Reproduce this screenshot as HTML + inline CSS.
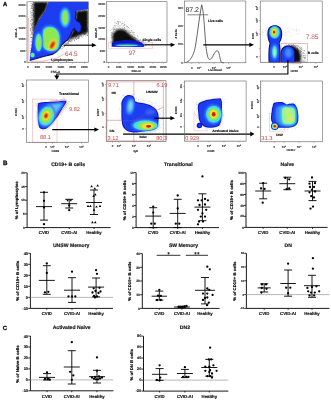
<!DOCTYPE html>
<html><head><meta charset="utf-8"><style>
html,body{margin:0;padding:0;background:#fff;width:331px;height:400px;overflow:hidden}
svg{display:block;position:absolute;left:0;top:0;opacity:0.999}
text{font-family:"Liberation Sans",sans-serif;text-rendering:geometricPrecision}
</style></head><body>
<svg width="331" height="400" viewBox="0 0 331 400" font-family="Liberation Sans, sans-serif">
<defs>
<filter id="b05" x="-20%" y="-20%" width="140%" height="140%"><feGaussianBlur stdDeviation="0.45"/></filter>
<filter id="b1" x="-20%" y="-20%" width="140%" height="140%"><feGaussianBlur stdDeviation="0.8"/></filter>
<filter id="b2" x="-30%" y="-30%" width="160%" height="160%"><feGaussianBlur stdDeviation="1.5"/></filter>
<filter id="b3" x="-30%" y="-30%" width="160%" height="160%"><feGaussianBlur stdDeviation="2.5"/></filter>
<filter id="dots" x="-5%" y="-5%" width="110%" height="110%" color-interpolation-filters="sRGB">
 <feTurbulence type="fractalNoise" baseFrequency="0.9" numOctaves="2" seed="3" result="n"/>
 <feColorMatrix in="n" type="matrix" values="0 0 0 0 0  0 0 0 0 0  0 0 0 0 0  0 0 0 3 -0.9" result="m"/>
 <feComposite in="SourceGraphic" in2="m" operator="in"/>
</filter>
</defs>
<rect width="331" height="400" fill="#fff"/>

<text x="2.9" y="6.2" font-size="5.8" text-anchor="start" fill="#111" font-weight="bold" stroke="#111" stroke-width="0.3" >A</text>
<text x="3.0" y="164.6" font-size="6.2" text-anchor="start" fill="#111" font-weight="bold" stroke="#111" stroke-width="0.3" >B</text>
<text x="2.8" y="330.1" font-size="6.0" text-anchor="start" fill="#111" font-weight="bold" stroke="#111" stroke-width="0.3" >C</text>
<g>
<clipPath id="c1"><rect x="27" y="1.8" width="61.5" height="60.5"/></clipPath>
<g clip-path="url(#c1)">
<path d="M33.7 30.6h0.5v0.5h-0.5zM31.9 18.9h0.5v0.5h-0.5zM31.8 47.3h0.5v0.5h-0.5zM43.9 4.2h0.5v0.5h-0.5zM33.1 2.6h0.5v0.5h-0.5zM40.6 5.1h0.5v0.5h-0.5zM33.8 15.4h0.5v0.5h-0.5zM30.6 27.9h0.5v0.5h-0.5zM39.1 17.4h0.5v0.5h-0.5zM36.3 14.7h0.5v0.5h-0.5zM35.8 5.7h0.5v0.5h-0.5zM31.5 37.2h0.5v0.5h-0.5zM31.7 20.5h0.5v0.5h-0.5zM32.4 15.6h0.5v0.5h-0.5zM32.0 5.2h0.5v0.5h-0.5zM45.9 11.8h0.5v0.5h-0.5zM32.6 38.0h0.5v0.5h-0.5zM32.3 25.4h0.5v0.5h-0.5zM34.3 17.0h0.5v0.5h-0.5zM34.2 24.0h0.5v0.5h-0.5zM32.0 57.4h0.5v0.5h-0.5zM34.3 16.3h0.5v0.5h-0.5zM35.9 5.9h0.5v0.5h-0.5zM31.8 34.5h0.5v0.5h-0.5zM34.9 35.6h0.5v0.5h-0.5zM37.4 27.3h0.5v0.5h-0.5zM33.7 10.5h0.5v0.5h-0.5zM35.0 12.5h0.5v0.5h-0.5zM38.4 7.6h0.5v0.5h-0.5zM30.8 55.9h0.5v0.5h-0.5zM41.9 18.3h0.5v0.5h-0.5zM33.5 42.3h0.5v0.5h-0.5zM31.4 14.6h0.5v0.5h-0.5zM42.3 17.5h0.5v0.5h-0.5zM30.3 16.9h0.5v0.5h-0.5zM38.9 5.2h0.5v0.5h-0.5zM33.5 22.5h0.5v0.5h-0.5zM41.4 9.2h0.5v0.5h-0.5zM32.8 3.8h0.5v0.5h-0.5zM30.4 53.0h0.5v0.5h-0.5zM30.4 37.6h0.5v0.5h-0.5zM31.5 32.5h0.5v0.5h-0.5zM31.6 37.7h0.5v0.5h-0.5zM31.7 44.0h0.5v0.5h-0.5zM30.6 35.6h0.5v0.5h-0.5zM39.6 14.7h0.5v0.5h-0.5zM35.1 2.4h0.5v0.5h-0.5zM34.1 11.3h0.5v0.5h-0.5zM34.0 26.0h0.5v0.5h-0.5zM32.7 29.7h0.5v0.5h-0.5zM35.5 11.3h0.5v0.5h-0.5zM39.0 17.3h0.5v0.5h-0.5zM34.3 25.1h0.5v0.5h-0.5zM31.5 3.6h0.5v0.5h-0.5zM47.5 4.1h0.5v0.5h-0.5zM39.1 3.2h0.5v0.5h-0.5zM32.8 4.4h0.5v0.5h-0.5zM43.7 13.0h0.5v0.5h-0.5zM39.5 11.8h0.5v0.5h-0.5zM30.2 28.3h0.5v0.5h-0.5zM44.3 11.9h0.5v0.5h-0.5zM35.4 21.2h0.5v0.5h-0.5zM48.1 6.7h0.5v0.5h-0.5zM32.6 27.3h0.5v0.5h-0.5zM43.0 13.3h0.5v0.5h-0.5zM31.7 26.6h0.5v0.5h-0.5zM39.7 3.4h0.5v0.5h-0.5zM46.2 5.4h0.5v0.5h-0.5zM46.0 11.5h0.5v0.5h-0.5zM32.8 10.2h0.5v0.5h-0.5zM34.4 31.4h0.5v0.5h-0.5zM36.2 23.2h0.5v0.5h-0.5zM41.5 13.1h0.5v0.5h-0.5zM42.1 3.4h0.5v0.5h-0.5zM43.8 5.5h0.5v0.5h-0.5zM35.4 28.4h0.5v0.5h-0.5zM32.5 26.2h0.5v0.5h-0.5zM39.5 19.6h0.5v0.5h-0.5zM33.8 36.5h0.5v0.5h-0.5zM45.6 3.1h0.5v0.5h-0.5zM33.9 14.6h0.5v0.5h-0.5zM32.1 42.9h0.5v0.5h-0.5zM32.5 30.5h0.5v0.5h-0.5zM35.0 12.9h0.5v0.5h-0.5zM37.5 25.0h0.5v0.5h-0.5zM40.6 10.8h0.5v0.5h-0.5zM34.1 37.3h0.5v0.5h-0.5zM47.8 9.3h0.5v0.5h-0.5zM35.2 7.3h0.5v0.5h-0.5zM45.8 8.9h0.5v0.5h-0.5zM30.4 13.1h0.5v0.5h-0.5zM33.8 5.8h0.5v0.5h-0.5zM32.1 3.9h0.5v0.5h-0.5zM41.4 10.0h0.5v0.5h-0.5zM33.7 13.3h0.5v0.5h-0.5zM31.2 55.3h0.5v0.5h-0.5zM36.5 28.0h0.5v0.5h-0.5zM42.0 2.5h0.5v0.5h-0.5zM33.6 27.3h0.5v0.5h-0.5zM33.9 11.1h0.5v0.5h-0.5zM40.3 2.7h0.5v0.5h-0.5zM44.5 5.8h0.5v0.5h-0.5zM36.8 28.1h0.5v0.5h-0.5zM49.6 3.1h0.5v0.5h-0.5zM35.1 24.4h0.5v0.5h-0.5zM31.0 12.8h0.5v0.5h-0.5zM37.5 7.3h0.5v0.5h-0.5zM46.2 6.1h0.5v0.5h-0.5zM30.9 54.1h0.5v0.5h-0.5zM33.2 28.3h0.5v0.5h-0.5zM33.4 29.6h0.5v0.5h-0.5zM42.2 5.1h0.5v0.5h-0.5zM37.3 17.9h0.5v0.5h-0.5zM35.9 2.6h0.5v0.5h-0.5zM34.9 4.2h0.5v0.5h-0.5zM33.1 44.2h0.5v0.5h-0.5zM45.0 4.6h0.5v0.5h-0.5zM31.5 52.7h0.5v0.5h-0.5zM42.1 8.3h0.5v0.5h-0.5zM34.1 4.7h0.5v0.5h-0.5zM40.6 8.8h0.5v0.5h-0.5zM39.1 16.5h0.5v0.5h-0.5zM32.3 52.0h0.5v0.5h-0.5zM37.2 17.1h0.5v0.5h-0.5zM45.1 12.5h0.5v0.5h-0.5zM30.8 5.2h0.5v0.5h-0.5zM35.4 25.7h0.5v0.5h-0.5zM42.5 7.6h0.5v0.5h-0.5zM40.8 5.9h0.5v0.5h-0.5zM31.7 39.8h0.5v0.5h-0.5zM34.2 21.1h0.5v0.5h-0.5zM31.5 8.5h0.5v0.5h-0.5zM45.4 13.8h0.5v0.5h-0.5zM38.5 16.3h0.5v0.5h-0.5zM38.6 22.6h0.5v0.5h-0.5zM31.9 51.0h0.5v0.5h-0.5zM31.6 6.5h0.5v0.5h-0.5zM45.5 6.1h0.5v0.5h-0.5zM34.3 39.0h0.5v0.5h-0.5zM31.6 18.9h0.5v0.5h-0.5zM35.7 9.8h0.5v0.5h-0.5zM37.3 8.4h0.5v0.5h-0.5zM36.4 24.3h0.5v0.5h-0.5zM35.0 22.1h0.5v0.5h-0.5zM37.3 22.2h0.5v0.5h-0.5zM37.9 23.6h0.5v0.5h-0.5zM33.9 33.5h0.5v0.5h-0.5zM33.5 44.5h0.5v0.5h-0.5zM30.4 30.8h0.5v0.5h-0.5zM46.1 5.4h0.5v0.5h-0.5zM31.7 6.4h0.5v0.5h-0.5zM31.7 37.4h0.5v0.5h-0.5zM32.9 43.7h0.5v0.5h-0.5zM43.0 15.6h0.5v0.5h-0.5zM37.9 20.8h0.5v0.5h-0.5zM38.4 10.0h0.5v0.5h-0.5zM37.5 11.2h0.5v0.5h-0.5zM34.1 25.7h0.5v0.5h-0.5zM31.2 19.1h0.5v0.5h-0.5zM32.3 38.2h0.5v0.5h-0.5zM45.5 11.9h0.5v0.5h-0.5zM31.2 27.6h0.5v0.5h-0.5zM30.7 7.9h0.5v0.5h-0.5zM33.7 14.0h0.5v0.5h-0.5zM41.9 14.4h0.5v0.5h-0.5zM33.7 17.6h0.5v0.5h-0.5zM33.5 44.4h0.5v0.5h-0.5zM39.7 14.2h0.5v0.5h-0.5zM31.0 55.1h0.5v0.5h-0.5zM43.2 15.2h0.5v0.5h-0.5zM30.2 28.4h0.5v0.5h-0.5zM33.1 10.6h0.5v0.5h-0.5zM36.4 16.4h0.5v0.5h-0.5zM35.3 31.8h0.5v0.5h-0.5zM33.0 45.1h0.5v0.5h-0.5zM30.0 48.0h0.5v0.5h-0.5zM31.6 17.0h0.5v0.5h-0.5zM44.3 7.3h0.5v0.5h-0.5zM48.3 6.9h0.5v0.5h-0.5zM33.2 48.6h0.5v0.5h-0.5zM36.2 19.3h0.5v0.5h-0.5zM31.5 19.0h0.5v0.5h-0.5zM32.1 24.0h0.5v0.5h-0.5zM30.2 23.0h0.5v0.5h-0.5zM44.2 15.1h0.5v0.5h-0.5zM30.2 57.5h0.5v0.5h-0.5zM36.0 20.8h0.5v0.5h-0.5zM35.1 13.0h0.5v0.5h-0.5zM46.5 7.0h0.5v0.5h-0.5zM32.8 7.1h0.5v0.5h-0.5zM33.6 24.4h0.5v0.5h-0.5zM31.8 14.5h0.5v0.5h-0.5zM33.1 8.8h0.5v0.5h-0.5zM38.1 5.9h0.5v0.5h-0.5zM37.7 20.4h0.5v0.5h-0.5zM38.2 2.7h0.5v0.5h-0.5zM30.4 20.4h0.5v0.5h-0.5zM32.1 23.0h0.5v0.5h-0.5zM33.2 44.9h0.5v0.5h-0.5zM32.8 41.9h0.5v0.5h-0.5zM42.5 12.9h0.5v0.5h-0.5zM31.7 15.5h0.5v0.5h-0.5zM37.2 27.8h0.5v0.5h-0.5zM41.2 16.7h0.5v0.5h-0.5zM32.5 48.1h0.5v0.5h-0.5zM34.8 34.0h0.5v0.5h-0.5zM46.6 12.2h0.5v0.5h-0.5zM41.0 6.1h0.5v0.5h-0.5zM30.6 11.9h0.5v0.5h-0.5zM46.1 2.7h0.5v0.5h-0.5zM34.0 28.1h0.5v0.5h-0.5zM32.9 23.5h0.5v0.5h-0.5zM41.4 11.6h0.5v0.5h-0.5zM40.4 16.6h0.5v0.5h-0.5zM42.8 3.9h0.5v0.5h-0.5zM43.4 9.9h0.5v0.5h-0.5zM36.4 4.9h0.5v0.5h-0.5zM41.9 5.7h0.5v0.5h-0.5zM32.5 26.9h0.5v0.5h-0.5zM31.0 40.9h0.5v0.5h-0.5zM40.5 15.2h0.5v0.5h-0.5zM36.1 24.0h0.5v0.5h-0.5zM34.7 5.6h0.5v0.5h-0.5zM32.0 46.3h0.5v0.5h-0.5zM32.5 32.0h0.5v0.5h-0.5zM49.0 1.8h0.5v0.5h-0.5zM34.9 18.6h0.5v0.5h-0.5zM36.5 5.3h0.5v0.5h-0.5zM37.9 21.8h0.5v0.5h-0.5zM41.7 4.4h0.5v0.5h-0.5zM30.6 52.3h0.5v0.5h-0.5zM36.2 29.8h0.5v0.5h-0.5zM39.5 13.4h0.5v0.5h-0.5zM39.4 11.5h0.5v0.5h-0.5zM34.0 37.3h0.5v0.5h-0.5zM31.0 7.8h0.5v0.5h-0.5zM44.3 9.4h0.5v0.5h-0.5zM38.9 6.2h0.5v0.5h-0.5zM34.5 19.1h0.5v0.5h-0.5zM44.2 12.8h0.5v0.5h-0.5zM33.6 15.0h0.5v0.5h-0.5zM34.6 18.7h0.5v0.5h-0.5zM31.8 57.0h0.5v0.5h-0.5zM40.6 4.3h0.5v0.5h-0.5zM42.0 17.8h0.5v0.5h-0.5zM31.7 17.8h0.5v0.5h-0.5zM35.6 32.6h0.5v0.5h-0.5zM40.0 11.9h0.5v0.5h-0.5zM45.6 11.1h0.5v0.5h-0.5zM42.2 15.0h0.5v0.5h-0.5zM34.7 29.3h0.5v0.5h-0.5zM34.4 34.4h0.5v0.5h-0.5zM40.0 3.8h0.5v0.5h-0.5zM33.6 10.3h0.5v0.5h-0.5zM30.4 29.7h0.5v0.5h-0.5zM31.5 52.8h0.5v0.5h-0.5zM32.9 19.3h0.5v0.5h-0.5zM30.8 19.5h0.5v0.5h-0.5zM31.8 47.9h0.5v0.5h-0.5zM33.4 16.1h0.5v0.5h-0.5zM33.2 40.6h0.5v0.5h-0.5zM31.2 24.9h0.5v0.5h-0.5zM37.3 14.0h0.5v0.5h-0.5zM30.8 15.3h0.5v0.5h-0.5zM37.9 18.6h0.5v0.5h-0.5zM38.5 6.1h0.5v0.5h-0.5zM30.7 57.8h0.5v0.5h-0.5zM34.6 16.0h0.5v0.5h-0.5zM41.0 15.4h0.5v0.5h-0.5zM37.3 20.7h0.5v0.5h-0.5zM30.8 24.5h0.5v0.5h-0.5zM43.0 5.1h0.5v0.5h-0.5zM34.3 21.3h0.5v0.5h-0.5zM33.7 32.7h0.5v0.5h-0.5zM33.3 13.2h0.5v0.5h-0.5zM34.3 28.1h0.5v0.5h-0.5zM36.2 26.9h0.5v0.5h-0.5zM37.7 5.9h0.5v0.5h-0.5zM35.5 2.8h0.5v0.5h-0.5zM33.6 16.5h0.5v0.5h-0.5zM37.2 10.4h0.5v0.5h-0.5zM48.1 2.9h0.5v0.5h-0.5zM36.4 23.4h0.5v0.5h-0.5zM31.7 51.4h0.5v0.5h-0.5zM40.4 4.9h0.5v0.5h-0.5zM37.9 15.2h0.5v0.5h-0.5zM30.8 10.3h0.5v0.5h-0.5zM41.9 3.6h0.5v0.5h-0.5zM36.2 25.6h0.5v0.5h-0.5zM40.9 9.4h0.5v0.5h-0.5zM32.9 13.3h0.5v0.5h-0.5zM38.1 23.5h0.5v0.5h-0.5zM35.8 21.2h0.5v0.5h-0.5zM34.3 4.1h0.5v0.5h-0.5zM30.5 37.2h0.5v0.5h-0.5zM42.7 6.9h0.5v0.5h-0.5zM38.6 23.9h0.5v0.5h-0.5zM31.2 23.3h0.5v0.5h-0.5zM35.6 10.7h0.5v0.5h-0.5zM33.3 39.2h0.5v0.5h-0.5zM34.8 7.0h0.5v0.5h-0.5zM36.8 25.5h0.5v0.5h-0.5zM33.0 34.5h0.5v0.5h-0.5zM44.0 3.1h0.5v0.5h-0.5zM37.8 22.3h0.5v0.5h-0.5zM31.3 24.5h0.5v0.5h-0.5zM31.1 29.7h0.5v0.5h-0.5zM36.5 16.0h0.5v0.5h-0.5zM30.5 21.3h0.5v0.5h-0.5zM33.7 28.2h0.5v0.5h-0.5zM38.2 25.2h0.5v0.5h-0.5zM48.2 3.9h0.5v0.5h-0.5zM32.7 30.3h0.5v0.5h-0.5zM36.2 22.1h0.5v0.5h-0.5zM33.8 14.6h0.5v0.5h-0.5zM43.6 15.0h0.5v0.5h-0.5zM37.9 15.3h0.5v0.5h-0.5zM33.2 36.7h0.5v0.5h-0.5zM37.4 17.9h0.5v0.5h-0.5zM34.7 15.8h0.5v0.5h-0.5zM36.5 11.8h0.5v0.5h-0.5zM40.3 8.9h0.5v0.5h-0.5zM31.3 5.7h0.5v0.5h-0.5zM32.0 41.4h0.5v0.5h-0.5zM32.3 27.2h0.5v0.5h-0.5zM47.4 4.8h0.5v0.5h-0.5zM35.1 30.3h0.5v0.5h-0.5zM32.5 23.0h0.5v0.5h-0.5zM43.4 14.8h0.5v0.5h-0.5zM33.7 2.6h0.5v0.5h-0.5zM31.0 41.9h0.5v0.5h-0.5zM32.4 4.2h0.5v0.5h-0.5zM36.6 3.3h0.5v0.5h-0.5zM37.5 19.2h0.5v0.5h-0.5zM35.7 23.8h0.5v0.5h-0.5zM46.0 10.1h0.5v0.5h-0.5zM33.5 7.8h0.5v0.5h-0.5zM39.8 8.6h0.5v0.5h-0.5zM36.5 2.9h0.5v0.5h-0.5zM41.3 9.9h0.5v0.5h-0.5zM42.5 17.2h0.5v0.5h-0.5zM34.6 28.9h0.5v0.5h-0.5zM37.3 16.4h0.5v0.5h-0.5zM31.0 5.4h0.5v0.5h-0.5zM31.6 12.1h0.5v0.5h-0.5zM31.2 32.7h0.5v0.5h-0.5zM44.5 11.7h0.5v0.5h-0.5zM30.5 11.3h0.5v0.5h-0.5zM32.4 6.0h0.5v0.5h-0.5zM49.2 2.4h0.5v0.5h-0.5zM48.2 3.1h0.5v0.5h-0.5zM41.5 14.6h0.5v0.5h-0.5zM37.8 22.6h0.5v0.5h-0.5zM37.1 17.5h0.5v0.5h-0.5zM31.9 20.6h0.5v0.5h-0.5zM44.8 13.7h0.5v0.5h-0.5zM43.6 11.8h0.5v0.5h-0.5zM32.1 9.8h0.5v0.5h-0.5zM37.0 26.0h0.5v0.5h-0.5zM30.2 30.0h0.5v0.5h-0.5zM38.1 19.9h0.5v0.5h-0.5zM34.4 24.7h0.5v0.5h-0.5zM44.1 11.8h0.5v0.5h-0.5zM33.7 21.9h0.5v0.5h-0.5zM42.9 13.7h0.5v0.5h-0.5zM32.3 48.9h0.5v0.5h-0.5zM37.7 14.7h0.5v0.5h-0.5zM40.3 3.6h0.5v0.5h-0.5zM39.8 15.0h0.5v0.5h-0.5zM31.5 33.0h0.5v0.5h-0.5zM45.9 10.3h0.5v0.5h-0.5zM37.3 7.4h0.5v0.5h-0.5zM30.7 21.2h0.5v0.5h-0.5zM32.3 12.0h0.5v0.5h-0.5zM31.4 57.3h0.5v0.5h-0.5zM34.1 37.2h0.5v0.5h-0.5zM33.9 39.4h0.5v0.5h-0.5zM38.6 2.7h0.5v0.5h-0.5zM36.8 19.5h0.5v0.5h-0.5zM42.6 17.5h0.5v0.5h-0.5zM33.6 9.0h0.5v0.5h-0.5zM32.6 8.3h0.5v0.5h-0.5zM37.2 12.8h0.5v0.5h-0.5zM36.2 24.7h0.5v0.5h-0.5zM32.9 37.3h0.5v0.5h-0.5zM34.7 34.4h0.5v0.5h-0.5zM39.0 5.4h0.5v0.5h-0.5zM38.4 17.6h0.5v0.5h-0.5zM43.4 15.6h0.5v0.5h-0.5zM38.2 9.2h0.5v0.5h-0.5zM38.4 21.0h0.5v0.5h-0.5zM32.0 52.2h0.5v0.5h-0.5zM31.8 22.2h0.5v0.5h-0.5zM30.5 37.4h0.5v0.5h-0.5zM39.4 22.1h0.5v0.5h-0.5zM39.3 19.6h0.5v0.5h-0.5zM31.3 27.8h0.5v0.5h-0.5zM34.2 22.6h0.5v0.5h-0.5zM32.9 24.0h0.5v0.5h-0.5zM44.8 6.5h0.5v0.5h-0.5zM33.3 38.3h0.5v0.5h-0.5zM32.4 28.1h0.5v0.5h-0.5zM30.3 50.1h0.5v0.5h-0.5zM30.5 21.5h0.5v0.5h-0.5zM32.2 46.2h0.5v0.5h-0.5zM36.0 30.3h0.5v0.5h-0.5zM32.5 33.7h0.5v0.5h-0.5zM32.6 6.8h0.5v0.5h-0.5zM40.2 18.3h0.5v0.5h-0.5zM38.3 4.9h0.5v0.5h-0.5zM34.4 27.2h0.5v0.5h-0.5zM47.0 7.7h0.5v0.5h-0.5zM47.0 10.5h0.5v0.5h-0.5zM38.3 2.4h0.5v0.5h-0.5zM33.1 47.8h0.5v0.5h-0.5zM33.1 31.6h0.5v0.5h-0.5zM30.6 8.0h0.5v0.5h-0.5zM30.9 25.2h0.5v0.5h-0.5zM31.6 16.5h0.5v0.5h-0.5zM32.2 53.4h0.5v0.5h-0.5zM36.6 29.3h0.5v0.5h-0.5zM37.9 18.6h0.5v0.5h-0.5zM37.4 25.9h0.5v0.5h-0.5zM39.5 21.9h0.5v0.5h-0.5zM31.0 48.8h0.5v0.5h-0.5zM31.2 31.5h0.5v0.5h-0.5zM34.5 7.4h0.5v0.5h-0.5zM37.4 19.5h0.5v0.5h-0.5zM39.7 14.7h0.5v0.5h-0.5zM49.3 2.2h0.5v0.5h-0.5zM37.4 18.7h0.5v0.5h-0.5zM36.3 29.8h0.5v0.5h-0.5zM31.1 7.0h0.5v0.5h-0.5zM35.0 17.0h0.5v0.5h-0.5zM31.7 57.1h0.5v0.5h-0.5zM31.1 44.7h0.5v0.5h-0.5zM31.0 36.9h0.5v0.5h-0.5zM42.8 3.1h0.5v0.5h-0.5zM41.6 2.1h0.5v0.5h-0.5zM48.3 6.0h0.5v0.5h-0.5zM32.4 19.8h0.5v0.5h-0.5zM44.7 5.8h0.5v0.5h-0.5zM32.3 48.7h0.5v0.5h-0.5zM32.3 8.5h0.5v0.5h-0.5zM34.2 25.1h0.5v0.5h-0.5zM32.5 50.9h0.5v0.5h-0.5zM39.4 3.6h0.5v0.5h-0.5zM38.6 23.0h0.5v0.5h-0.5zM32.1 43.5h0.5v0.5h-0.5zM33.3 34.7h0.5v0.5h-0.5zM34.0 21.3h0.5v0.5h-0.5zM33.3 21.5h0.5v0.5h-0.5zM43.9 14.9h0.5v0.5h-0.5zM41.5 16.2h0.5v0.5h-0.5zM31.3 48.2h0.5v0.5h-0.5zM39.7 14.8h0.5v0.5h-0.5zM45.1 7.5h0.5v0.5h-0.5zM30.7 41.1h0.5v0.5h-0.5zM36.7 10.3h0.5v0.5h-0.5zM46.1 7.3h0.5v0.5h-0.5zM34.0 31.9h0.5v0.5h-0.5zM42.2 8.6h0.5v0.5h-0.5zM35.0 2.9h0.5v0.5h-0.5zM40.7 16.1h0.5v0.5h-0.5zM35.9 16.0h0.5v0.5h-0.5zM32.6 29.0h0.5v0.5h-0.5zM35.5 17.8h0.5v0.5h-0.5zM35.6 30.4h0.5v0.5h-0.5zM31.1 54.4h0.5v0.5h-0.5zM34.7 27.2h0.5v0.5h-0.5zM32.2 54.7h0.5v0.5h-0.5zM43.1 5.8h0.5v0.5h-0.5zM48.0 7.5h0.5v0.5h-0.5zM41.3 8.5h0.5v0.5h-0.5zM47.4 5.3h0.5v0.5h-0.5zM43.3 5.6h0.5v0.5h-0.5zM30.6 33.9h0.5v0.5h-0.5zM40.4 6.1h0.5v0.5h-0.5zM40.5 12.2h0.5v0.5h-0.5zM40.0 12.9h0.5v0.5h-0.5zM39.7 6.2h0.5v0.5h-0.5zM32.7 18.7h0.5v0.5h-0.5zM30.4 29.3h0.5v0.5h-0.5zM30.6 8.1h0.5v0.5h-0.5zM30.5 3.6h0.5v0.5h-0.5zM36.7 21.3h0.5v0.5h-0.5zM30.3 45.1h0.5v0.5h-0.5zM35.2 34.7h0.5v0.5h-0.5zM33.5 10.2h0.5v0.5h-0.5zM35.1 28.7h0.5v0.5h-0.5zM35.2 31.2h0.5v0.5h-0.5zM33.7 14.9h0.5v0.5h-0.5zM36.0 20.3h0.5v0.5h-0.5zM31.6 44.7h0.5v0.5h-0.5zM34.9 14.0h0.5v0.5h-0.5zM37.4 21.8h0.5v0.5h-0.5zM37.7 9.4h0.5v0.5h-0.5zM37.6 17.9h0.5v0.5h-0.5zM30.3 29.8h0.5v0.5h-0.5zM37.6 5.5h0.5v0.5h-0.5z" fill="#111" opacity="0.8"/>
<path d="M72.5 36.4h0.5v0.5h-0.5zM78.3 14.6h0.5v0.5h-0.5zM66.4 42.9h0.5v0.5h-0.5zM79.1 34.1h0.5v0.5h-0.5zM75.0 36.6h0.5v0.5h-0.5zM62.9 47.0h0.5v0.5h-0.5zM83.7 9.3h0.5v0.5h-0.5zM77.0 15.4h0.5v0.5h-0.5zM79.3 10.7h0.5v0.5h-0.5zM63.2 43.2h0.5v0.5h-0.5zM76.2 28.8h0.5v0.5h-0.5zM79.0 37.1h0.5v0.5h-0.5zM82.7 29.8h0.5v0.5h-0.5zM69.8 41.3h0.5v0.5h-0.5zM81.5 23.0h0.5v0.5h-0.5zM67.8 42.0h0.5v0.5h-0.5zM83.4 35.7h0.5v0.5h-0.5zM72.6 35.1h0.5v0.5h-0.5zM85.3 15.4h0.5v0.5h-0.5zM73.7 38.1h0.5v0.5h-0.5zM79.5 17.6h0.5v0.5h-0.5zM78.8 38.0h0.5v0.5h-0.5zM62.0 46.2h0.5v0.5h-0.5zM75.1 35.1h0.5v0.5h-0.5zM81.2 26.3h0.5v0.5h-0.5zM82.1 33.2h0.5v0.5h-0.5zM80.4 32.4h0.5v0.5h-0.5zM74.5 34.9h0.5v0.5h-0.5zM79.4 25.3h0.5v0.5h-0.5zM67.9 37.6h0.5v0.5h-0.5zM67.5 38.1h0.5v0.5h-0.5zM81.2 36.5h0.5v0.5h-0.5zM86.5 24.0h0.5v0.5h-0.5zM78.4 23.0h0.5v0.5h-0.5zM86.8 8.8h0.5v0.5h-0.5zM73.3 38.2h0.5v0.5h-0.5zM81.2 25.3h0.5v0.5h-0.5zM78.5 36.7h0.5v0.5h-0.5zM87.7 32.0h0.5v0.5h-0.5zM78.8 23.4h0.5v0.5h-0.5zM80.3 22.2h0.5v0.5h-0.5zM82.5 20.6h0.5v0.5h-0.5zM86.6 33.9h0.5v0.5h-0.5zM85.4 22.1h0.5v0.5h-0.5zM83.7 34.4h0.5v0.5h-0.5zM81.9 26.0h0.5v0.5h-0.5zM76.8 19.7h0.5v0.5h-0.5zM82.6 15.7h0.5v0.5h-0.5zM87.6 30.7h0.5v0.5h-0.5zM68.9 39.7h0.5v0.5h-0.5zM64.4 45.9h0.5v0.5h-0.5zM84.3 34.3h0.5v0.5h-0.5zM74.1 36.2h0.5v0.5h-0.5zM82.4 30.0h0.5v0.5h-0.5zM77.4 28.4h0.5v0.5h-0.5zM77.3 25.0h0.5v0.5h-0.5zM79.8 20.3h0.5v0.5h-0.5zM86.2 29.4h0.5v0.5h-0.5zM83.6 14.0h0.5v0.5h-0.5zM87.0 9.7h0.5v0.5h-0.5zM81.1 26.5h0.5v0.5h-0.5zM86.5 23.9h0.5v0.5h-0.5zM76.3 36.9h0.5v0.5h-0.5zM72.7 39.6h0.5v0.5h-0.5zM77.0 31.3h0.5v0.5h-0.5zM69.8 34.5h0.5v0.5h-0.5zM77.3 15.8h0.5v0.5h-0.5zM74.7 33.8h0.5v0.5h-0.5zM88.4 22.5h0.5v0.5h-0.5zM86.6 21.1h0.5v0.5h-0.5zM77.8 11.6h0.5v0.5h-0.5zM78.5 12.8h0.5v0.5h-0.5zM65.6 42.9h0.5v0.5h-0.5zM66.6 44.2h0.5v0.5h-0.5zM77.5 35.6h0.5v0.5h-0.5zM76.0 28.9h0.5v0.5h-0.5zM87.3 28.0h0.5v0.5h-0.5zM86.6 25.1h0.5v0.5h-0.5zM80.2 29.8h0.5v0.5h-0.5zM78.2 34.7h0.5v0.5h-0.5zM79.8 23.6h0.5v0.5h-0.5zM85.5 14.9h0.5v0.5h-0.5zM83.5 26.4h0.5v0.5h-0.5zM86.4 31.0h0.5v0.5h-0.5zM85.6 13.1h0.5v0.5h-0.5zM76.8 16.4h0.5v0.5h-0.5zM77.6 27.0h0.5v0.5h-0.5zM60.4 47.6h0.5v0.5h-0.5zM73.9 32.4h0.5v0.5h-0.5zM74.8 31.6h0.5v0.5h-0.5zM83.8 24.3h0.5v0.5h-0.5zM85.5 9.5h0.5v0.5h-0.5zM82.3 30.9h0.5v0.5h-0.5zM77.8 23.9h0.5v0.5h-0.5zM87.8 14.5h0.5v0.5h-0.5zM76.4 14.2h0.5v0.5h-0.5zM87.5 31.1h0.5v0.5h-0.5zM63.4 43.6h0.5v0.5h-0.5zM78.2 20.5h0.5v0.5h-0.5zM75.4 38.3h0.5v0.5h-0.5zM80.9 20.6h0.5v0.5h-0.5zM81.0 26.9h0.5v0.5h-0.5zM77.0 23.7h0.5v0.5h-0.5zM75.3 31.4h0.5v0.5h-0.5zM85.6 21.2h0.5v0.5h-0.5zM84.6 21.9h0.5v0.5h-0.5zM86.6 10.9h0.5v0.5h-0.5zM78.2 38.5h0.5v0.5h-0.5zM87.3 11.3h0.5v0.5h-0.5zM78.1 28.9h0.5v0.5h-0.5zM86.4 30.4h0.5v0.5h-0.5zM78.5 28.4h0.5v0.5h-0.5zM78.7 33.6h0.5v0.5h-0.5zM78.9 30.5h0.5v0.5h-0.5zM77.8 14.6h0.5v0.5h-0.5zM74.5 15.6h0.5v0.5h-0.5zM80.3 29.1h0.5v0.5h-0.5zM85.1 15.3h0.5v0.5h-0.5zM60.7 48.4h0.5v0.5h-0.5zM76.6 38.0h0.5v0.5h-0.5zM75.0 14.8h0.5v0.5h-0.5zM87.8 29.6h0.5v0.5h-0.5zM85.7 14.7h0.5v0.5h-0.5zM65.6 45.0h0.5v0.5h-0.5zM78.4 26.6h0.5v0.5h-0.5zM85.7 8.9h0.5v0.5h-0.5zM80.4 14.5h0.5v0.5h-0.5zM83.6 31.3h0.5v0.5h-0.5zM67.0 42.2h0.5v0.5h-0.5zM85.9 9.6h0.5v0.5h-0.5zM65.8 41.2h0.5v0.5h-0.5zM85.9 25.2h0.5v0.5h-0.5zM79.2 36.3h0.5v0.5h-0.5zM79.1 12.4h0.5v0.5h-0.5zM85.1 15.2h0.5v0.5h-0.5zM71.6 37.7h0.5v0.5h-0.5zM80.2 10.5h0.5v0.5h-0.5zM84.6 21.9h0.5v0.5h-0.5zM79.8 15.9h0.5v0.5h-0.5zM88.2 8.8h0.5v0.5h-0.5zM62.1 47.9h0.5v0.5h-0.5zM80.1 14.6h0.5v0.5h-0.5zM82.1 31.3h0.5v0.5h-0.5zM87.5 35.0h0.5v0.5h-0.5zM80.9 23.5h0.5v0.5h-0.5zM84.2 10.2h0.5v0.5h-0.5zM88.0 11.1h0.5v0.5h-0.5zM81.7 33.2h0.5v0.5h-0.5zM77.8 29.0h0.5v0.5h-0.5zM84.0 33.1h0.5v0.5h-0.5zM77.2 33.4h0.5v0.5h-0.5zM68.1 39.1h0.5v0.5h-0.5zM74.0 39.4h0.5v0.5h-0.5zM84.9 26.7h0.5v0.5h-0.5zM73.1 37.5h0.5v0.5h-0.5zM61.2 48.8h0.5v0.5h-0.5zM82.1 19.4h0.5v0.5h-0.5zM79.8 32.4h0.5v0.5h-0.5zM71.8 35.1h0.5v0.5h-0.5zM71.9 36.4h0.5v0.5h-0.5zM77.5 38.5h0.5v0.5h-0.5zM84.4 31.3h0.5v0.5h-0.5zM74.5 14.7h0.5v0.5h-0.5zM64.0 46.6h0.5v0.5h-0.5zM77.0 9.8h0.5v0.5h-0.5zM59.8 48.8h0.5v0.5h-0.5zM77.4 20.4h0.5v0.5h-0.5zM75.0 37.7h0.5v0.5h-0.5zM86.2 17.3h0.5v0.5h-0.5zM81.3 35.1h0.5v0.5h-0.5zM75.5 26.9h0.5v0.5h-0.5zM81.1 24.5h0.5v0.5h-0.5zM83.4 29.6h0.5v0.5h-0.5zM78.4 10.9h0.5v0.5h-0.5zM86.8 22.6h0.5v0.5h-0.5zM73.3 34.7h0.5v0.5h-0.5zM82.8 12.2h0.5v0.5h-0.5zM73.7 36.0h0.5v0.5h-0.5zM85.2 27.5h0.5v0.5h-0.5zM76.4 28.8h0.5v0.5h-0.5zM79.0 12.7h0.5v0.5h-0.5zM81.0 15.9h0.5v0.5h-0.5zM76.0 35.0h0.5v0.5h-0.5zM83.9 34.6h0.5v0.5h-0.5zM63.4 43.2h0.5v0.5h-0.5zM82.2 26.3h0.5v0.5h-0.5zM62.1 43.9h0.5v0.5h-0.5zM65.0 42.1h0.5v0.5h-0.5zM75.8 13.7h0.5v0.5h-0.5zM84.0 13.2h0.5v0.5h-0.5zM78.6 36.0h0.5v0.5h-0.5zM84.0 34.1h0.5v0.5h-0.5zM85.3 19.8h0.5v0.5h-0.5zM62.5 46.0h0.5v0.5h-0.5zM83.1 16.9h0.5v0.5h-0.5zM80.6 16.9h0.5v0.5h-0.5zM73.4 35.2h0.5v0.5h-0.5zM81.9 24.4h0.5v0.5h-0.5zM80.7 34.0h0.5v0.5h-0.5zM67.3 43.3h0.5v0.5h-0.5zM82.9 26.7h0.5v0.5h-0.5zM79.9 26.1h0.5v0.5h-0.5zM85.3 34.6h0.5v0.5h-0.5zM76.7 30.7h0.5v0.5h-0.5zM77.7 27.5h0.5v0.5h-0.5zM81.9 24.1h0.5v0.5h-0.5zM76.9 22.0h0.5v0.5h-0.5zM79.9 20.3h0.5v0.5h-0.5zM84.9 26.6h0.5v0.5h-0.5zM87.4 19.4h0.5v0.5h-0.5zM71.6 34.5h0.5v0.5h-0.5zM76.2 36.5h0.5v0.5h-0.5zM75.1 15.3h0.5v0.5h-0.5zM84.3 26.8h0.5v0.5h-0.5zM70.9 35.6h0.5v0.5h-0.5zM87.1 13.7h0.5v0.5h-0.5zM78.3 12.8h0.5v0.5h-0.5zM81.4 9.5h0.5v0.5h-0.5zM88.2 8.7h0.5v0.5h-0.5zM71.0 32.7h0.5v0.5h-0.5zM78.2 9.8h0.5v0.5h-0.5zM73.9 39.6h0.5v0.5h-0.5zM85.7 24.0h0.5v0.5h-0.5zM83.2 33.6h0.5v0.5h-0.5zM75.1 11.0h0.5v0.5h-0.5zM76.5 15.2h0.5v0.5h-0.5zM68.0 41.2h0.5v0.5h-0.5zM75.7 14.2h0.5v0.5h-0.5zM88.0 9.4h0.5v0.5h-0.5zM70.6 38.8h0.5v0.5h-0.5zM75.7 36.2h0.5v0.5h-0.5zM85.5 12.6h0.5v0.5h-0.5zM76.3 28.2h0.5v0.5h-0.5zM75.0 15.6h0.5v0.5h-0.5zM85.8 25.1h0.5v0.5h-0.5zM79.6 31.1h0.5v0.5h-0.5zM71.1 41.6h0.5v0.5h-0.5zM75.2 36.9h0.5v0.5h-0.5zM83.5 20.2h0.5v0.5h-0.5zM75.0 29.5h0.5v0.5h-0.5zM84.4 11.9h0.5v0.5h-0.5zM82.2 11.2h0.5v0.5h-0.5zM87.9 22.0h0.5v0.5h-0.5zM80.7 22.6h0.5v0.5h-0.5zM80.8 15.8h0.5v0.5h-0.5zM76.5 13.2h0.5v0.5h-0.5zM77.2 18.1h0.5v0.5h-0.5zM82.1 19.6h0.5v0.5h-0.5zM83.9 10.5h0.5v0.5h-0.5zM82.7 12.5h0.5v0.5h-0.5zM87.6 32.1h0.5v0.5h-0.5zM80.9 30.4h0.5v0.5h-0.5zM78.4 37.7h0.5v0.5h-0.5zM85.7 17.8h0.5v0.5h-0.5zM81.9 19.3h0.5v0.5h-0.5zM84.6 22.1h0.5v0.5h-0.5zM72.6 37.9h0.5v0.5h-0.5zM77.0 32.4h0.5v0.5h-0.5zM80.4 22.7h0.5v0.5h-0.5zM82.9 23.4h0.5v0.5h-0.5zM87.1 34.9h0.5v0.5h-0.5zM83.3 21.6h0.5v0.5h-0.5zM70.7 39.9h0.5v0.5h-0.5zM87.2 15.8h0.5v0.5h-0.5zM73.5 36.1h0.5v0.5h-0.5zM81.2 36.6h0.5v0.5h-0.5zM88.4 31.7h0.5v0.5h-0.5zM65.2 43.8h0.5v0.5h-0.5zM77.7 38.3h0.5v0.5h-0.5zM86.6 30.9h0.5v0.5h-0.5zM86.4 18.1h0.5v0.5h-0.5zM69.7 40.9h0.5v0.5h-0.5zM82.4 10.7h0.5v0.5h-0.5zM82.6 18.8h0.5v0.5h-0.5zM88.5 22.7h0.5v0.5h-0.5zM81.8 25.9h0.5v0.5h-0.5zM78.8 17.9h0.5v0.5h-0.5zM71.5 40.6h0.5v0.5h-0.5zM77.7 20.3h0.5v0.5h-0.5zM68.7 43.0h0.5v0.5h-0.5zM79.5 30.4h0.5v0.5h-0.5zM67.9 40.5h0.5v0.5h-0.5zM85.7 19.8h0.5v0.5h-0.5zM76.7 35.7h0.5v0.5h-0.5zM80.8 15.0h0.5v0.5h-0.5zM66.4 43.8h0.5v0.5h-0.5zM74.0 39.9h0.5v0.5h-0.5zM78.7 20.5h0.5v0.5h-0.5zM86.3 33.1h0.5v0.5h-0.5zM75.0 14.0h0.5v0.5h-0.5zM65.9 41.8h0.5v0.5h-0.5zM75.2 35.7h0.5v0.5h-0.5zM84.5 23.4h0.5v0.5h-0.5zM76.9 16.2h0.5v0.5h-0.5zM71.4 38.5h0.5v0.5h-0.5zM84.1 20.7h0.5v0.5h-0.5zM83.4 14.6h0.5v0.5h-0.5zM78.3 10.3h0.5v0.5h-0.5zM85.9 19.0h0.5v0.5h-0.5zM86.6 26.6h0.5v0.5h-0.5zM78.2 10.6h0.5v0.5h-0.5zM88.0 16.5h0.5v0.5h-0.5zM86.5 25.3h0.5v0.5h-0.5zM74.9 17.1h0.5v0.5h-0.5zM75.2 19.4h0.5v0.5h-0.5zM76.8 11.4h0.5v0.5h-0.5zM85.1 11.9h0.5v0.5h-0.5zM86.9 9.7h0.5v0.5h-0.5zM78.6 12.3h0.5v0.5h-0.5zM64.3 43.5h0.5v0.5h-0.5zM86.0 10.9h0.5v0.5h-0.5zM69.0 37.3h0.5v0.5h-0.5zM86.7 35.5h0.5v0.5h-0.5zM84.3 18.3h0.5v0.5h-0.5zM69.5 39.9h0.5v0.5h-0.5zM81.1 16.2h0.5v0.5h-0.5zM82.6 18.6h0.5v0.5h-0.5zM74.5 40.2h0.5v0.5h-0.5zM79.0 19.4h0.5v0.5h-0.5zM87.2 9.8h0.5v0.5h-0.5zM83.7 10.9h0.5v0.5h-0.5zM77.1 27.3h0.5v0.5h-0.5zM77.8 38.7h0.5v0.5h-0.5zM83.1 32.3h0.5v0.5h-0.5zM83.3 25.3h0.5v0.5h-0.5zM84.0 16.2h0.5v0.5h-0.5zM83.0 12.5h0.5v0.5h-0.5zM69.3 40.8h0.5v0.5h-0.5zM83.4 25.6h0.5v0.5h-0.5zM87.3 27.0h0.5v0.5h-0.5zM87.2 29.5h0.5v0.5h-0.5zM78.7 26.2h0.5v0.5h-0.5zM82.9 19.0h0.5v0.5h-0.5zM86.9 29.2h0.5v0.5h-0.5zM84.9 32.9h0.5v0.5h-0.5zM87.2 28.4h0.5v0.5h-0.5zM85.6 27.2h0.5v0.5h-0.5zM73.8 30.1h0.5v0.5h-0.5zM86.6 14.2h0.5v0.5h-0.5zM79.4 17.2h0.5v0.5h-0.5zM67.9 41.8h0.5v0.5h-0.5zM60.3 47.4h0.5v0.5h-0.5zM83.8 33.8h0.5v0.5h-0.5zM87.5 22.5h0.5v0.5h-0.5zM76.3 36.8h0.5v0.5h-0.5zM83.5 14.8h0.5v0.5h-0.5zM74.7 28.3h0.5v0.5h-0.5zM85.2 35.8h0.5v0.5h-0.5zM88.0 12.9h0.5v0.5h-0.5zM78.3 28.0h0.5v0.5h-0.5zM85.0 21.7h0.5v0.5h-0.5zM88.2 32.8h0.5v0.5h-0.5zM87.6 28.7h0.5v0.5h-0.5zM83.4 13.4h0.5v0.5h-0.5zM80.0 17.4h0.5v0.5h-0.5zM84.1 31.6h0.5v0.5h-0.5zM74.8 38.8h0.5v0.5h-0.5zM82.7 21.0h0.5v0.5h-0.5zM83.6 12.3h0.5v0.5h-0.5zM77.3 20.2h0.5v0.5h-0.5zM86.4 23.0h0.5v0.5h-0.5zM88.2 17.0h0.5v0.5h-0.5zM80.0 36.0h0.5v0.5h-0.5zM63.1 46.7h0.5v0.5h-0.5zM82.1 18.2h0.5v0.5h-0.5zM72.5 40.7h0.5v0.5h-0.5zM75.2 11.5h0.5v0.5h-0.5zM85.0 31.9h0.5v0.5h-0.5zM69.9 41.7h0.5v0.5h-0.5zM76.2 38.9h0.5v0.5h-0.5zM80.1 19.6h0.5v0.5h-0.5zM83.7 11.2h0.5v0.5h-0.5zM75.6 31.4h0.5v0.5h-0.5zM81.9 36.9h0.5v0.5h-0.5zM68.2 41.6h0.5v0.5h-0.5zM78.5 19.5h0.5v0.5h-0.5zM65.5 43.0h0.5v0.5h-0.5zM70.1 41.3h0.5v0.5h-0.5zM83.5 20.9h0.5v0.5h-0.5zM88.4 31.2h0.5v0.5h-0.5zM82.3 23.7h0.5v0.5h-0.5zM79.9 30.6h0.5v0.5h-0.5zM88.0 32.7h0.5v0.5h-0.5zM85.5 33.4h0.5v0.5h-0.5zM79.7 11.2h0.5v0.5h-0.5zM78.1 28.7h0.5v0.5h-0.5zM84.3 18.6h0.5v0.5h-0.5zM76.4 38.1h0.5v0.5h-0.5zM76.2 39.4h0.5v0.5h-0.5zM81.5 19.3h0.5v0.5h-0.5zM78.9 37.9h0.5v0.5h-0.5zM64.2 45.8h0.5v0.5h-0.5zM84.2 33.6h0.5v0.5h-0.5zM77.1 30.9h0.5v0.5h-0.5zM76.3 15.2h0.5v0.5h-0.5zM84.1 34.6h0.5v0.5h-0.5zM81.1 20.8h0.5v0.5h-0.5zM85.4 13.1h0.5v0.5h-0.5zM71.7 39.7h0.5v0.5h-0.5zM69.5 36.6h0.5v0.5h-0.5zM76.7 18.1h0.5v0.5h-0.5zM62.7 46.1h0.5v0.5h-0.5zM75.5 16.1h0.5v0.5h-0.5zM86.6 16.9h0.5v0.5h-0.5zM77.7 37.1h0.5v0.5h-0.5zM67.8 43.2h0.5v0.5h-0.5zM75.4 34.7h0.5v0.5h-0.5zM76.7 18.5h0.5v0.5h-0.5zM79.6 12.4h0.5v0.5h-0.5zM87.2 12.4h0.5v0.5h-0.5zM84.1 21.4h0.5v0.5h-0.5zM77.5 22.1h0.5v0.5h-0.5zM77.3 32.6h0.5v0.5h-0.5zM82.2 24.9h0.5v0.5h-0.5zM81.3 21.0h0.5v0.5h-0.5zM78.4 23.4h0.5v0.5h-0.5zM83.3 33.0h0.5v0.5h-0.5zM84.6 18.6h0.5v0.5h-0.5zM68.0 42.7h0.5v0.5h-0.5zM86.3 28.6h0.5v0.5h-0.5zM77.7 24.6h0.5v0.5h-0.5zM81.2 17.2h0.5v0.5h-0.5zM82.9 26.7h0.5v0.5h-0.5zM78.3 30.9h0.5v0.5h-0.5zM87.1 34.4h0.5v0.5h-0.5zM88.1 20.0h0.5v0.5h-0.5zM80.3 32.6h0.5v0.5h-0.5zM87.7 30.1h0.5v0.5h-0.5zM84.7 28.0h0.5v0.5h-0.5zM70.2 36.4h0.5v0.5h-0.5zM79.3 20.4h0.5v0.5h-0.5zM82.0 19.0h0.5v0.5h-0.5zM87.0 31.1h0.5v0.5h-0.5zM83.3 15.5h0.5v0.5h-0.5zM77.3 29.5h0.5v0.5h-0.5zM80.9 14.2h0.5v0.5h-0.5zM85.1 19.6h0.5v0.5h-0.5zM72.3 35.1h0.5v0.5h-0.5zM80.5 20.9h0.5v0.5h-0.5zM78.1 12.3h0.5v0.5h-0.5zM84.0 32.2h0.5v0.5h-0.5zM85.6 19.0h0.5v0.5h-0.5zM82.4 14.8h0.5v0.5h-0.5zM78.7 37.4h0.5v0.5h-0.5zM79.4 33.5h0.5v0.5h-0.5zM82.8 27.4h0.5v0.5h-0.5zM85.9 26.2h0.5v0.5h-0.5zM87.0 17.7h0.5v0.5h-0.5zM73.8 30.0h0.5v0.5h-0.5zM77.0 37.5h0.5v0.5h-0.5z" fill="#111" opacity="0.8"/>
<path d="M33.5,1.8 L48.5,1.8 L45.5,11 L40,18 L36,28 L34.5,38 L33.5,46 L32.5,52 L33,40 L33.5,20 Z" fill="#0a0a0a" filter="url(#b1)"/>
<path d="M76.5,11 L88,10 L88,32.5 L81,35 L73.5,37.8 L69,40 L65.5,42.5 L67.5,40.5 L70.5,35.3 L74.2,27.7 L76.5,25.4 L75.8,18 Z" fill="#0a0a0a" filter="url(#b1)"/>
<path d="M48.5,1.8 L88.5,1.8 L88.5,9 L76,10.9 L75.4,18.1 L77,21 L80,22.5 L81.5,26 L81,31 L78.5,33 L76,31 L74.2,28.5 L72,31.5 L70.5,35.3 L67.5,40 L65.6,41 L61.6,45.2 L59.6,48.3 L56.4,51.8 L52.2,54.4 L45.5,56 L40,57.5 L29.8,60.5 L30.5,52 L31.8,45 L33,36 L35.5,27 L39.5,19 L45,11.5 Z" fill="#1f3cf0" filter="url(#b05)"/>
<path d="M76,10.9 L75.4,18.1 L77,21 L80,22.5 L81.5,26 L81,31 L78.5,33 L76,31 L74.2,28.5 L72,31.5 L70.5,35.3 L67.5,40 L65.6,41 L61.6,45.2 L59.6,48.3 L56.4,51.8 L52.2,54.4 L45.5,56 L40,57.5 L29.8,60.5" fill="none" stroke="#0a1070" stroke-width="1.1" filter="url(#b05)"/>
<ellipse cx="65.1" cy="17.5" rx="5" ry="10" fill="#3c8cff" filter="url(#b1)"/>
<ellipse cx="65.1" cy="17.5" rx="4" ry="8.6" fill="#40e0f0" filter="url(#b1)"/>
<ellipse cx="65.1" cy="17.6" rx="2.8" ry="6.8" fill="#90e850" filter="url(#b05)"/>
<path d="M42,31 C42.5,26.5 47,25 51,25.5 C55,26 58.5,29 60,33 C61,37 60.8,43 59.5,47.5 C58,51.5 54,52.5 50,52 C46,51.5 43,50 42,46 C41.5,41 41.6,35 42,31 Z" fill="#3c8cff" filter="url(#b1)"/>
<path d="M43,31.5 C43.5,27.6 47,26.3 51,26.7 C54.7,27.1 57.6,29.8 59,33.4 C60,37 59.8,43 58.6,47 C57.3,50.4 54,51.4 50,51 C46.4,50.5 43.9,49.2 43,45.7 C42.5,41 42.6,35 43,31.5 Z" fill="#40e0f0" filter="url(#b05)"/>
<path d="M44,32 C44.4,28.8 47.2,27.6 51,28 C54.4,28.3 56.8,30.7 58,34 C59,37.5 58.8,43 57.7,46.5 C56.5,49.3 53.6,50.2 50,49.9 C46.8,49.5 44.8,48.4 44,45.4 C43.5,41 43.6,35.5 44,32 Z" fill="#90e850" filter="url(#b05)"/>
<ellipse cx="38.6" cy="42.3" rx="4.2" ry="10" fill="#3c8cff" filter="url(#b1)"/>
<ellipse cx="38.6" cy="42.5" rx="3.2" ry="8.8" fill="#40e0f0" filter="url(#b05)"/>
<ellipse cx="38.6" cy="43" rx="2.2" ry="7.4" fill="#90e850" filter="url(#b05)"/>
<ellipse cx="52.6" cy="44.8" rx="3.5" ry="5.8" transform="rotate(29 52.6 44.8)" fill="#f0e030" filter="url(#b1)"/>
<ellipse cx="52.5" cy="44.9" rx="2.3" ry="4.4" transform="rotate(29 52.5 44.9)" fill="#f08020" filter="url(#b05)"/>
<ellipse cx="52.4" cy="45.1" rx="1.1" ry="3.1" transform="rotate(29 52.4 45.1)" fill="#d02010" filter="url(#b05)"/>
<ellipse cx="32.6" cy="55" rx="2.2" ry="2.6" fill="#40e0f0" filter="url(#b05)"/>
<ellipse cx="32.6" cy="55" rx="1.2" ry="1.5" fill="#90e850"/>
</g>
<path d="M28.6,18 L28.8,59.5 L31,61.3 L43,61.3 L57,58 L65,53.5" fill="none" stroke="#e05050" stroke-width="0.4"/>
<rect x="27" y="1.8" width="61.5" height="60.5" fill="none" stroke="#666" stroke-width="0.6"/>
<path d="M28.5 62.3v-0.9M30.1 62.3v-0.9M31.7 62.3v-0.9M33.3 62.3v-0.9M34.9 62.3v-0.9M36.5 62.3v-0.9M38.1 62.3v-0.9M39.7 62.3v-0.9M41.3 62.3v-0.9M42.9 62.3v-0.9M44.5 62.3v-0.9M46.1 62.3v-0.9M47.7 62.3v-0.9M49.3 62.3v-0.9M50.9 62.3v-0.9M52.5 62.3v-0.9M54.1 62.3v-0.9M55.7 62.3v-0.9M57.3 62.3v-0.9M58.9 62.3v-0.9M60.5 62.3v-0.9M62.1 62.3v-0.9M63.7 62.3v-0.9M65.3 62.3v-0.9M66.9 62.3v-0.9M68.5 62.3v-0.9M70.1 62.3v-0.9M71.7 62.3v-0.9M73.3 62.3v-0.9M74.9 62.3v-0.9M76.5 62.3v-0.9M78.1 62.3v-0.9M79.7 62.3v-0.9M81.3 62.3v-0.9M82.9 62.3v-0.9M84.5 62.3v-0.9M86.1 62.3v-0.9M87.7 62.3v-0.9M27 3.3h0.9M27 4.9h0.9M27 6.5h0.9M27 8.1h0.9M27 9.7h0.9M27 11.3h0.9M27 12.9h0.9M27 14.5h0.9M27 16.1h0.9M27 17.7h0.9M27 19.3h0.9M27 20.9h0.9M27 22.5h0.9M27 24.1h0.9M27 25.7h0.9M27 27.3h0.9M27 28.9h0.9M27 30.5h0.9M27 32.1h0.9M27 33.7h0.9M27 35.3h0.9M27 36.9h0.9M27 38.5h0.9M27 40.1h0.9M27 41.7h0.9M27 43.3h0.9M27 44.9h0.9M27 46.5h0.9M27 48.1h0.9M27 49.7h0.9M27 51.3h0.9M27 52.9h0.9M27 54.5h0.9M27 56.1h0.9M27 57.7h0.9M27 59.3h0.9M27 60.9h0.9" stroke="#888" stroke-width="0.35" fill="none"/>
<line x1="25.7" y1="5" x2="27" y2="5" stroke="#666" stroke-width="0.4"/>
<text x="25.5" y="6.0" font-size="2.9" text-anchor="end" fill="#333" font-weight="bold" stroke="#333" stroke-width="0.12" >250K</text>
<line x1="25.7" y1="16.3" x2="27" y2="16.3" stroke="#666" stroke-width="0.4"/>
<text x="25.5" y="17.3" font-size="2.9" text-anchor="end" fill="#333" font-weight="bold" stroke="#333" stroke-width="0.12" >200K</text>
<line x1="25.7" y1="27.6" x2="27" y2="27.6" stroke="#666" stroke-width="0.4"/>
<text x="25.5" y="28.6" font-size="2.9" text-anchor="end" fill="#333" font-weight="bold" stroke="#333" stroke-width="0.12" >150K</text>
<line x1="25.7" y1="39" x2="27" y2="39" stroke="#666" stroke-width="0.4"/>
<text x="25.5" y="40.0" font-size="2.9" text-anchor="end" fill="#333" font-weight="bold" stroke="#333" stroke-width="0.12" >100K</text>
<line x1="25.7" y1="50.5" x2="27" y2="50.5" stroke="#666" stroke-width="0.4"/>
<text x="25.5" y="51.5" font-size="2.9" text-anchor="end" fill="#333" font-weight="bold" stroke="#333" stroke-width="0.12" >50K</text>
<line x1="25.7" y1="62" x2="27" y2="62" stroke="#666" stroke-width="0.4"/>
<text x="25.5" y="63.0" font-size="2.9" text-anchor="end" fill="#333" font-weight="bold" stroke="#333" stroke-width="0.12" >0</text>
<line x1="27.8" y1="62.3" x2="27.8" y2="63.599999999999994" stroke="#666" stroke-width="0.4"/>
<text x="27.8" y="68.0" font-size="2.9" text-anchor="middle" fill="#333" font-weight="bold" stroke="#333" stroke-width="0.12" >0</text>
<line x1="37.5" y1="62.3" x2="37.5" y2="63.599999999999994" stroke="#666" stroke-width="0.4"/>
<text x="37.5" y="68.0" font-size="2.9" text-anchor="middle" fill="#333" font-weight="bold" stroke="#333" stroke-width="0.12" >50K</text>
<line x1="49" y1="62.3" x2="49" y2="63.599999999999994" stroke="#666" stroke-width="0.4"/>
<text x="49" y="68.0" font-size="2.9" text-anchor="middle" fill="#333" font-weight="bold" stroke="#333" stroke-width="0.12" >100K</text>
<line x1="61" y1="62.3" x2="61" y2="63.599999999999994" stroke="#666" stroke-width="0.4"/>
<text x="61" y="68.0" font-size="2.9" text-anchor="middle" fill="#333" font-weight="bold" stroke="#333" stroke-width="0.12" >150K</text>
<line x1="72.7" y1="62.3" x2="72.7" y2="63.599999999999994" stroke="#666" stroke-width="0.4"/>
<text x="72.7" y="68.0" font-size="2.9" text-anchor="middle" fill="#333" font-weight="bold" stroke="#333" stroke-width="0.12" >200K</text>
<line x1="84.5" y1="62.3" x2="84.5" y2="63.599999999999994" stroke="#666" stroke-width="0.4"/>
<text x="84.5" y="68.0" font-size="2.9" text-anchor="middle" fill="#333" font-weight="bold" stroke="#333" stroke-width="0.12" >250K</text>
<text x="16.8" y="33" font-size="2.9" text-anchor="middle" fill="#222" font-weight="bold" stroke="#222" stroke-width="0.12" transform="rotate(-90 16.8 33)" >SSC-A</text>
<text x="55.5" y="72.7" font-size="3.1" text-anchor="middle" fill="#222" font-weight="bold" stroke="#222" stroke-width="0.12" >FSC-A</text>
<text x="65.1" y="55.9" font-size="6.4" text-anchor="start" fill="#c84848" font-weight="normal" >64.5</text>
<text x="51.2" y="61.0" font-size="3.4" text-anchor="start" fill="#111" font-weight="bold" stroke="#111" stroke-width="0.15" textLength="21.7" lengthAdjust="spacingAndGlyphs" >Lymphocytes</text>
</g>
<line x1="63.5" y1="45.2" x2="94.0" y2="45.2" stroke="#000" stroke-width="1.15"/>
<path d="M91.9,43.1 L96.5,45.2 L91.9,47.300000000000004 Z" fill="#000"/>
<rect x="108.3" y="42.4" width="44.5" height="6.2" fill="none" stroke="#eaa0a0" stroke-width="0.4"/>
<path d="M116.5 38.4h0.45v0.45h-0.45zM133.7 33.0h0.45v0.45h-0.45zM118.4 41.1h0.45v0.45h-0.45zM110.6 30.1h0.45v0.45h-0.45zM119.0 21.6h0.45v0.45h-0.45zM111.7 29.1h0.45v0.45h-0.45zM116.2 41.8h0.45v0.45h-0.45zM115.1 44.6h0.45v0.45h-0.45zM127.0 34.9h0.45v0.45h-0.45zM123.0 33.1h0.45v0.45h-0.45zM117.3 21.5h0.45v0.45h-0.45zM145.9 43.7h0.45v0.45h-0.45zM138.0 40.3h0.45v0.45h-0.45zM131.7 39.5h0.45v0.45h-0.45zM115.0 32.9h0.45v0.45h-0.45zM144.2 43.6h0.45v0.45h-0.45zM125.5 30.0h0.45v0.45h-0.45zM127.0 30.5h0.45v0.45h-0.45zM136.7 46.3h0.45v0.45h-0.45zM128.6 33.3h0.45v0.45h-0.45zM130.6 40.0h0.45v0.45h-0.45zM118.6 36.3h0.45v0.45h-0.45zM130.8 36.7h0.45v0.45h-0.45zM117.1 24.9h0.45v0.45h-0.45zM123.2 44.6h0.45v0.45h-0.45zM123.2 36.0h0.45v0.45h-0.45zM121.7 23.2h0.45v0.45h-0.45zM112.9 41.7h0.45v0.45h-0.45zM135.4 38.1h0.45v0.45h-0.45zM143.3 45.4h0.45v0.45h-0.45zM124.2 26.9h0.45v0.45h-0.45zM113.0 41.4h0.45v0.45h-0.45zM119.9 28.0h0.45v0.45h-0.45zM125.8 24.9h0.45v0.45h-0.45zM113.0 29.3h0.45v0.45h-0.45zM143.3 46.1h0.45v0.45h-0.45zM119.7 45.4h0.45v0.45h-0.45zM129.7 39.4h0.45v0.45h-0.45zM141.1 41.2h0.45v0.45h-0.45zM126.1 35.6h0.45v0.45h-0.45zM135.5 45.3h0.45v0.45h-0.45zM111.4 35.9h0.45v0.45h-0.45zM134.0 42.6h0.45v0.45h-0.45zM125.3 45.4h0.45v0.45h-0.45zM114.0 22.9h0.45v0.45h-0.45zM111.4 32.1h0.45v0.45h-0.45zM115.6 43.1h0.45v0.45h-0.45zM130.2 28.9h0.45v0.45h-0.45zM116.6 25.3h0.45v0.45h-0.45zM124.3 39.0h0.45v0.45h-0.45zM136.4 43.2h0.45v0.45h-0.45zM138.8 41.1h0.45v0.45h-0.45zM110.8 32.6h0.45v0.45h-0.45zM112.8 40.4h0.45v0.45h-0.45zM116.9 39.0h0.45v0.45h-0.45zM119.7 38.6h0.45v0.45h-0.45zM121.9 21.6h0.45v0.45h-0.45zM124.7 28.5h0.45v0.45h-0.45zM128.9 34.8h0.45v0.45h-0.45zM132.4 33.7h0.45v0.45h-0.45zM137.3 45.6h0.45v0.45h-0.45zM121.8 38.7h0.45v0.45h-0.45zM129.7 35.1h0.45v0.45h-0.45zM112.8 41.7h0.45v0.45h-0.45zM114.4 22.5h0.45v0.45h-0.45zM113.2 41.7h0.45v0.45h-0.45zM129.4 30.6h0.45v0.45h-0.45zM125.2 26.4h0.45v0.45h-0.45zM112.3 31.8h0.45v0.45h-0.45zM119.5 38.8h0.45v0.45h-0.45zM140.3 39.3h0.45v0.45h-0.45zM127.1 26.6h0.45v0.45h-0.45zM124.6 33.2h0.45v0.45h-0.45zM133.6 45.5h0.45v0.45h-0.45zM113.6 33.0h0.45v0.45h-0.45zM128.5 39.1h0.45v0.45h-0.45zM143.0 40.8h0.45v0.45h-0.45zM133.4 40.2h0.45v0.45h-0.45zM134.9 42.8h0.45v0.45h-0.45zM136.0 38.3h0.45v0.45h-0.45zM119.5 44.3h0.45v0.45h-0.45zM124.6 36.5h0.45v0.45h-0.45zM140.6 45.6h0.45v0.45h-0.45zM121.9 28.6h0.45v0.45h-0.45zM124.8 24.3h0.45v0.45h-0.45zM121.5 45.0h0.45v0.45h-0.45zM114.4 45.4h0.45v0.45h-0.45zM122.7 37.2h0.45v0.45h-0.45zM119.8 42.5h0.45v0.45h-0.45zM116.1 38.2h0.45v0.45h-0.45zM117.8 36.0h0.45v0.45h-0.45zM120.6 30.4h0.45v0.45h-0.45zM126.4 36.5h0.45v0.45h-0.45zM120.7 25.0h0.45v0.45h-0.45zM124.5 27.6h0.45v0.45h-0.45zM117.4 45.5h0.45v0.45h-0.45zM111.8 41.6h0.45v0.45h-0.45zM111.2 33.5h0.45v0.45h-0.45zM111.9 36.3h0.45v0.45h-0.45zM110.8 34.7h0.45v0.45h-0.45zM113.9 28.5h0.45v0.45h-0.45zM127.1 43.8h0.45v0.45h-0.45zM124.0 24.0h0.45v0.45h-0.45zM139.4 41.9h0.45v0.45h-0.45zM117.3 31.0h0.45v0.45h-0.45zM139.8 42.4h0.45v0.45h-0.45zM144.3 43.5h0.45v0.45h-0.45zM111.1 35.6h0.45v0.45h-0.45zM113.4 43.9h0.45v0.45h-0.45zM137.8 40.2h0.45v0.45h-0.45zM117.4 22.1h0.45v0.45h-0.45zM133.1 32.7h0.45v0.45h-0.45zM120.3 29.7h0.45v0.45h-0.45zM121.4 36.8h0.45v0.45h-0.45zM113.0 33.8h0.45v0.45h-0.45zM120.3 22.0h0.45v0.45h-0.45zM111.9 33.4h0.45v0.45h-0.45zM135.3 37.5h0.45v0.45h-0.45zM116.3 23.2h0.45v0.45h-0.45zM125.4 38.5h0.45v0.45h-0.45zM113.4 42.0h0.45v0.45h-0.45zM118.3 21.6h0.45v0.45h-0.45zM123.4 34.3h0.45v0.45h-0.45zM116.4 42.6h0.45v0.45h-0.45zM139.9 44.1h0.45v0.45h-0.45zM138.9 44.0h0.45v0.45h-0.45zM130.0 44.1h0.45v0.45h-0.45zM144.9 44.9h0.45v0.45h-0.45zM123.3 36.5h0.45v0.45h-0.45zM132.7 40.1h0.45v0.45h-0.45zM138.8 39.7h0.45v0.45h-0.45zM113.5 31.0h0.45v0.45h-0.45zM117.0 34.5h0.45v0.45h-0.45zM125.9 35.6h0.45v0.45h-0.45zM111.5 37.8h0.45v0.45h-0.45zM118.2 23.3h0.45v0.45h-0.45zM115.0 26.7h0.45v0.45h-0.45zM126.0 37.2h0.45v0.45h-0.45zM138.6 40.0h0.45v0.45h-0.45zM126.2 30.3h0.45v0.45h-0.45zM128.4 27.4h0.45v0.45h-0.45zM130.1 32.4h0.45v0.45h-0.45zM111.8 41.9h0.45v0.45h-0.45zM131.9 41.4h0.45v0.45h-0.45zM137.4 39.5h0.45v0.45h-0.45zM134.7 35.6h0.45v0.45h-0.45zM117.7 26.4h0.45v0.45h-0.45zM137.3 41.6h0.45v0.45h-0.45zM124.0 42.0h0.45v0.45h-0.45zM128.7 32.5h0.45v0.45h-0.45zM124.7 36.8h0.45v0.45h-0.45zM132.3 38.5h0.45v0.45h-0.45zM142.1 40.0h0.45v0.45h-0.45zM124.2 27.0h0.45v0.45h-0.45zM139.0 41.1h0.45v0.45h-0.45zM141.4 43.7h0.45v0.45h-0.45zM113.3 28.5h0.45v0.45h-0.45zM118.5 25.9h0.45v0.45h-0.45zM128.7 39.0h0.45v0.45h-0.45zM118.5 38.3h0.45v0.45h-0.45zM122.7 37.4h0.45v0.45h-0.45zM123.9 25.5h0.45v0.45h-0.45zM115.6 22.0h0.45v0.45h-0.45zM115.0 43.4h0.45v0.45h-0.45zM137.0 36.0h0.45v0.45h-0.45zM126.7 33.5h0.45v0.45h-0.45zM133.7 37.0h0.45v0.45h-0.45zM123.8 29.5h0.45v0.45h-0.45zM138.1 37.0h0.45v0.45h-0.45zM127.2 33.9h0.45v0.45h-0.45zM118.7 41.0h0.45v0.45h-0.45zM111.2 37.2h0.45v0.45h-0.45zM127.1 26.3h0.45v0.45h-0.45zM131.9 35.7h0.45v0.45h-0.45zM113.7 33.2h0.45v0.45h-0.45zM116.5 41.3h0.45v0.45h-0.45zM122.4 29.0h0.45v0.45h-0.45zM118.4 21.8h0.45v0.45h-0.45zM117.3 24.4h0.45v0.45h-0.45zM133.3 42.5h0.45v0.45h-0.45zM118.6 23.4h0.45v0.45h-0.45zM125.3 40.3h0.45v0.45h-0.45zM117.9 38.7h0.45v0.45h-0.45zM119.4 36.1h0.45v0.45h-0.45zM114.0 25.8h0.45v0.45h-0.45zM131.6 41.8h0.45v0.45h-0.45zM129.5 37.8h0.45v0.45h-0.45zM122.1 44.2h0.45v0.45h-0.45zM123.5 40.9h0.45v0.45h-0.45zM111.8 33.5h0.45v0.45h-0.45zM143.0 40.6h0.45v0.45h-0.45zM116.5 29.4h0.45v0.45h-0.45zM134.7 37.6h0.45v0.45h-0.45zM124.7 41.3h0.45v0.45h-0.45zM112.4 28.0h0.45v0.45h-0.45zM113.8 28.9h0.45v0.45h-0.45zM139.4 40.1h0.45v0.45h-0.45zM116.0 28.5h0.45v0.45h-0.45zM114.6 37.7h0.45v0.45h-0.45zM126.7 26.5h0.45v0.45h-0.45zM124.2 43.0h0.45v0.45h-0.45zM126.0 38.5h0.45v0.45h-0.45zM133.4 32.8h0.45v0.45h-0.45zM130.8 30.0h0.45v0.45h-0.45zM117.7 33.4h0.45v0.45h-0.45zM121.6 29.1h0.45v0.45h-0.45zM117.3 44.2h0.45v0.45h-0.45zM126.0 25.7h0.45v0.45h-0.45zM124.2 27.8h0.45v0.45h-0.45zM132.2 42.1h0.45v0.45h-0.45zM122.5 43.7h0.45v0.45h-0.45zM135.3 40.6h0.45v0.45h-0.45zM135.2 45.6h0.45v0.45h-0.45zM124.4 45.9h0.45v0.45h-0.45zM116.6 30.8h0.45v0.45h-0.45zM120.2 41.1h0.45v0.45h-0.45zM132.9 39.8h0.45v0.45h-0.45zM139.3 43.2h0.45v0.45h-0.45zM143.1 41.9h0.45v0.45h-0.45zM126.2 37.8h0.45v0.45h-0.45zM121.3 23.9h0.45v0.45h-0.45zM124.6 24.1h0.45v0.45h-0.45zM127.1 40.3h0.45v0.45h-0.45zM112.3 37.1h0.45v0.45h-0.45zM114.6 33.8h0.45v0.45h-0.45zM121.3 32.1h0.45v0.45h-0.45zM124.8 39.4h0.45v0.45h-0.45zM114.7 29.6h0.45v0.45h-0.45zM136.1 42.2h0.45v0.45h-0.45zM136.1 42.5h0.45v0.45h-0.45zM115.4 29.5h0.45v0.45h-0.45zM133.6 41.8h0.45v0.45h-0.45zM120.7 40.9h0.45v0.45h-0.45zM116.6 29.5h0.45v0.45h-0.45zM118.3 21.2h0.45v0.45h-0.45zM131.4 34.9h0.45v0.45h-0.45zM141.5 42.5h0.45v0.45h-0.45zM119.7 26.1h0.45v0.45h-0.45zM125.0 41.1h0.45v0.45h-0.45zM141.7 39.9h0.45v0.45h-0.45zM122.2 28.4h0.45v0.45h-0.45zM126.3 43.2h0.45v0.45h-0.45zM145.7 44.4h0.45v0.45h-0.45zM127.3 38.5h0.45v0.45h-0.45zM133.0 46.0h0.45v0.45h-0.45zM142.6 44.2h0.45v0.45h-0.45zM113.6 39.1h0.45v0.45h-0.45zM128.3 44.1h0.45v0.45h-0.45zM116.6 34.8h0.45v0.45h-0.45zM114.9 41.4h0.45v0.45h-0.45zM121.8 24.2h0.45v0.45h-0.45zM133.7 36.9h0.45v0.45h-0.45zM112.8 45.2h0.45v0.45h-0.45zM131.5 29.9h0.45v0.45h-0.45zM132.6 30.9h0.45v0.45h-0.45zM126.6 40.0h0.45v0.45h-0.45zM117.3 28.3h0.45v0.45h-0.45zM113.0 44.2h0.45v0.45h-0.45zM116.3 31.2h0.45v0.45h-0.45zM121.9 27.3h0.45v0.45h-0.45zM123.4 34.5h0.45v0.45h-0.45zM114.7 34.4h0.45v0.45h-0.45zM117.9 26.7h0.45v0.45h-0.45zM123.0 28.1h0.45v0.45h-0.45zM127.8 40.6h0.45v0.45h-0.45zM133.0 39.9h0.45v0.45h-0.45zM130.0 40.1h0.45v0.45h-0.45zM133.6 44.6h0.45v0.45h-0.45zM120.1 38.0h0.45v0.45h-0.45zM119.9 43.0h0.45v0.45h-0.45zM134.0 36.8h0.45v0.45h-0.45zM114.7 28.1h0.45v0.45h-0.45zM130.1 38.6h0.45v0.45h-0.45zM129.1 34.9h0.45v0.45h-0.45zM119.2 31.7h0.45v0.45h-0.45zM125.8 38.3h0.45v0.45h-0.45zM124.3 25.6h0.45v0.45h-0.45zM135.0 46.3h0.45v0.45h-0.45zM131.9 43.7h0.45v0.45h-0.45zM112.7 29.9h0.45v0.45h-0.45zM124.2 29.4h0.45v0.45h-0.45zM135.3 45.4h0.45v0.45h-0.45zM119.0 25.3h0.45v0.45h-0.45zM122.7 41.2h0.45v0.45h-0.45zM118.8 40.5h0.45v0.45h-0.45zM116.8 36.0h0.45v0.45h-0.45zM136.8 38.0h0.45v0.45h-0.45zM113.6 45.4h0.45v0.45h-0.45zM116.7 30.8h0.45v0.45h-0.45zM117.3 35.7h0.45v0.45h-0.45zM134.0 32.1h0.45v0.45h-0.45zM125.2 45.5h0.45v0.45h-0.45zM123.0 38.0h0.45v0.45h-0.45zM118.0 33.9h0.45v0.45h-0.45zM117.1 23.4h0.45v0.45h-0.45zM122.8 23.5h0.45v0.45h-0.45zM124.4 37.5h0.45v0.45h-0.45zM130.5 41.2h0.45v0.45h-0.45zM137.9 45.9h0.45v0.45h-0.45zM123.6 33.5h0.45v0.45h-0.45zM122.1 23.1h0.45v0.45h-0.45zM125.0 37.6h0.45v0.45h-0.45zM140.3 40.3h0.45v0.45h-0.45zM142.8 41.3h0.45v0.45h-0.45zM125.5 37.3h0.45v0.45h-0.45zM112.5 41.1h0.45v0.45h-0.45zM127.7 27.6h0.45v0.45h-0.45zM139.0 44.5h0.45v0.45h-0.45zM123.0 45.1h0.45v0.45h-0.45zM123.7 41.0h0.45v0.45h-0.45zM126.8 45.5h0.45v0.45h-0.45zM113.8 27.6h0.45v0.45h-0.45zM134.7 44.1h0.45v0.45h-0.45zM139.3 45.8h0.45v0.45h-0.45zM122.5 26.4h0.45v0.45h-0.45zM120.0 40.8h0.45v0.45h-0.45zM115.6 34.7h0.45v0.45h-0.45zM133.4 34.3h0.45v0.45h-0.45zM128.4 44.0h0.45v0.45h-0.45zM145.9 45.5h0.45v0.45h-0.45zM128.5 31.3h0.45v0.45h-0.45zM118.8 27.7h0.45v0.45h-0.45zM118.0 24.9h0.45v0.45h-0.45zM132.4 36.0h0.45v0.45h-0.45zM137.3 35.3h0.45v0.45h-0.45zM113.9 35.6h0.45v0.45h-0.45zM128.2 30.5h0.45v0.45h-0.45zM123.1 30.2h0.45v0.45h-0.45zM127.9 37.5h0.45v0.45h-0.45zM111.4 34.5h0.45v0.45h-0.45zM115.2 45.7h0.45v0.45h-0.45zM130.6 35.8h0.45v0.45h-0.45zM122.0 38.8h0.45v0.45h-0.45zM136.4 44.2h0.45v0.45h-0.45zM111.8 27.4h0.45v0.45h-0.45zM129.6 41.0h0.45v0.45h-0.45zM135.8 40.8h0.45v0.45h-0.45zM127.8 40.9h0.45v0.45h-0.45zM119.7 33.1h0.45v0.45h-0.45zM133.6 42.6h0.45v0.45h-0.45zM119.4 37.8h0.45v0.45h-0.45zM118.4 24.6h0.45v0.45h-0.45zM127.9 37.3h0.45v0.45h-0.45zM133.9 45.2h0.45v0.45h-0.45zM116.5 34.3h0.45v0.45h-0.45zM128.0 27.2h0.45v0.45h-0.45zM120.0 21.5h0.45v0.45h-0.45zM134.0 37.6h0.45v0.45h-0.45zM118.7 44.5h0.45v0.45h-0.45zM144.9 42.7h0.45v0.45h-0.45zM122.0 43.0h0.45v0.45h-0.45zM115.3 29.5h0.45v0.45h-0.45zM125.8 45.3h0.45v0.45h-0.45zM121.4 30.5h0.45v0.45h-0.45zM118.1 41.8h0.45v0.45h-0.45zM117.2 42.5h0.45v0.45h-0.45zM122.9 34.8h0.45v0.45h-0.45zM129.8 37.0h0.45v0.45h-0.45zM131.6 31.1h0.45v0.45h-0.45zM132.6 35.4h0.45v0.45h-0.45zM129.7 42.1h0.45v0.45h-0.45zM129.4 31.8h0.45v0.45h-0.45zM112.0 33.0h0.45v0.45h-0.45zM145.0 45.9h0.45v0.45h-0.45zM126.1 27.4h0.45v0.45h-0.45zM127.7 38.0h0.45v0.45h-0.45zM112.9 29.2h0.45v0.45h-0.45zM116.9 39.0h0.45v0.45h-0.45zM126.4 38.6h0.45v0.45h-0.45zM128.2 41.6h0.45v0.45h-0.45zM129.2 45.9h0.45v0.45h-0.45zM140.2 39.3h0.45v0.45h-0.45zM128.4 36.3h0.45v0.45h-0.45zM124.2 22.5h0.45v0.45h-0.45zM142.8 41.5h0.45v0.45h-0.45zM138.5 42.8h0.45v0.45h-0.45zM127.8 46.0h0.45v0.45h-0.45zM113.4 30.3h0.45v0.45h-0.45zM131.3 41.8h0.45v0.45h-0.45zM129.5 41.0h0.45v0.45h-0.45zM124.1 38.1h0.45v0.45h-0.45zM111.3 37.6h0.45v0.45h-0.45zM114.7 40.3h0.45v0.45h-0.45zM116.6 39.2h0.45v0.45h-0.45zM113.1 25.9h0.45v0.45h-0.45zM135.9 44.5h0.45v0.45h-0.45zM113.1 36.5h0.45v0.45h-0.45zM125.0 36.7h0.45v0.45h-0.45zM113.4 43.7h0.45v0.45h-0.45zM128.4 36.4h0.45v0.45h-0.45zM115.4 38.3h0.45v0.45h-0.45zM139.0 42.6h0.45v0.45h-0.45zM133.3 36.8h0.45v0.45h-0.45zM114.0 25.1h0.45v0.45h-0.45zM123.5 30.8h0.45v0.45h-0.45zM130.9 32.3h0.45v0.45h-0.45zM121.6 37.2h0.45v0.45h-0.45zM126.3 46.0h0.45v0.45h-0.45zM115.2 43.9h0.45v0.45h-0.45zM133.8 32.4h0.45v0.45h-0.45zM113.3 37.3h0.45v0.45h-0.45zM113.8 42.8h0.45v0.45h-0.45zM121.9 33.0h0.45v0.45h-0.45zM138.3 43.3h0.45v0.45h-0.45zM130.6 31.7h0.45v0.45h-0.45zM134.6 41.6h0.45v0.45h-0.45zM123.2 32.0h0.45v0.45h-0.45zM114.3 29.6h0.45v0.45h-0.45zM117.8 39.5h0.45v0.45h-0.45zM115.2 44.3h0.45v0.45h-0.45zM132.4 32.1h0.45v0.45h-0.45zM114.9 32.1h0.45v0.45h-0.45zM126.4 27.9h0.45v0.45h-0.45zM124.1 27.7h0.45v0.45h-0.45zM123.8 36.0h0.45v0.45h-0.45zM128.0 28.9h0.45v0.45h-0.45zM121.7 31.8h0.45v0.45h-0.45zM125.7 37.5h0.45v0.45h-0.45zM120.6 34.8h0.45v0.45h-0.45zM117.6 36.5h0.45v0.45h-0.45zM130.2 37.5h0.45v0.45h-0.45zM142.4 41.2h0.45v0.45h-0.45zM123.9 32.3h0.45v0.45h-0.45zM144.1 45.3h0.45v0.45h-0.45zM114.8 25.8h0.45v0.45h-0.45zM135.0 38.8h0.45v0.45h-0.45zM112.0 32.6h0.45v0.45h-0.45zM114.1 41.7h0.45v0.45h-0.45zM129.8 36.4h0.45v0.45h-0.45zM118.4 41.0h0.45v0.45h-0.45zM132.7 31.9h0.45v0.45h-0.45zM123.5 36.6h0.45v0.45h-0.45zM145.0 45.2h0.45v0.45h-0.45zM144.0 45.9h0.45v0.45h-0.45zM129.5 32.7h0.45v0.45h-0.45zM115.4 25.8h0.45v0.45h-0.45zM143.5 41.7h0.45v0.45h-0.45zM115.6 45.6h0.45v0.45h-0.45zM124.1 39.4h0.45v0.45h-0.45zM131.1 42.8h0.45v0.45h-0.45zM130.9 42.6h0.45v0.45h-0.45zM125.5 42.0h0.45v0.45h-0.45zM126.8 29.8h0.45v0.45h-0.45zM123.6 26.4h0.45v0.45h-0.45zM128.8 45.4h0.45v0.45h-0.45zM132.1 40.5h0.45v0.45h-0.45zM117.0 30.1h0.45v0.45h-0.45zM131.7 30.5h0.45v0.45h-0.45zM110.8 43.1h0.45v0.45h-0.45zM115.2 37.6h0.45v0.45h-0.45zM120.3 29.1h0.45v0.45h-0.45zM130.3 46.0h0.45v0.45h-0.45zM115.8 26.9h0.45v0.45h-0.45zM134.8 39.3h0.45v0.45h-0.45zM138.2 44.4h0.45v0.45h-0.45zM114.2 34.2h0.45v0.45h-0.45zM114.5 28.9h0.45v0.45h-0.45zM111.8 33.9h0.45v0.45h-0.45zM127.6 27.9h0.45v0.45h-0.45zM118.6 22.2h0.45v0.45h-0.45zM125.3 31.7h0.45v0.45h-0.45zM131.2 34.4h0.45v0.45h-0.45zM119.6 29.7h0.45v0.45h-0.45zM118.6 22.7h0.45v0.45h-0.45zM129.2 31.5h0.45v0.45h-0.45zM130.4 32.3h0.45v0.45h-0.45zM130.3 46.1h0.45v0.45h-0.45zM114.3 45.8h0.45v0.45h-0.45zM113.5 33.4h0.45v0.45h-0.45zM138.0 40.8h0.45v0.45h-0.45zM114.7 36.2h0.45v0.45h-0.45zM115.9 23.1h0.45v0.45h-0.45zM129.5 28.2h0.45v0.45h-0.45zM134.6 34.2h0.45v0.45h-0.45zM118.9 44.4h0.45v0.45h-0.45zM110.7 41.4h0.45v0.45h-0.45zM120.8 43.9h0.45v0.45h-0.45zM132.7 32.4h0.45v0.45h-0.45zM118.4 42.8h0.45v0.45h-0.45zM141.8 45.5h0.45v0.45h-0.45zM132.0 44.5h0.45v0.45h-0.45zM122.9 36.2h0.45v0.45h-0.45zM123.0 41.7h0.45v0.45h-0.45zM130.7 43.0h0.45v0.45h-0.45zM117.9 29.2h0.45v0.45h-0.45zM113.6 29.2h0.45v0.45h-0.45zM116.2 28.3h0.45v0.45h-0.45zM144.0 44.5h0.45v0.45h-0.45zM121.1 32.4h0.45v0.45h-0.45zM133.1 44.6h0.45v0.45h-0.45zM132.6 42.0h0.45v0.45h-0.45zM127.3 41.0h0.45v0.45h-0.45zM119.9 28.4h0.45v0.45h-0.45zM142.3 43.4h0.45v0.45h-0.45zM123.0 23.2h0.45v0.45h-0.45zM117.2 21.1h0.45v0.45h-0.45zM113.1 27.1h0.45v0.45h-0.45zM120.3 38.7h0.45v0.45h-0.45zM123.5 25.0h0.45v0.45h-0.45zM135.7 43.9h0.45v0.45h-0.45z" fill="#222" opacity="0.75"/>
<path d="M112.5,45 L112.5,35 L115,31 L119.3,29 L125,30 L131.6,36 L138.2,41 L143.5,44.5 L143,46 Z" fill="#0a0a0a" filter="url(#b1)"/>
<path d="M111.5,46.8 L112,43 L116,41.2 L125,40 L134,40.5 L141,42.5 L144.5,45 L143.5,47 Z" fill="#1018c8" filter="url(#b05)"/>
<path d="M112.5,46.5 L116,43.8 L126,43 L136,43.6 L143,45.5 L142,46.8 Z" fill="#1f3cf0" filter="url(#b05)"/>
<ellipse cx="127" cy="45.4" rx="11" ry="0.9" fill="#40e0f0" filter="url(#b05)"/>
<ellipse cx="126" cy="45.4" rx="6" ry="0.5" fill="#90e850"/>
<rect x="106.6" y="1.7" width="60.400000000000006" height="60.699999999999996" fill="none" stroke="#666" stroke-width="0.6"/>
<path d="M108.1 62.4v-0.9M109.7 62.4v-0.9M111.3 62.4v-0.9M112.9 62.4v-0.9M114.5 62.4v-0.9M116.1 62.4v-0.9M117.7 62.4v-0.9M119.3 62.4v-0.9M120.9 62.4v-0.9M122.5 62.4v-0.9M124.1 62.4v-0.9M125.7 62.4v-0.9M127.3 62.4v-0.9M128.9 62.4v-0.9M130.5 62.4v-0.9M132.1 62.4v-0.9M133.7 62.4v-0.9M135.3 62.4v-0.9M136.9 62.4v-0.9M138.5 62.4v-0.9M140.1 62.4v-0.9M141.7 62.4v-0.9M143.3 62.4v-0.9M144.9 62.4v-0.9M146.5 62.4v-0.9M148.1 62.4v-0.9M149.7 62.4v-0.9M151.3 62.4v-0.9M152.9 62.4v-0.9M154.5 62.4v-0.9M156.1 62.4v-0.9M157.7 62.4v-0.9M159.3 62.4v-0.9M160.9 62.4v-0.9M162.5 62.4v-0.9M164.1 62.4v-0.9M165.7 62.4v-0.9M106.6 3.2h0.9M106.6 4.8h0.9M106.6 6.4h0.9M106.6 8.0h0.9M106.6 9.6h0.9M106.6 11.2h0.9M106.6 12.8h0.9M106.6 14.4h0.9M106.6 16.0h0.9M106.6 17.6h0.9M106.6 19.2h0.9M106.6 20.8h0.9M106.6 22.4h0.9M106.6 24.0h0.9M106.6 25.6h0.9M106.6 27.2h0.9M106.6 28.8h0.9M106.6 30.4h0.9M106.6 32.0h0.9M106.6 33.6h0.9M106.6 35.2h0.9M106.6 36.8h0.9M106.6 38.4h0.9M106.6 40.0h0.9M106.6 41.6h0.9M106.6 43.2h0.9M106.6 44.8h0.9M106.6 46.4h0.9M106.6 48.0h0.9M106.6 49.6h0.9M106.6 51.2h0.9M106.6 52.8h0.9M106.6 54.4h0.9M106.6 56.0h0.9M106.6 57.6h0.9M106.6 59.2h0.9M106.6 60.8h0.9" stroke="#888" stroke-width="0.35" fill="none"/>
<line x1="105.3" y1="4.2" x2="106.6" y2="4.2" stroke="#666" stroke-width="0.4"/>
<text x="105.1" y="5.2" font-size="2.9" text-anchor="end" fill="#333" font-weight="bold" stroke="#333" stroke-width="0.12" >250K</text>
<line x1="105.3" y1="15.9" x2="106.6" y2="15.9" stroke="#666" stroke-width="0.4"/>
<text x="105.1" y="16.9" font-size="2.9" text-anchor="end" fill="#333" font-weight="bold" stroke="#333" stroke-width="0.12" >200K</text>
<line x1="105.3" y1="27.5" x2="106.6" y2="27.5" stroke="#666" stroke-width="0.4"/>
<text x="105.1" y="28.5" font-size="2.9" text-anchor="end" fill="#333" font-weight="bold" stroke="#333" stroke-width="0.12" >150K</text>
<line x1="105.3" y1="39.1" x2="106.6" y2="39.1" stroke="#666" stroke-width="0.4"/>
<text x="105.1" y="40.1" font-size="2.9" text-anchor="end" fill="#333" font-weight="bold" stroke="#333" stroke-width="0.12" >100K</text>
<line x1="105.3" y1="50.7" x2="106.6" y2="50.7" stroke="#666" stroke-width="0.4"/>
<text x="105.1" y="51.7" font-size="2.9" text-anchor="end" fill="#333" font-weight="bold" stroke="#333" stroke-width="0.12" >50K</text>
<line x1="105.3" y1="62.4" x2="106.6" y2="62.4" stroke="#666" stroke-width="0.4"/>
<text x="105.1" y="63.4" font-size="2.9" text-anchor="end" fill="#333" font-weight="bold" stroke="#333" stroke-width="0.12" >0</text>
<line x1="108.5" y1="62.4" x2="108.5" y2="63.699999999999996" stroke="#666" stroke-width="0.4"/>
<text x="108.5" y="68.1" font-size="2.9" text-anchor="middle" fill="#333" font-weight="bold" stroke="#333" stroke-width="0.12" >0</text>
<line x1="119" y1="62.4" x2="119" y2="63.699999999999996" stroke="#666" stroke-width="0.4"/>
<text x="119" y="68.1" font-size="2.9" text-anchor="middle" fill="#333" font-weight="bold" stroke="#333" stroke-width="0.12" >50K</text>
<line x1="130.7" y1="62.4" x2="130.7" y2="63.699999999999996" stroke="#666" stroke-width="0.4"/>
<text x="130.7" y="68.1" font-size="2.9" text-anchor="middle" fill="#333" font-weight="bold" stroke="#333" stroke-width="0.12" >100K</text>
<line x1="141.2" y1="62.4" x2="141.2" y2="63.699999999999996" stroke="#666" stroke-width="0.4"/>
<text x="141.2" y="68.1" font-size="2.9" text-anchor="middle" fill="#333" font-weight="bold" stroke="#333" stroke-width="0.12" >150K</text>
<line x1="152.9" y1="62.4" x2="152.9" y2="63.699999999999996" stroke="#666" stroke-width="0.4"/>
<text x="152.9" y="68.1" font-size="2.9" text-anchor="middle" fill="#333" font-weight="bold" stroke="#333" stroke-width="0.12" >200K</text>
<line x1="163.4" y1="62.4" x2="163.4" y2="63.699999999999996" stroke="#666" stroke-width="0.4"/>
<text x="163.4" y="68.1" font-size="2.9" text-anchor="middle" fill="#333" font-weight="bold" stroke="#333" stroke-width="0.12" >250K</text>
<text x="97.3" y="33" font-size="2.9" text-anchor="middle" fill="#222" font-weight="bold" stroke="#222" stroke-width="0.12" transform="rotate(-90 97.3 33)" >SSC-W</text>
<text x="136" y="72.4" font-size="2.9" text-anchor="middle" fill="#222" font-weight="bold" stroke="#222" stroke-width="0.12" >SSC-H</text>
<text x="128.5" y="55.4" font-size="6.4" text-anchor="start" fill="#c84848" font-weight="normal" >97</text>
<text x="142.4" y="40.5" font-size="3.3" text-anchor="start" fill="#111" font-weight="bold" stroke="#111" stroke-width="0.15" textLength="18.8" lengthAdjust="spacingAndGlyphs" >Single cells</text>
<line x1="144.5" y1="44.8" x2="172.7" y2="44.8" stroke="#000" stroke-width="1.15"/>
<path d="M170.6,42.699999999999996 L175.2,44.8 L170.6,46.9 Z" fill="#000"/>
<path d="M185.5,62.5 C189,61.8 192,58.5 194.5,50.5 C196.8,41 199,18 201.7,4.8 C203.6,10 204.6,30 205.8,45 C206.9,55 208,59.6 209.7,59.6 C212.2,59.6 214.6,50.7 217.1,50.7 C219.4,50.7 220,60 221.3,62.4 L224,62.8" fill="none" stroke="#333" stroke-width="0.75"/>
<line x1="187.5" y1="14.8" x2="208.2" y2="14.8" stroke="#666" stroke-width="0.8"/>
<rect x="184.3" y="1.0" width="61.5" height="61.8" fill="none" stroke="#666" stroke-width="0.6"/>
<path d="M185.8 62.8v-0.9M187.4 62.8v-0.9M189.0 62.8v-0.9M190.6 62.8v-0.9M192.2 62.8v-0.9M193.8 62.8v-0.9M195.4 62.8v-0.9M197.0 62.8v-0.9M198.6 62.8v-0.9M200.2 62.8v-0.9M201.8 62.8v-0.9M203.4 62.8v-0.9M205.0 62.8v-0.9M206.6 62.8v-0.9M208.2 62.8v-0.9M209.8 62.8v-0.9M211.4 62.8v-0.9M213.0 62.8v-0.9M214.6 62.8v-0.9M216.2 62.8v-0.9M217.8 62.8v-0.9M219.4 62.8v-0.9M221.0 62.8v-0.9M222.6 62.8v-0.9M224.2 62.8v-0.9M225.8 62.8v-0.9M227.4 62.8v-0.9M229.0 62.8v-0.9M230.6 62.8v-0.9M232.2 62.8v-0.9M233.8 62.8v-0.9M235.4 62.8v-0.9M237.0 62.8v-0.9M238.6 62.8v-0.9M240.2 62.8v-0.9M241.8 62.8v-0.9M243.4 62.8v-0.9M245.0 62.8v-0.9M184.3 2.5h0.9M184.3 4.1h0.9M184.3 5.7h0.9M184.3 7.3h0.9M184.3 8.9h0.9M184.3 10.5h0.9M184.3 12.1h0.9M184.3 13.7h0.9M184.3 15.3h0.9M184.3 16.9h0.9M184.3 18.5h0.9M184.3 20.1h0.9M184.3 21.7h0.9M184.3 23.3h0.9M184.3 24.9h0.9M184.3 26.5h0.9M184.3 28.1h0.9M184.3 29.7h0.9M184.3 31.3h0.9M184.3 32.9h0.9M184.3 34.5h0.9M184.3 36.1h0.9M184.3 37.7h0.9M184.3 39.3h0.9M184.3 40.9h0.9M184.3 42.5h0.9M184.3 44.1h0.9M184.3 45.7h0.9M184.3 47.3h0.9M184.3 48.9h0.9M184.3 50.5h0.9M184.3 52.1h0.9M184.3 53.7h0.9M184.3 55.3h0.9M184.3 56.9h0.9M184.3 58.5h0.9M184.3 60.1h0.9M184.3 61.7h0.9" stroke="#888" stroke-width="0.35" fill="none"/>
<line x1="183.0" y1="8" x2="184.3" y2="8" stroke="#666" stroke-width="0.4"/>
<text x="182.8" y="9.0" font-size="2.9" text-anchor="end" fill="#333" font-weight="bold" stroke="#333" stroke-width="0.12" >300</text>
<line x1="183.0" y1="25.8" x2="184.3" y2="25.8" stroke="#666" stroke-width="0.4"/>
<text x="182.8" y="26.8" font-size="2.9" text-anchor="end" fill="#333" font-weight="bold" stroke="#333" stroke-width="0.12" >200</text>
<line x1="183.0" y1="44.4" x2="184.3" y2="44.4" stroke="#666" stroke-width="0.4"/>
<text x="182.8" y="45.4" font-size="2.9" text-anchor="end" fill="#333" font-weight="bold" stroke="#333" stroke-width="0.12" >100</text>
<line x1="183.0" y1="62.8" x2="184.3" y2="62.8" stroke="#666" stroke-width="0.4"/>
<text x="182.8" y="63.8" font-size="2.9" text-anchor="end" fill="#333" font-weight="bold" stroke="#333" stroke-width="0.12" >0</text>
<line x1="191.7" y1="62.8" x2="191.7" y2="64.1" stroke="#666" stroke-width="0.4"/>
<text x="191.7" y="68.5" font-size="2.9" text-anchor="middle" fill="#333" font-weight="bold" stroke="#333" stroke-width="0.12" >0</text>
<line x1="199.1" y1="62.8" x2="199.1" y2="64.1" stroke="#666" stroke-width="0.4"/>
<text x="199.1" y="68.5" font-size="2.9" text-anchor="middle" fill="#333" font-weight="bold" stroke="#333" stroke-width="0.12" >10<tspan dy="-0.9" font-size="1.9">3</tspan></text>
<line x1="214" y1="62.8" x2="214" y2="64.1" stroke="#666" stroke-width="0.4"/>
<text x="214" y="68.5" font-size="2.9" text-anchor="middle" fill="#333" font-weight="bold" stroke="#333" stroke-width="0.12" >10<tspan dy="-0.9" font-size="1.9">4</tspan></text>
<line x1="228.5" y1="62.8" x2="228.5" y2="64.1" stroke="#666" stroke-width="0.4"/>
<text x="228.5" y="68.5" font-size="2.9" text-anchor="middle" fill="#333" font-weight="bold" stroke="#333" stroke-width="0.12" >10<tspan dy="-0.9" font-size="1.9">5</tspan></text>
<text x="176.9" y="33.8" font-size="2.9" text-anchor="middle" fill="#222" font-weight="bold" stroke="#222" stroke-width="0.12" transform="rotate(-90 176.9 33.8)" ># Cells</text>
<text x="215" y="70.8" font-size="2.9" text-anchor="middle" fill="#222" font-weight="bold" stroke="#222" stroke-width="0.12" >Live/Dead</text>
<text x="185.4" y="11.7" font-size="7.0" text-anchor="start" fill="#222" font-weight="normal" >87.2</text>
<text x="207.9" y="21.9" font-size="3.4" text-anchor="start" fill="#111" font-weight="bold" stroke="#111" stroke-width="0.15" textLength="15.1" lengthAdjust="spacingAndGlyphs" >Live cells</text>
<line x1="203.3" y1="44.8" x2="251.5" y2="44.8" stroke="#000" stroke-width="1.15"/>
<path d="M249.4,42.699999999999996 L254,44.8 L249.4,46.9 Z" fill="#000"/>
<path d="M277.1 33.3h0.4v0.4h-0.4zM266.7 27.6h0.4v0.4h-0.4zM270.5 34.1h0.4v0.4h-0.4zM267.0 33.9h0.4v0.4h-0.4zM288.1 27.9h0.4v0.4h-0.4zM283.0 31.0h0.4v0.4h-0.4zM299.5 30.5h0.4v0.4h-0.4zM269.1 29.8h0.4v0.4h-0.4zM276.0 36.1h0.4v0.4h-0.4zM269.6 28.7h0.4v0.4h-0.4zM285.0 32.0h0.4v0.4h-0.4zM275.6 28.5h0.4v0.4h-0.4zM262.2 33.9h0.4v0.4h-0.4zM296.6 33.0h0.4v0.4h-0.4zM270.0 34.5h0.4v0.4h-0.4zM290.9 28.4h0.4v0.4h-0.4zM287.3 28.7h0.4v0.4h-0.4zM262.7 29.9h0.4v0.4h-0.4zM274.7 30.5h0.4v0.4h-0.4zM287.5 34.9h0.4v0.4h-0.4zM273.6 28.3h0.4v0.4h-0.4zM286.6 32.0h0.4v0.4h-0.4zM288.7 27.4h0.4v0.4h-0.4zM268.9 35.7h0.4v0.4h-0.4zM285.7 33.5h0.4v0.4h-0.4zM264.9 30.5h0.4v0.4h-0.4zM298.3 33.0h0.4v0.4h-0.4zM279.6 34.5h0.4v0.4h-0.4zM279.2 34.4h0.4v0.4h-0.4zM284.0 27.7h0.4v0.4h-0.4zM265.9 28.4h0.4v0.4h-0.4zM274.7 33.6h0.4v0.4h-0.4zM296.0 31.3h0.4v0.4h-0.4zM281.4 34.4h0.4v0.4h-0.4zM272.4 30.2h0.4v0.4h-0.4zM286.1 32.9h0.4v0.4h-0.4zM266.7 33.8h0.4v0.4h-0.4zM289.4 36.2h0.4v0.4h-0.4zM292.5 29.0h0.4v0.4h-0.4zM276.4 29.3h0.4v0.4h-0.4zM268.2 27.0h0.4v0.4h-0.4zM266.1 35.2h0.4v0.4h-0.4zM263.0 32.6h0.4v0.4h-0.4zM269.5 28.4h0.4v0.4h-0.4zM294.6 29.5h0.4v0.4h-0.4zM268.5 31.0h0.4v0.4h-0.4zM289.5 31.7h0.4v0.4h-0.4zM296.2 30.5h0.4v0.4h-0.4zM282.5 33.7h0.4v0.4h-0.4zM279.9 33.7h0.4v0.4h-0.4zM280.1 27.8h0.4v0.4h-0.4zM266.1 34.3h0.4v0.4h-0.4zM291.5 35.9h0.4v0.4h-0.4zM289.3 32.3h0.4v0.4h-0.4zM267.8 35.0h0.4v0.4h-0.4zM265.9 30.7h0.4v0.4h-0.4zM266.8 30.3h0.4v0.4h-0.4zM273.6 30.8h0.4v0.4h-0.4zM290.2 31.9h0.4v0.4h-0.4zM271.0 34.3h0.4v0.4h-0.4zM291.1 34.8h0.4v0.4h-0.4zM262.4 32.6h0.4v0.4h-0.4zM297.7 29.1h0.4v0.4h-0.4zM269.3 34.6h0.4v0.4h-0.4zM275.9 30.5h0.4v0.4h-0.4zM294.5 30.3h0.4v0.4h-0.4zM269.1 28.6h0.4v0.4h-0.4zM275.2 33.5h0.4v0.4h-0.4zM276.1 34.2h0.4v0.4h-0.4zM263.7 29.0h0.4v0.4h-0.4zM286.6 31.3h0.4v0.4h-0.4zM281.5 35.9h0.4v0.4h-0.4zM272.4 28.3h0.4v0.4h-0.4zM262.4 31.3h0.4v0.4h-0.4zM273.2 31.2h0.4v0.4h-0.4zM276.6 34.1h0.4v0.4h-0.4zM273.3 35.6h0.4v0.4h-0.4zM284.8 30.5h0.4v0.4h-0.4zM292.9 28.8h0.4v0.4h-0.4zM285.8 35.0h0.4v0.4h-0.4zM283.2 29.7h0.4v0.4h-0.4zM264.9 32.2h0.4v0.4h-0.4zM268.7 30.2h0.4v0.4h-0.4zM283.2 35.9h0.4v0.4h-0.4zM288.6 31.7h0.4v0.4h-0.4zM296.2 29.6h0.4v0.4h-0.4zM276.9 33.3h0.4v0.4h-0.4zM283.7 28.7h0.4v0.4h-0.4zM277.8 34.7h0.4v0.4h-0.4zM270.9 33.6h0.4v0.4h-0.4zM289.0 29.7h0.4v0.4h-0.4zM263.5 29.0h0.4v0.4h-0.4zM266.8 27.0h0.4v0.4h-0.4zM273.8 26.9h0.4v0.4h-0.4zM277.8 31.9h0.4v0.4h-0.4zM279.1 27.9h0.4v0.4h-0.4zM279.0 31.3h0.4v0.4h-0.4zM280.6 33.4h0.4v0.4h-0.4zM297.9 34.8h0.4v0.4h-0.4zM290.8 29.9h0.4v0.4h-0.4zM267.9 27.4h0.4v0.4h-0.4zM284.3 35.6h0.4v0.4h-0.4zM274.2 30.4h0.4v0.4h-0.4zM278.1 35.9h0.4v0.4h-0.4zM289.1 34.9h0.4v0.4h-0.4zM262.6 33.8h0.4v0.4h-0.4zM279.5 30.5h0.4v0.4h-0.4zM294.5 33.9h0.4v0.4h-0.4zM298.3 33.9h0.4v0.4h-0.4zM298.3 30.8h0.4v0.4h-0.4zM283.8 34.3h0.4v0.4h-0.4zM279.6 27.9h0.4v0.4h-0.4zM285.0 35.2h0.4v0.4h-0.4zM296.7 27.8h0.4v0.4h-0.4zM276.6 28.8h0.4v0.4h-0.4zM275.0 36.1h0.4v0.4h-0.4zM278.3 29.6h0.4v0.4h-0.4zM272.2 30.9h0.4v0.4h-0.4zM288.5 29.9h0.4v0.4h-0.4zM268.6 28.8h0.4v0.4h-0.4z" fill="#666" opacity="0.6"/>
<path d="M285.7 47.6h0.45v0.45h-0.45zM290.7 60.6h0.45v0.45h-0.45zM294.9 57.2h0.45v0.45h-0.45zM286.2 53.2h0.45v0.45h-0.45zM302.5 53.4h0.45v0.45h-0.45zM304.8 60.3h0.45v0.45h-0.45zM284.2 57.4h0.45v0.45h-0.45zM302.5 59.4h0.45v0.45h-0.45zM285.8 45.8h0.45v0.45h-0.45zM291.8 46.6h0.45v0.45h-0.45zM290.8 61.1h0.45v0.45h-0.45zM287.7 59.0h0.45v0.45h-0.45zM300.2 54.3h0.45v0.45h-0.45zM296.7 58.1h0.45v0.45h-0.45zM296.9 47.9h0.45v0.45h-0.45zM291.2 48.1h0.45v0.45h-0.45zM292.8 62.3h0.45v0.45h-0.45zM293.4 44.8h0.45v0.45h-0.45zM294.5 58.9h0.45v0.45h-0.45zM293.8 56.8h0.45v0.45h-0.45zM286.0 44.7h0.45v0.45h-0.45zM290.6 50.8h0.45v0.45h-0.45zM284.1 61.6h0.45v0.45h-0.45zM299.2 61.6h0.45v0.45h-0.45zM294.8 61.6h0.45v0.45h-0.45zM303.0 55.2h0.45v0.45h-0.45zM295.6 53.2h0.45v0.45h-0.45zM289.0 50.6h0.45v0.45h-0.45zM299.9 47.2h0.45v0.45h-0.45zM302.7 53.2h0.45v0.45h-0.45zM297.3 59.1h0.45v0.45h-0.45zM298.2 46.1h0.45v0.45h-0.45zM284.6 61.6h0.45v0.45h-0.45zM297.0 61.9h0.45v0.45h-0.45zM301.2 49.5h0.45v0.45h-0.45zM294.0 45.1h0.45v0.45h-0.45zM291.0 46.7h0.45v0.45h-0.45zM292.0 45.1h0.45v0.45h-0.45zM299.7 62.1h0.45v0.45h-0.45zM288.6 58.3h0.45v0.45h-0.45zM296.9 52.7h0.45v0.45h-0.45zM304.0 50.7h0.45v0.45h-0.45zM284.1 60.2h0.45v0.45h-0.45zM299.9 56.3h0.45v0.45h-0.45zM300.9 50.7h0.45v0.45h-0.45zM286.5 49.5h0.45v0.45h-0.45zM305.0 62.1h0.45v0.45h-0.45zM289.1 51.9h0.45v0.45h-0.45zM293.9 60.7h0.45v0.45h-0.45zM284.1 59.3h0.45v0.45h-0.45zM289.6 53.9h0.45v0.45h-0.45zM286.8 45.1h0.45v0.45h-0.45zM303.4 53.1h0.45v0.45h-0.45zM305.4 59.9h0.45v0.45h-0.45zM297.0 62.4h0.45v0.45h-0.45zM295.1 44.8h0.45v0.45h-0.45zM288.1 62.3h0.45v0.45h-0.45zM291.0 57.1h0.45v0.45h-0.45zM295.2 47.0h0.45v0.45h-0.45zM305.7 55.3h0.45v0.45h-0.45zM292.0 43.9h0.45v0.45h-0.45zM295.2 57.8h0.45v0.45h-0.45zM287.9 45.2h0.45v0.45h-0.45zM299.9 61.0h0.45v0.45h-0.45zM292.3 52.5h0.45v0.45h-0.45zM298.0 53.4h0.45v0.45h-0.45zM286.8 48.7h0.45v0.45h-0.45zM288.5 47.2h0.45v0.45h-0.45zM285.9 50.9h0.45v0.45h-0.45zM288.8 59.6h0.45v0.45h-0.45zM291.1 61.8h0.45v0.45h-0.45zM301.8 48.6h0.45v0.45h-0.45zM287.4 54.4h0.45v0.45h-0.45zM294.4 53.7h0.45v0.45h-0.45zM286.7 53.6h0.45v0.45h-0.45zM300.7 52.0h0.45v0.45h-0.45zM289.6 61.0h0.45v0.45h-0.45zM290.5 62.4h0.45v0.45h-0.45zM293.8 46.3h0.45v0.45h-0.45zM301.3 51.5h0.45v0.45h-0.45zM285.9 61.6h0.45v0.45h-0.45zM301.6 55.0h0.45v0.45h-0.45zM296.5 44.9h0.45v0.45h-0.45zM295.5 52.8h0.45v0.45h-0.45zM303.7 52.9h0.45v0.45h-0.45zM292.7 59.9h0.45v0.45h-0.45zM302.9 57.2h0.45v0.45h-0.45zM304.0 50.1h0.45v0.45h-0.45zM286.3 50.1h0.45v0.45h-0.45zM297.2 58.5h0.45v0.45h-0.45zM300.2 55.5h0.45v0.45h-0.45zM297.2 56.2h0.45v0.45h-0.45zM296.0 48.7h0.45v0.45h-0.45zM285.6 55.1h0.45v0.45h-0.45zM302.5 48.9h0.45v0.45h-0.45zM298.7 55.4h0.45v0.45h-0.45zM299.0 60.1h0.45v0.45h-0.45zM297.6 50.1h0.45v0.45h-0.45zM293.2 56.3h0.45v0.45h-0.45zM287.8 55.4h0.45v0.45h-0.45zM302.7 57.0h0.45v0.45h-0.45zM292.9 58.0h0.45v0.45h-0.45zM285.7 46.6h0.45v0.45h-0.45zM287.7 46.0h0.45v0.45h-0.45zM293.8 53.9h0.45v0.45h-0.45zM298.0 51.9h0.45v0.45h-0.45zM296.3 61.4h0.45v0.45h-0.45zM286.6 59.4h0.45v0.45h-0.45zM300.1 48.6h0.45v0.45h-0.45zM286.6 57.7h0.45v0.45h-0.45zM302.8 50.1h0.45v0.45h-0.45zM287.0 54.0h0.45v0.45h-0.45zM298.8 50.3h0.45v0.45h-0.45zM293.0 45.4h0.45v0.45h-0.45zM287.1 47.7h0.45v0.45h-0.45zM288.4 52.3h0.45v0.45h-0.45zM288.6 48.1h0.45v0.45h-0.45zM300.2 47.9h0.45v0.45h-0.45zM296.4 45.1h0.45v0.45h-0.45zM295.4 56.8h0.45v0.45h-0.45zM293.8 47.1h0.45v0.45h-0.45zM284.7 48.7h0.45v0.45h-0.45zM293.0 45.4h0.45v0.45h-0.45zM293.4 53.2h0.45v0.45h-0.45zM285.4 56.1h0.45v0.45h-0.45zM305.0 56.8h0.45v0.45h-0.45zM293.9 59.3h0.45v0.45h-0.45zM304.8 61.5h0.45v0.45h-0.45zM304.9 58.0h0.45v0.45h-0.45zM304.8 58.0h0.45v0.45h-0.45zM291.1 46.1h0.45v0.45h-0.45zM294.7 56.9h0.45v0.45h-0.45zM289.9 50.3h0.45v0.45h-0.45zM289.7 59.6h0.45v0.45h-0.45zM285.3 46.3h0.45v0.45h-0.45zM292.8 61.9h0.45v0.45h-0.45zM288.8 44.3h0.45v0.45h-0.45zM285.1 50.0h0.45v0.45h-0.45zM284.1 56.2h0.45v0.45h-0.45zM285.4 47.1h0.45v0.45h-0.45zM285.7 48.6h0.45v0.45h-0.45zM285.9 46.6h0.45v0.45h-0.45zM288.3 47.9h0.45v0.45h-0.45zM298.0 50.5h0.45v0.45h-0.45zM303.0 59.7h0.45v0.45h-0.45zM304.9 57.0h0.45v0.45h-0.45zM293.5 49.7h0.45v0.45h-0.45zM288.3 51.9h0.45v0.45h-0.45zM293.2 61.3h0.45v0.45h-0.45zM288.4 56.8h0.45v0.45h-0.45zM300.1 56.0h0.45v0.45h-0.45zM287.2 53.3h0.45v0.45h-0.45zM297.3 61.8h0.45v0.45h-0.45zM301.3 47.6h0.45v0.45h-0.45zM287.3 58.2h0.45v0.45h-0.45zM284.2 60.8h0.45v0.45h-0.45zM285.9 54.9h0.45v0.45h-0.45zM286.2 55.5h0.45v0.45h-0.45zM294.3 58.6h0.45v0.45h-0.45zM301.1 51.0h0.45v0.45h-0.45zM284.2 55.2h0.45v0.45h-0.45zM295.8 51.5h0.45v0.45h-0.45zM297.1 54.6h0.45v0.45h-0.45zM294.6 53.9h0.45v0.45h-0.45zM296.4 58.2h0.45v0.45h-0.45zM301.3 48.1h0.45v0.45h-0.45zM293.3 47.6h0.45v0.45h-0.45zM290.8 51.1h0.45v0.45h-0.45zM294.0 45.5h0.45v0.45h-0.45zM290.5 52.2h0.45v0.45h-0.45zM292.5 53.6h0.45v0.45h-0.45zM285.5 54.1h0.45v0.45h-0.45zM303.9 57.5h0.45v0.45h-0.45zM296.3 58.8h0.45v0.45h-0.45zM292.4 46.9h0.45v0.45h-0.45zM297.5 48.1h0.45v0.45h-0.45zM290.0 58.1h0.45v0.45h-0.45zM295.2 46.8h0.45v0.45h-0.45zM288.8 57.4h0.45v0.45h-0.45zM298.3 60.6h0.45v0.45h-0.45zM300.3 48.9h0.45v0.45h-0.45zM299.5 60.3h0.45v0.45h-0.45zM303.4 60.8h0.45v0.45h-0.45zM287.2 48.2h0.45v0.45h-0.45zM287.8 59.0h0.45v0.45h-0.45zM299.2 54.1h0.45v0.45h-0.45zM288.3 51.3h0.45v0.45h-0.45zM303.6 56.9h0.45v0.45h-0.45zM303.7 61.5h0.45v0.45h-0.45zM295.3 49.2h0.45v0.45h-0.45zM292.4 52.8h0.45v0.45h-0.45zM297.3 48.7h0.45v0.45h-0.45zM290.3 53.2h0.45v0.45h-0.45zM303.8 55.8h0.45v0.45h-0.45zM295.0 54.0h0.45v0.45h-0.45zM302.1 51.7h0.45v0.45h-0.45zM291.2 45.2h0.45v0.45h-0.45zM291.4 44.7h0.45v0.45h-0.45zM289.6 55.7h0.45v0.45h-0.45zM291.9 60.8h0.45v0.45h-0.45zM294.3 59.4h0.45v0.45h-0.45zM288.6 62.1h0.45v0.45h-0.45zM302.8 60.7h0.45v0.45h-0.45zM301.7 53.4h0.45v0.45h-0.45zM287.4 59.5h0.45v0.45h-0.45zM300.8 55.4h0.45v0.45h-0.45zM300.9 60.8h0.45v0.45h-0.45zM298.3 46.2h0.45v0.45h-0.45zM293.6 53.8h0.45v0.45h-0.45zM289.0 56.9h0.45v0.45h-0.45zM291.2 45.2h0.45v0.45h-0.45zM291.9 57.5h0.45v0.45h-0.45zM298.0 49.7h0.45v0.45h-0.45zM293.2 56.6h0.45v0.45h-0.45zM288.3 51.4h0.45v0.45h-0.45zM288.8 46.9h0.45v0.45h-0.45zM290.7 46.2h0.45v0.45h-0.45zM284.8 51.6h0.45v0.45h-0.45zM293.6 55.2h0.45v0.45h-0.45zM304.5 61.4h0.45v0.45h-0.45zM294.5 48.8h0.45v0.45h-0.45zM297.6 51.9h0.45v0.45h-0.45zM297.0 61.1h0.45v0.45h-0.45zM300.7 62.2h0.45v0.45h-0.45zM301.9 58.1h0.45v0.45h-0.45zM300.5 56.3h0.45v0.45h-0.45zM292.6 55.2h0.45v0.45h-0.45zM288.2 58.5h0.45v0.45h-0.45zM295.5 50.3h0.45v0.45h-0.45zM298.9 57.0h0.45v0.45h-0.45zM297.5 49.5h0.45v0.45h-0.45zM293.0 43.9h0.45v0.45h-0.45zM297.1 45.0h0.45v0.45h-0.45zM289.1 58.3h0.45v0.45h-0.45zM299.5 47.7h0.45v0.45h-0.45zM284.6 61.7h0.45v0.45h-0.45zM293.5 44.6h0.45v0.45h-0.45zM295.5 59.0h0.45v0.45h-0.45zM297.1 49.0h0.45v0.45h-0.45zM295.3 50.5h0.45v0.45h-0.45zM304.8 58.6h0.45v0.45h-0.45zM288.6 55.1h0.45v0.45h-0.45zM287.1 54.3h0.45v0.45h-0.45zM298.1 51.5h0.45v0.45h-0.45zM295.9 54.9h0.45v0.45h-0.45zM291.5 46.3h0.45v0.45h-0.45zM288.9 60.9h0.45v0.45h-0.45zM297.7 59.3h0.45v0.45h-0.45zM292.9 47.6h0.45v0.45h-0.45zM285.9 58.2h0.45v0.45h-0.45zM302.9 57.4h0.45v0.45h-0.45zM288.9 58.0h0.45v0.45h-0.45zM294.9 62.2h0.45v0.45h-0.45zM288.4 55.9h0.45v0.45h-0.45zM301.1 54.3h0.45v0.45h-0.45zM304.1 53.0h0.45v0.45h-0.45zM287.6 50.4h0.45v0.45h-0.45zM290.9 53.1h0.45v0.45h-0.45zM292.3 59.3h0.45v0.45h-0.45zM297.8 58.7h0.45v0.45h-0.45zM287.9 45.9h0.45v0.45h-0.45zM299.7 50.4h0.45v0.45h-0.45zM302.1 60.4h0.45v0.45h-0.45zM302.8 56.0h0.45v0.45h-0.45zM289.2 45.1h0.45v0.45h-0.45zM294.8 58.7h0.45v0.45h-0.45zM285.1 51.4h0.45v0.45h-0.45zM297.3 49.6h0.45v0.45h-0.45zM299.2 57.9h0.45v0.45h-0.45zM302.3 61.1h0.45v0.45h-0.45zM287.8 61.4h0.45v0.45h-0.45zM285.5 55.1h0.45v0.45h-0.45zM289.9 56.5h0.45v0.45h-0.45zM293.4 45.6h0.45v0.45h-0.45zM285.1 55.0h0.45v0.45h-0.45zM287.0 46.4h0.45v0.45h-0.45zM289.8 53.7h0.45v0.45h-0.45zM285.8 49.8h0.45v0.45h-0.45zM290.3 48.3h0.45v0.45h-0.45zM300.5 52.3h0.45v0.45h-0.45zM301.3 61.2h0.45v0.45h-0.45zM299.0 46.1h0.45v0.45h-0.45zM284.8 55.5h0.45v0.45h-0.45zM295.7 46.6h0.45v0.45h-0.45zM290.5 57.1h0.45v0.45h-0.45zM297.4 45.6h0.45v0.45h-0.45zM292.9 55.1h0.45v0.45h-0.45zM289.3 46.5h0.45v0.45h-0.45zM295.5 60.7h0.45v0.45h-0.45zM287.5 45.6h0.45v0.45h-0.45zM290.8 61.8h0.45v0.45h-0.45zM285.0 54.8h0.45v0.45h-0.45zM298.3 61.5h0.45v0.45h-0.45zM286.9 57.8h0.45v0.45h-0.45zM293.4 60.5h0.45v0.45h-0.45zM304.5 55.2h0.45v0.45h-0.45zM297.8 45.7h0.45v0.45h-0.45zM290.8 60.8h0.45v0.45h-0.45zM298.1 48.4h0.45v0.45h-0.45zM288.2 59.0h0.45v0.45h-0.45zM301.4 55.7h0.45v0.45h-0.45zM294.7 60.0h0.45v0.45h-0.45zM299.9 50.8h0.45v0.45h-0.45zM292.5 59.9h0.45v0.45h-0.45zM299.1 47.0h0.45v0.45h-0.45zM291.5 48.2h0.45v0.45h-0.45zM291.7 52.1h0.45v0.45h-0.45zM300.1 51.8h0.45v0.45h-0.45zM284.3 52.2h0.45v0.45h-0.45zM298.2 50.0h0.45v0.45h-0.45zM288.5 60.1h0.45v0.45h-0.45zM301.7 53.1h0.45v0.45h-0.45zM298.8 56.3h0.45v0.45h-0.45zM296.6 49.9h0.45v0.45h-0.45zM292.3 48.0h0.45v0.45h-0.45zM291.8 45.0h0.45v0.45h-0.45zM301.5 49.2h0.45v0.45h-0.45zM284.5 47.4h0.45v0.45h-0.45zM301.9 54.7h0.45v0.45h-0.45zM288.4 44.5h0.45v0.45h-0.45zM292.8 54.1h0.45v0.45h-0.45zM297.3 45.9h0.45v0.45h-0.45zM300.9 59.4h0.45v0.45h-0.45zM295.9 61.9h0.45v0.45h-0.45zM289.1 48.1h0.45v0.45h-0.45zM288.5 60.4h0.45v0.45h-0.45zM300.0 50.0h0.45v0.45h-0.45zM301.7 49.1h0.45v0.45h-0.45zM297.6 55.2h0.45v0.45h-0.45zM297.2 59.8h0.45v0.45h-0.45zM297.4 48.0h0.45v0.45h-0.45zM292.0 48.7h0.45v0.45h-0.45zM295.4 51.6h0.45v0.45h-0.45zM294.9 49.6h0.45v0.45h-0.45zM301.7 52.1h0.45v0.45h-0.45zM294.3 52.0h0.45v0.45h-0.45zM295.0 50.2h0.45v0.45h-0.45zM295.1 47.7h0.45v0.45h-0.45zM292.6 45.6h0.45v0.45h-0.45zM285.8 50.4h0.45v0.45h-0.45zM290.9 48.3h0.45v0.45h-0.45zM304.8 59.8h0.45v0.45h-0.45zM305.2 57.7h0.45v0.45h-0.45zM290.1 60.6h0.45v0.45h-0.45zM293.7 46.5h0.45v0.45h-0.45zM292.7 52.4h0.45v0.45h-0.45zM298.8 56.4h0.45v0.45h-0.45zM294.9 47.9h0.45v0.45h-0.45zM296.9 56.2h0.45v0.45h-0.45zM292.2 62.4h0.45v0.45h-0.45zM294.0 45.2h0.45v0.45h-0.45zM292.4 53.5h0.45v0.45h-0.45zM291.5 58.3h0.45v0.45h-0.45zM299.7 51.8h0.45v0.45h-0.45zM299.9 58.5h0.45v0.45h-0.45zM289.0 62.4h0.45v0.45h-0.45zM284.1 61.7h0.45v0.45h-0.45zM300.6 58.9h0.45v0.45h-0.45zM284.0 59.4h0.45v0.45h-0.45zM288.9 48.5h0.45v0.45h-0.45zM303.5 52.8h0.45v0.45h-0.45zM305.2 56.6h0.45v0.45h-0.45zM303.4 55.2h0.45v0.45h-0.45zM305.2 55.6h0.45v0.45h-0.45zM292.3 49.0h0.45v0.45h-0.45zM296.1 48.1h0.45v0.45h-0.45zM303.9 58.2h0.45v0.45h-0.45zM302.9 55.3h0.45v0.45h-0.45zM288.6 52.5h0.45v0.45h-0.45zM298.6 58.1h0.45v0.45h-0.45zM304.7 57.2h0.45v0.45h-0.45zM289.5 52.5h0.45v0.45h-0.45zM284.1 45.1h0.45v0.45h-0.45zM291.2 54.8h0.45v0.45h-0.45zM303.6 52.3h0.45v0.45h-0.45zM297.1 47.1h0.45v0.45h-0.45zM304.4 57.3h0.45v0.45h-0.45zM292.9 43.8h0.45v0.45h-0.45zM300.3 50.8h0.45v0.45h-0.45zM301.0 47.6h0.45v0.45h-0.45z" fill="#222" opacity="0.8"/>
<path d="M289,45.5 L295,46.5 L299.5,50.5 L301,57 L300.5,62.5 L289,62.5 Z" fill="#111" filter="url(#b1)"/>
<path d="M267.4,33.5 C267.4,27.5 270.6,25.2 274.8,25.2 C279,25.2 282.2,27.5 282.2,33.5 C282.2,39 280.5,41.5 279.6,43 C280.6,47 281,55 280.6,62.6 L268.6,62.6 C268.2,55 268.4,47 269.6,43 C268.8,41.5 267.4,39 267.4,33.5 Z" fill="#0a1060" filter="url(#b05)"/>
<path d="M268.4,33.5 C268.4,28.2 271,26.2 274.8,26.2 C278.6,26.2 281.2,28.2 281.2,33.5 C281.2,38.6 279.6,41.2 278.7,43 C279.6,47 279.9,55 279.6,62.6 L269.6,62.6 C269.3,55 269.4,47 270.5,43 C269.8,41.2 268.4,38.6 268.4,33.5 Z" fill="#1f3cf0" filter="url(#b05)"/>
<ellipse cx="274.6" cy="52" rx="3.4" ry="8" fill="#3c8cff" filter="url(#b1)"/>
<ellipse cx="274.6" cy="52" rx="2.4" ry="6" fill="#40e0f0" filter="url(#b05)"/>
<ellipse cx="274.6" cy="52.3" rx="1.3" ry="3.5" fill="#a8f0a0" filter="url(#b05)"/>
<ellipse cx="274.7" cy="32.4" rx="5.6" ry="6.6" fill="#3c8cff" filter="url(#b05)"/>
<ellipse cx="274.5" cy="32.3" rx="4.6" ry="5.6" fill="#40e0f0" filter="url(#b05)"/>
<ellipse cx="274.3" cy="32.2" rx="3.5" ry="4.6" fill="#90e850" filter="url(#b05)"/>
<ellipse cx="274.2" cy="32.1" rx="2.2" ry="3.1" fill="#f0e030" filter="url(#b05)"/>
<ellipse cx="274.1" cy="32.1" rx="1.2" ry="1.7" fill="#d02010" filter="url(#b05)"/>
<path d="M280.6,53 C280.6,48 284,45.4 288,45.4 C292,45.4 295.2,48 295.2,53 L295.2,62.6 L280.6,62.6 Z" fill="#0a1060" filter="url(#b05)"/>
<path d="M281.6,53 C281.6,48.6 284.6,46.4 288,46.4 C291.4,46.4 294.2,48.6 294.2,53 L294.2,62.6 L281.6,62.6 Z" fill="#1f3cf0" filter="url(#b05)"/>
<ellipse cx="288.3" cy="53" rx="3.6" ry="5" fill="#3c8cff" filter="url(#b1)"/>
<rect x="281" y="43.4" width="26.3" height="19.1" fill="none" stroke="#e05050" stroke-width="0.4"/>
<rect x="260.2" y="1.0" width="62.0" height="61.6" fill="none" stroke="#666" stroke-width="0.6"/>
<path d="M261.7 62.6v-0.9M263.3 62.6v-0.9M264.9 62.6v-0.9M266.5 62.6v-0.9M268.1 62.6v-0.9M269.7 62.6v-0.9M271.3 62.6v-0.9M272.9 62.6v-0.9M274.5 62.6v-0.9M276.1 62.6v-0.9M277.7 62.6v-0.9M279.3 62.6v-0.9M280.9 62.6v-0.9M282.5 62.6v-0.9M284.1 62.6v-0.9M285.7 62.6v-0.9M287.3 62.6v-0.9M288.9 62.6v-0.9M290.5 62.6v-0.9M292.1 62.6v-0.9M293.7 62.6v-0.9M295.3 62.6v-0.9M296.9 62.6v-0.9M298.5 62.6v-0.9M300.1 62.6v-0.9M301.7 62.6v-0.9M303.3 62.6v-0.9M304.9 62.6v-0.9M306.5 62.6v-0.9M308.1 62.6v-0.9M309.7 62.6v-0.9M311.3 62.6v-0.9M312.9 62.6v-0.9M314.5 62.6v-0.9M316.1 62.6v-0.9M317.7 62.6v-0.9M319.3 62.6v-0.9M320.9 62.6v-0.9M260.2 2.5h0.9M260.2 4.1h0.9M260.2 5.7h0.9M260.2 7.3h0.9M260.2 8.9h0.9M260.2 10.5h0.9M260.2 12.1h0.9M260.2 13.7h0.9M260.2 15.3h0.9M260.2 16.9h0.9M260.2 18.5h0.9M260.2 20.1h0.9M260.2 21.7h0.9M260.2 23.3h0.9M260.2 24.9h0.9M260.2 26.5h0.9M260.2 28.1h0.9M260.2 29.7h0.9M260.2 31.3h0.9M260.2 32.9h0.9M260.2 34.5h0.9M260.2 36.1h0.9M260.2 37.7h0.9M260.2 39.3h0.9M260.2 40.9h0.9M260.2 42.5h0.9M260.2 44.1h0.9M260.2 45.7h0.9M260.2 47.3h0.9M260.2 48.9h0.9M260.2 50.5h0.9M260.2 52.1h0.9M260.2 53.7h0.9M260.2 55.3h0.9M260.2 56.9h0.9M260.2 58.5h0.9M260.2 60.1h0.9M260.2 61.7h0.9" stroke="#888" stroke-width="0.35" fill="none"/>
<line x1="258.9" y1="8" x2="260.2" y2="8" stroke="#666" stroke-width="0.4"/>
<text x="258.3" y="8" font-size="2.9" text-anchor="middle" fill="#333" font-weight="bold" stroke="#333" stroke-width="0.12" transform="rotate(-90 258.3 8)" >10<tspan dy="-0.9" font-size="1.9">5</tspan></text>
<line x1="258.9" y1="20.5" x2="260.2" y2="20.5" stroke="#666" stroke-width="0.4"/>
<text x="258.3" y="20.5" font-size="2.9" text-anchor="middle" fill="#333" font-weight="bold" stroke="#333" stroke-width="0.12" transform="rotate(-90 258.3 20.5)" >10<tspan dy="-0.9" font-size="1.9">4</tspan></text>
<line x1="258.9" y1="33.8" x2="260.2" y2="33.8" stroke="#666" stroke-width="0.4"/>
<text x="258.3" y="33.8" font-size="2.9" text-anchor="middle" fill="#333" font-weight="bold" stroke="#333" stroke-width="0.12" transform="rotate(-90 258.3 33.8)" >10<tspan dy="-0.9" font-size="1.9">3</tspan></text>
<line x1="258.9" y1="48.6" x2="260.2" y2="48.6" stroke="#666" stroke-width="0.4"/>
<line x1="258.9" y1="56.7" x2="260.2" y2="56.7" stroke="#666" stroke-width="0.4"/>
<text x="258.3" y="56.7" font-size="2.9" text-anchor="middle" fill="#333" font-weight="bold" stroke="#333" stroke-width="0.12" transform="rotate(-90 258.3 56.7)" >0</text>
<line x1="274" y1="62.6" x2="274" y2="63.9" stroke="#666" stroke-width="0.4"/>
<text x="274" y="68.3" font-size="2.9" text-anchor="middle" fill="#333" font-weight="bold" stroke="#333" stroke-width="0.12" >0</text>
<line x1="285" y1="62.6" x2="285" y2="63.9" stroke="#666" stroke-width="0.4"/>
<text x="285" y="68.3" font-size="2.9" text-anchor="middle" fill="#333" font-weight="bold" stroke="#333" stroke-width="0.12" >10<tspan dy="-0.9" font-size="1.9">3</tspan></text>
<line x1="300.8" y1="62.6" x2="300.8" y2="63.9" stroke="#666" stroke-width="0.4"/>
<text x="300.8" y="68.3" font-size="2.9" text-anchor="middle" fill="#333" font-weight="bold" stroke="#333" stroke-width="0.12" >10<tspan dy="-0.9" font-size="1.9">4</tspan></text>
<line x1="315.8" y1="62.6" x2="315.8" y2="63.9" stroke="#666" stroke-width="0.4"/>
<text x="315.8" y="68.3" font-size="2.9" text-anchor="middle" fill="#333" font-weight="bold" stroke="#333" stroke-width="0.12" >10<tspan dy="-0.9" font-size="1.9">5</tspan></text>
<text x="253.8" y="36" font-size="2.9" text-anchor="middle" fill="#222" font-weight="bold" stroke="#222" stroke-width="0.12" transform="rotate(-90 253.8 36)" >CD3</text>
<text x="294.2" y="71.6" font-size="2.9" text-anchor="middle" fill="#222" font-weight="bold" stroke="#222" stroke-width="0.12" >CD19</text>
<text x="305.7" y="39.3" font-size="6.6" text-anchor="start" fill="#c84848" font-weight="normal" >7.85</text>
<text x="307.7" y="53.7" font-size="3.2" text-anchor="start" fill="#111" font-weight="bold" stroke="#111" stroke-width="0.15" textLength="11.1" lengthAdjust="spacingAndGlyphs" >B cells</text>
<path d="M287.9,60 L287.9,74 L56.8,74 L56.8,76.5" fill="none" stroke="#000" stroke-width="1.1"/>
<path d="M54.2,75.4 L59.4,75.4 L56.8,79.8 Z" fill="#000"/>
<rect x="32.5" y="99.1" width="24.5" height="43.4" fill="none" stroke="#e8a0a0" stroke-width="0.5"/>
<path d="M43.8 114.8h0.45v0.45h-0.45zM41.0 125.5h0.45v0.45h-0.45zM43.4 116.5h0.45v0.45h-0.45zM54.1 119.1h0.45v0.45h-0.45zM55.4 110.1h0.45v0.45h-0.45zM36.5 106.6h0.45v0.45h-0.45zM51.7 125.3h0.45v0.45h-0.45zM41.5 118.6h0.45v0.45h-0.45zM48.0 124.3h0.45v0.45h-0.45zM42.1 123.5h0.45v0.45h-0.45zM50.4 126.0h0.45v0.45h-0.45zM55.6 103.9h0.45v0.45h-0.45zM36.1 112.6h0.45v0.45h-0.45zM49.6 104.7h0.45v0.45h-0.45zM68.2 101.8h0.45v0.45h-0.45zM41.6 110.0h0.45v0.45h-0.45zM50.8 101.9h0.45v0.45h-0.45zM53.8 115.5h0.45v0.45h-0.45zM36.4 112.1h0.45v0.45h-0.45zM38.5 117.6h0.45v0.45h-0.45zM55.2 116.8h0.45v0.45h-0.45zM64.7 105.5h0.45v0.45h-0.45zM42.7 130.8h0.45v0.45h-0.45zM37.3 113.6h0.45v0.45h-0.45zM53.7 118.0h0.45v0.45h-0.45zM51.9 102.9h0.45v0.45h-0.45zM57.2 112.1h0.45v0.45h-0.45zM62.2 101.8h0.45v0.45h-0.45zM35.9 120.1h0.45v0.45h-0.45zM54.5 114.8h0.45v0.45h-0.45zM60.3 114.0h0.45v0.45h-0.45zM45.0 124.2h0.45v0.45h-0.45zM49.2 126.7h0.45v0.45h-0.45zM48.6 108.7h0.45v0.45h-0.45zM54.9 119.9h0.45v0.45h-0.45zM58.8 116.5h0.45v0.45h-0.45zM49.4 122.9h0.45v0.45h-0.45zM46.5 118.3h0.45v0.45h-0.45zM35.7 102.4h0.45v0.45h-0.45zM65.0 105.2h0.45v0.45h-0.45zM49.5 99.8h0.45v0.45h-0.45zM61.5 109.0h0.45v0.45h-0.45zM37.2 107.2h0.45v0.45h-0.45zM38.0 114.2h0.45v0.45h-0.45zM53.7 124.2h0.45v0.45h-0.45zM40.3 125.6h0.45v0.45h-0.45zM44.8 122.7h0.45v0.45h-0.45zM50.3 122.5h0.45v0.45h-0.45zM62.2 101.6h0.45v0.45h-0.45zM54.8 119.6h0.45v0.45h-0.45zM40.9 126.8h0.45v0.45h-0.45zM55.3 119.3h0.45v0.45h-0.45zM40.8 115.5h0.45v0.45h-0.45zM49.4 104.9h0.45v0.45h-0.45zM51.1 100.5h0.45v0.45h-0.45zM68.9 101.9h0.45v0.45h-0.45zM52.7 116.9h0.45v0.45h-0.45zM56.0 115.2h0.45v0.45h-0.45zM47.6 124.6h0.45v0.45h-0.45zM62.8 104.5h0.45v0.45h-0.45zM43.1 103.4h0.45v0.45h-0.45zM63.2 101.1h0.45v0.45h-0.45zM51.5 125.1h0.45v0.45h-0.45zM45.7 100.8h0.45v0.45h-0.45zM53.4 124.3h0.45v0.45h-0.45zM45.8 102.5h0.45v0.45h-0.45zM41.8 113.9h0.45v0.45h-0.45zM62.0 100.8h0.45v0.45h-0.45zM54.5 110.8h0.45v0.45h-0.45zM36.6 114.9h0.45v0.45h-0.45zM49.5 120.7h0.45v0.45h-0.45zM37.6 103.5h0.45v0.45h-0.45zM36.1 114.3h0.45v0.45h-0.45zM37.5 115.9h0.45v0.45h-0.45zM50.4 109.1h0.45v0.45h-0.45zM42.0 128.8h0.45v0.45h-0.45zM51.8 101.4h0.45v0.45h-0.45zM36.4 111.5h0.45v0.45h-0.45zM52.9 103.7h0.45v0.45h-0.45zM52.5 120.4h0.45v0.45h-0.45zM60.9 108.0h0.45v0.45h-0.45zM56.3 114.8h0.45v0.45h-0.45zM61.3 102.1h0.45v0.45h-0.45zM41.5 122.0h0.45v0.45h-0.45zM60.1 105.7h0.45v0.45h-0.45zM57.5 113.5h0.45v0.45h-0.45zM37.4 105.7h0.45v0.45h-0.45zM47.4 129.5h0.45v0.45h-0.45zM42.9 129.3h0.45v0.45h-0.45zM42.2 112.5h0.45v0.45h-0.45zM49.0 120.3h0.45v0.45h-0.45zM47.5 122.5h0.45v0.45h-0.45zM36.5 105.5h0.45v0.45h-0.45zM43.0 103.7h0.45v0.45h-0.45zM38.7 114.0h0.45v0.45h-0.45zM35.8 106.3h0.45v0.45h-0.45zM40.4 121.2h0.45v0.45h-0.45zM44.8 111.7h0.45v0.45h-0.45zM43.3 120.2h0.45v0.45h-0.45zM43.3 123.7h0.45v0.45h-0.45zM51.5 116.4h0.45v0.45h-0.45zM44.6 122.3h0.45v0.45h-0.45zM64.4 104.4h0.45v0.45h-0.45zM45.1 122.1h0.45v0.45h-0.45zM59.8 111.3h0.45v0.45h-0.45zM36.1 116.5h0.45v0.45h-0.45zM41.4 105.0h0.45v0.45h-0.45zM49.4 119.6h0.45v0.45h-0.45zM43.0 105.3h0.45v0.45h-0.45zM54.9 107.2h0.45v0.45h-0.45zM54.6 120.6h0.45v0.45h-0.45zM45.9 128.1h0.45v0.45h-0.45zM37.7 101.7h0.45v0.45h-0.45zM52.2 108.1h0.45v0.45h-0.45zM50.9 107.2h0.45v0.45h-0.45zM43.0 128.5h0.45v0.45h-0.45zM60.9 109.3h0.45v0.45h-0.45zM40.3 121.2h0.45v0.45h-0.45zM48.1 116.1h0.45v0.45h-0.45zM54.8 106.1h0.45v0.45h-0.45zM36.2 122.9h0.45v0.45h-0.45zM46.6 109.2h0.45v0.45h-0.45zM56.8 110.4h0.45v0.45h-0.45zM60.9 115.4h0.45v0.45h-0.45zM39.5 105.0h0.45v0.45h-0.45zM42.2 108.6h0.45v0.45h-0.45zM43.9 105.6h0.45v0.45h-0.45zM41.6 103.1h0.45v0.45h-0.45zM54.1 105.7h0.45v0.45h-0.45zM49.3 112.8h0.45v0.45h-0.45zM41.0 116.5h0.45v0.45h-0.45zM61.8 108.9h0.45v0.45h-0.45zM36.4 101.4h0.45v0.45h-0.45zM47.9 104.7h0.45v0.45h-0.45zM43.4 109.8h0.45v0.45h-0.45zM56.0 103.5h0.45v0.45h-0.45zM35.9 111.2h0.45v0.45h-0.45zM63.0 98.6h0.45v0.45h-0.45zM60.6 105.6h0.45v0.45h-0.45zM37.2 114.1h0.45v0.45h-0.45zM51.5 113.2h0.45v0.45h-0.45zM55.2 103.8h0.45v0.45h-0.45zM60.8 114.4h0.45v0.45h-0.45zM56.4 111.0h0.45v0.45h-0.45zM36.4 116.9h0.45v0.45h-0.45zM42.9 129.2h0.45v0.45h-0.45zM43.9 107.8h0.45v0.45h-0.45zM45.4 126.3h0.45v0.45h-0.45zM60.4 100.8h0.45v0.45h-0.45zM61.3 99.3h0.45v0.45h-0.45zM45.3 109.0h0.45v0.45h-0.45zM49.4 107.4h0.45v0.45h-0.45zM38.8 115.4h0.45v0.45h-0.45zM37.8 111.4h0.45v0.45h-0.45zM45.2 100.9h0.45v0.45h-0.45zM38.6 122.5h0.45v0.45h-0.45zM38.0 114.8h0.45v0.45h-0.45zM65.1 101.9h0.45v0.45h-0.45zM37.3 125.2h0.45v0.45h-0.45zM44.7 113.9h0.45v0.45h-0.45zM46.4 103.3h0.45v0.45h-0.45zM48.9 113.7h0.45v0.45h-0.45zM63.5 105.5h0.45v0.45h-0.45zM38.9 118.2h0.45v0.45h-0.45zM45.4 127.5h0.45v0.45h-0.45zM63.9 99.1h0.45v0.45h-0.45zM39.3 117.8h0.45v0.45h-0.45zM49.1 114.4h0.45v0.45h-0.45zM49.5 101.9h0.45v0.45h-0.45zM56.2 108.2h0.45v0.45h-0.45zM59.2 107.6h0.45v0.45h-0.45zM39.2 118.1h0.45v0.45h-0.45zM49.6 102.3h0.45v0.45h-0.45zM54.8 99.9h0.45v0.45h-0.45zM44.8 130.6h0.45v0.45h-0.45zM48.2 110.1h0.45v0.45h-0.45zM68.2 101.0h0.45v0.45h-0.45zM66.6 102.3h0.45v0.45h-0.45zM50.8 110.6h0.45v0.45h-0.45zM35.9 103.6h0.45v0.45h-0.45zM40.3 100.4h0.45v0.45h-0.45zM48.7 125.5h0.45v0.45h-0.45zM42.5 110.0h0.45v0.45h-0.45zM58.1 116.3h0.45v0.45h-0.45zM45.5 112.0h0.45v0.45h-0.45zM37.5 106.6h0.45v0.45h-0.45zM65.9 100.3h0.45v0.45h-0.45zM55.8 112.0h0.45v0.45h-0.45zM62.0 112.5h0.45v0.45h-0.45zM42.4 114.7h0.45v0.45h-0.45zM57.7 112.9h0.45v0.45h-0.45zM38.9 114.7h0.45v0.45h-0.45zM58.8 106.4h0.45v0.45h-0.45zM61.2 101.9h0.45v0.45h-0.45zM43.2 114.7h0.45v0.45h-0.45zM54.7 113.5h0.45v0.45h-0.45zM35.5 103.8h0.45v0.45h-0.45zM43.4 111.7h0.45v0.45h-0.45zM57.7 106.5h0.45v0.45h-0.45zM49.8 123.6h0.45v0.45h-0.45zM62.6 98.4h0.45v0.45h-0.45zM38.1 117.9h0.45v0.45h-0.45zM60.5 99.8h0.45v0.45h-0.45zM49.4 116.7h0.45v0.45h-0.45zM54.1 117.3h0.45v0.45h-0.45zM54.7 103.9h0.45v0.45h-0.45zM53.7 105.1h0.45v0.45h-0.45zM51.5 107.0h0.45v0.45h-0.45zM44.5 116.1h0.45v0.45h-0.45zM61.3 103.4h0.45v0.45h-0.45zM59.7 108.0h0.45v0.45h-0.45zM49.4 117.0h0.45v0.45h-0.45zM38.4 106.0h0.45v0.45h-0.45zM58.7 114.1h0.45v0.45h-0.45zM62.4 104.2h0.45v0.45h-0.45zM62.9 107.8h0.45v0.45h-0.45zM40.8 116.8h0.45v0.45h-0.45zM44.1 110.7h0.45v0.45h-0.45zM58.7 116.8h0.45v0.45h-0.45zM36.0 109.6h0.45v0.45h-0.45zM35.7 112.9h0.45v0.45h-0.45zM59.0 117.7h0.45v0.45h-0.45zM50.6 108.0h0.45v0.45h-0.45zM66.4 99.8h0.45v0.45h-0.45zM41.9 130.0h0.45v0.45h-0.45zM55.0 102.4h0.45v0.45h-0.45zM43.7 113.0h0.45v0.45h-0.45zM44.3 118.2h0.45v0.45h-0.45zM41.8 114.4h0.45v0.45h-0.45zM47.3 113.7h0.45v0.45h-0.45zM52.1 107.4h0.45v0.45h-0.45zM52.6 116.0h0.45v0.45h-0.45zM48.4 112.5h0.45v0.45h-0.45zM52.0 120.2h0.45v0.45h-0.45zM61.6 101.1h0.45v0.45h-0.45zM36.5 111.8h0.45v0.45h-0.45zM42.4 112.8h0.45v0.45h-0.45zM42.9 116.6h0.45v0.45h-0.45zM50.2 105.3h0.45v0.45h-0.45zM45.1 115.7h0.45v0.45h-0.45zM47.6 128.7h0.45v0.45h-0.45zM51.6 99.5h0.45v0.45h-0.45zM46.6 114.0h0.45v0.45h-0.45zM54.8 104.9h0.45v0.45h-0.45zM47.0 102.5h0.45v0.45h-0.45zM41.9 104.1h0.45v0.45h-0.45zM49.4 116.9h0.45v0.45h-0.45zM63.0 103.0h0.45v0.45h-0.45zM65.4 106.1h0.45v0.45h-0.45zM36.6 119.0h0.45v0.45h-0.45zM63.1 100.1h0.45v0.45h-0.45zM37.0 113.1h0.45v0.45h-0.45zM69.1 101.6h0.45v0.45h-0.45zM50.2 115.8h0.45v0.45h-0.45zM57.2 102.6h0.45v0.45h-0.45zM61.9 112.7h0.45v0.45h-0.45zM56.2 99.4h0.45v0.45h-0.45zM48.7 119.9h0.45v0.45h-0.45zM42.2 129.8h0.45v0.45h-0.45zM37.1 102.3h0.45v0.45h-0.45zM63.1 98.5h0.45v0.45h-0.45zM44.6 112.5h0.45v0.45h-0.45zM38.8 114.0h0.45v0.45h-0.45zM40.4 123.3h0.45v0.45h-0.45zM49.8 125.2h0.45v0.45h-0.45zM57.8 101.9h0.45v0.45h-0.45zM65.2 102.9h0.45v0.45h-0.45zM47.9 106.8h0.45v0.45h-0.45zM48.2 124.6h0.45v0.45h-0.45zM41.1 112.7h0.45v0.45h-0.45zM49.9 125.8h0.45v0.45h-0.45zM50.2 111.4h0.45v0.45h-0.45zM43.0 117.0h0.45v0.45h-0.45zM62.0 106.8h0.45v0.45h-0.45zM60.2 105.7h0.45v0.45h-0.45zM41.6 100.7h0.45v0.45h-0.45zM43.1 110.6h0.45v0.45h-0.45zM45.2 113.4h0.45v0.45h-0.45zM35.8 104.9h0.45v0.45h-0.45zM39.8 117.0h0.45v0.45h-0.45zM40.7 130.1h0.45v0.45h-0.45zM64.2 108.4h0.45v0.45h-0.45zM41.0 100.9h0.45v0.45h-0.45zM61.4 108.3h0.45v0.45h-0.45zM48.9 106.5h0.45v0.45h-0.45zM63.5 110.1h0.45v0.45h-0.45zM42.0 115.0h0.45v0.45h-0.45zM56.0 101.3h0.45v0.45h-0.45zM55.7 115.6h0.45v0.45h-0.45zM43.0 106.0h0.45v0.45h-0.45zM41.3 101.0h0.45v0.45h-0.45zM53.6 109.6h0.45v0.45h-0.45zM38.7 123.9h0.45v0.45h-0.45zM45.7 125.7h0.45v0.45h-0.45zM39.5 129.8h0.45v0.45h-0.45zM53.6 120.9h0.45v0.45h-0.45zM51.3 113.8h0.45v0.45h-0.45zM35.7 103.1h0.45v0.45h-0.45zM44.0 127.2h0.45v0.45h-0.45zM48.1 109.1h0.45v0.45h-0.45zM59.6 110.8h0.45v0.45h-0.45zM58.9 102.6h0.45v0.45h-0.45zM41.5 110.0h0.45v0.45h-0.45zM66.1 107.1h0.45v0.45h-0.45zM53.3 100.5h0.45v0.45h-0.45zM55.7 102.9h0.45v0.45h-0.45zM50.8 115.9h0.45v0.45h-0.45zM49.2 111.9h0.45v0.45h-0.45zM40.3 110.2h0.45v0.45h-0.45zM64.3 108.8h0.45v0.45h-0.45zM51.9 124.3h0.45v0.45h-0.45zM43.6 126.9h0.45v0.45h-0.45zM46.6 111.4h0.45v0.45h-0.45zM42.1 118.2h0.45v0.45h-0.45zM41.4 130.9h0.45v0.45h-0.45zM60.0 99.4h0.45v0.45h-0.45zM36.2 104.5h0.45v0.45h-0.45zM50.6 116.0h0.45v0.45h-0.45zM60.2 109.6h0.45v0.45h-0.45zM60.2 109.1h0.45v0.45h-0.45zM53.6 113.9h0.45v0.45h-0.45zM52.1 99.6h0.45v0.45h-0.45zM38.6 119.4h0.45v0.45h-0.45zM48.0 111.6h0.45v0.45h-0.45zM62.4 107.9h0.45v0.45h-0.45zM50.1 100.8h0.45v0.45h-0.45zM39.0 129.9h0.45v0.45h-0.45zM38.7 120.1h0.45v0.45h-0.45zM51.3 121.8h0.45v0.45h-0.45zM43.2 106.8h0.45v0.45h-0.45zM40.2 125.6h0.45v0.45h-0.45zM37.6 105.0h0.45v0.45h-0.45zM48.6 127.4h0.45v0.45h-0.45zM45.0 112.6h0.45v0.45h-0.45zM64.4 107.5h0.45v0.45h-0.45zM47.5 107.4h0.45v0.45h-0.45zM50.2 120.5h0.45v0.45h-0.45zM42.5 114.0h0.45v0.45h-0.45zM53.5 122.1h0.45v0.45h-0.45zM60.1 111.8h0.45v0.45h-0.45zM63.8 102.2h0.45v0.45h-0.45zM51.1 109.8h0.45v0.45h-0.45zM46.2 104.5h0.45v0.45h-0.45zM63.3 108.8h0.45v0.45h-0.45zM44.3 102.3h0.45v0.45h-0.45zM40.3 107.7h0.45v0.45h-0.45zM55.4 101.8h0.45v0.45h-0.45zM52.8 101.2h0.45v0.45h-0.45zM39.3 116.1h0.45v0.45h-0.45zM65.9 103.9h0.45v0.45h-0.45zM44.3 102.4h0.45v0.45h-0.45zM60.4 102.9h0.45v0.45h-0.45zM41.5 122.2h0.45v0.45h-0.45zM59.8 106.0h0.45v0.45h-0.45zM49.3 127.1h0.45v0.45h-0.45zM52.2 119.4h0.45v0.45h-0.45zM48.8 128.1h0.45v0.45h-0.45zM55.6 102.3h0.45v0.45h-0.45zM61.4 105.7h0.45v0.45h-0.45zM59.9 114.5h0.45v0.45h-0.45zM54.7 102.3h0.45v0.45h-0.45zM54.4 103.6h0.45v0.45h-0.45zM61.2 99.8h0.45v0.45h-0.45zM42.4 106.2h0.45v0.45h-0.45zM55.8 107.5h0.45v0.45h-0.45zM61.3 99.0h0.45v0.45h-0.45zM50.1 121.5h0.45v0.45h-0.45zM47.0 117.6h0.45v0.45h-0.45zM48.4 122.0h0.45v0.45h-0.45zM41.4 113.6h0.45v0.45h-0.45zM49.4 125.9h0.45v0.45h-0.45zM59.9 109.8h0.45v0.45h-0.45zM55.1 117.0h0.45v0.45h-0.45zM37.2 108.3h0.45v0.45h-0.45zM58.6 103.8h0.45v0.45h-0.45zM55.7 114.0h0.45v0.45h-0.45zM65.3 106.7h0.45v0.45h-0.45zM36.4 124.3h0.45v0.45h-0.45zM52.0 105.8h0.45v0.45h-0.45zM42.5 113.9h0.45v0.45h-0.45z" fill="#a08060" opacity="0.65"/>
<path d="M37.8,103.6 C40,102 48,102 55,101.6 C60,101.2 64,100.4 65.8,100.8 C67,101.3 66.5,103 62.7,108.1 L58.2,115.7 L52.9,122.5 L47.6,127.8 C45,129.6 42,129.8 40.2,128.6 C38.6,127 38.2,124 37.9,120 L37.6,110 Z" fill="#1018c8" filter="url(#b05)"/>
<path d="M38.6,104.2 C41,103 48,102.8 55,102.4 C60,102 63.5,101.4 65,101.8 C65.5,102.5 64.5,104 62,108 L57.5,115.3 L52.3,121.9 L47.2,127 C45,128.6 42.3,128.8 40.8,127.8 C39.4,126.4 39,123.6 38.8,120 L38.5,110 Z" fill="#1f3cf0" filter="url(#b05)"/>
<path d="M47,104.5 C54,103.3 60,102.6 64,102.6 C63,105.5 58.5,111.5 54.5,117 C51,115 47,110 47,104.5 Z" fill="#3c8cff" filter="url(#b1)"/>
<path d="M52,105 C56,104.2 59.5,103.8 61.5,104 C60,106.5 57.5,110 55,113 C53,111 52,108 52,105 Z" fill="#60c8ff" filter="url(#b1)"/>
<ellipse cx="46.8" cy="116" rx="8.6" ry="11.2" transform="rotate(22 46.8 116)" fill="#3c8cff" filter="url(#b1)"/>
<ellipse cx="46.6" cy="116" rx="7.4" ry="9.8" transform="rotate(22 46.6 116)" fill="#40e0f0" filter="url(#b05)"/>
<ellipse cx="46.4" cy="115.9" rx="5.6" ry="7.6" transform="rotate(22 46.4 115.9)" fill="#90e850" filter="url(#b05)"/>
<ellipse cx="46.2" cy="115.8" rx="3.5" ry="4.8" transform="rotate(22 46.2 115.8)" fill="#f0e030" filter="url(#b05)"/>
<ellipse cx="46.1" cy="115.8" rx="2.2" ry="3" transform="rotate(22 46.1 115.8)" fill="#f08020" filter="url(#b05)"/>
<ellipse cx="46" cy="115.8" rx="1.3" ry="1.9" transform="rotate(22 46 115.8)" fill="#d02010" filter="url(#b05)"/>
<path d="M50.7,101.3 L64.8,99.6 L67.2,103.6 L56,118.7 Z" fill="none" stroke="#e05050" stroke-width="0.45"/>
<path d="M62,96.6 L66.8,99.8 L68.6,103.9 L60.4,115.2" fill="none" stroke="#e8b080" stroke-width="0.4"/>
<rect x="26.3" y="80" width="62.10000000000001" height="62.5" fill="none" stroke="#666" stroke-width="0.6"/>
<path d="M27.8 142.5v-0.9M29.4 142.5v-0.9M31.0 142.5v-0.9M32.6 142.5v-0.9M34.2 142.5v-0.9M35.8 142.5v-0.9M37.4 142.5v-0.9M39.0 142.5v-0.9M40.6 142.5v-0.9M42.2 142.5v-0.9M43.8 142.5v-0.9M45.4 142.5v-0.9M47.0 142.5v-0.9M48.6 142.5v-0.9M50.2 142.5v-0.9M51.8 142.5v-0.9M53.4 142.5v-0.9M55.0 142.5v-0.9M56.6 142.5v-0.9M58.2 142.5v-0.9M59.8 142.5v-0.9M61.4 142.5v-0.9M63.0 142.5v-0.9M64.6 142.5v-0.9M66.2 142.5v-0.9M67.8 142.5v-0.9M69.4 142.5v-0.9M71.0 142.5v-0.9M72.6 142.5v-0.9M74.2 142.5v-0.9M75.8 142.5v-0.9M77.4 142.5v-0.9M79.0 142.5v-0.9M80.6 142.5v-0.9M82.2 142.5v-0.9M83.8 142.5v-0.9M85.4 142.5v-0.9M87.0 142.5v-0.9M26.3 81.5h0.9M26.3 83.1h0.9M26.3 84.7h0.9M26.3 86.3h0.9M26.3 87.9h0.9M26.3 89.5h0.9M26.3 91.1h0.9M26.3 92.7h0.9M26.3 94.3h0.9M26.3 95.9h0.9M26.3 97.5h0.9M26.3 99.1h0.9M26.3 100.7h0.9M26.3 102.3h0.9M26.3 103.9h0.9M26.3 105.5h0.9M26.3 107.1h0.9M26.3 108.7h0.9M26.3 110.3h0.9M26.3 111.9h0.9M26.3 113.5h0.9M26.3 115.1h0.9M26.3 116.7h0.9M26.3 118.3h0.9M26.3 119.9h0.9M26.3 121.5h0.9M26.3 123.1h0.9M26.3 124.7h0.9M26.3 126.3h0.9M26.3 127.9h0.9M26.3 129.5h0.9M26.3 131.1h0.9M26.3 132.7h0.9M26.3 134.3h0.9M26.3 135.9h0.9M26.3 137.5h0.9M26.3 139.1h0.9M26.3 140.7h0.9" stroke="#888" stroke-width="0.35" fill="none"/>
<line x1="25.0" y1="85.2" x2="26.3" y2="85.2" stroke="#666" stroke-width="0.4"/>
<text x="24.400000000000002" y="85.2" font-size="2.9" text-anchor="middle" fill="#333" font-weight="bold" stroke="#333" stroke-width="0.12" transform="rotate(-90 24.400000000000002 85.2)" >10<tspan dy="-0.9" font-size="1.9">5</tspan></text>
<line x1="25.0" y1="101" x2="26.3" y2="101" stroke="#666" stroke-width="0.4"/>
<text x="24.400000000000002" y="101" font-size="2.9" text-anchor="middle" fill="#333" font-weight="bold" stroke="#333" stroke-width="0.12" transform="rotate(-90 24.400000000000002 101)" >10<tspan dy="-0.9" font-size="1.9">4</tspan></text>
<line x1="25.0" y1="117" x2="26.3" y2="117" stroke="#666" stroke-width="0.4"/>
<text x="24.400000000000002" y="117" font-size="2.9" text-anchor="middle" fill="#333" font-weight="bold" stroke="#333" stroke-width="0.12" transform="rotate(-90 24.400000000000002 117)" >10<tspan dy="-0.9" font-size="1.9">3</tspan></text>
<line x1="25.0" y1="128.7" x2="26.3" y2="128.7" stroke="#666" stroke-width="0.4"/>
<text x="24.400000000000002" y="128.7" font-size="2.9" text-anchor="middle" fill="#333" font-weight="bold" stroke="#333" stroke-width="0.12" transform="rotate(-90 24.400000000000002 128.7)" >0</text>
<line x1="46" y1="142.5" x2="46" y2="143.8" stroke="#666" stroke-width="0.4"/>
<text x="46" y="148.2" font-size="2.9" text-anchor="middle" fill="#333" font-weight="bold" stroke="#333" stroke-width="0.12" >0</text>
<line x1="52.5" y1="142.5" x2="52.5" y2="143.8" stroke="#666" stroke-width="0.4"/>
<text x="52.5" y="148.2" font-size="2.9" text-anchor="middle" fill="#333" font-weight="bold" stroke="#333" stroke-width="0.12" >10<tspan dy="-0.9" font-size="1.9">3</tspan></text>
<line x1="67" y1="142.5" x2="67" y2="143.8" stroke="#666" stroke-width="0.4"/>
<text x="67" y="148.2" font-size="2.9" text-anchor="middle" fill="#333" font-weight="bold" stroke="#333" stroke-width="0.12" >10<tspan dy="-0.9" font-size="1.9">4</tspan></text>
<line x1="81.5" y1="142.5" x2="81.5" y2="143.8" stroke="#666" stroke-width="0.4"/>
<text x="81.5" y="148.2" font-size="2.9" text-anchor="middle" fill="#333" font-weight="bold" stroke="#333" stroke-width="0.12" >10<tspan dy="-0.9" font-size="1.9">5</tspan></text>
<text x="17.3" y="112" font-size="2.9" text-anchor="middle" fill="#222" font-weight="bold" stroke="#222" stroke-width="0.12" transform="rotate(-90 17.3 112)" >CD24</text>
<text x="55.3" y="152.1" font-size="2.9" text-anchor="middle" fill="#222" font-weight="bold" stroke="#222" stroke-width="0.12" >CD38</text>
<text x="69" y="111.1" font-size="5.6" text-anchor="start" fill="#c84848" font-weight="normal" >9.82</text>
<text x="40" y="138.6" font-size="5.6" text-anchor="start" fill="#c84848" font-weight="normal" >88.1</text>
<text x="59.1" y="94.8" font-size="3.5" text-anchor="start" fill="#111" font-weight="bold" stroke="#111" stroke-width="0.15" textLength="19.9" lengthAdjust="spacingAndGlyphs" >Transitional</text>
<line x1="52.2" y1="129.6" x2="96.5" y2="129.6" stroke="#000" stroke-width="1.15"/>
<path d="M94.4,127.5 L99,129.6 L94.4,131.7 Z" fill="#000"/>
<path d="M106.9,81.8 L163.4,81.8 L163.4,141 L106.9,141 Z M106.9,120.3 L133.8,120.3 M133.8,81.8 L133.8,141 M133.8,120.3 L163.4,107.3" fill="none" stroke="#e05050" stroke-width="0.45"/>
<path d="M140.5 115.9h0.45v0.45h-0.45zM154.5 105.8h0.45v0.45h-0.45zM132.8 121.8h0.45v0.45h-0.45zM140.1 107.5h0.45v0.45h-0.45zM136.5 106.2h0.45v0.45h-0.45zM126.0 119.2h0.45v0.45h-0.45zM158.3 121.6h0.45v0.45h-0.45zM146.7 106.5h0.45v0.45h-0.45zM150.9 104.7h0.45v0.45h-0.45zM131.5 134.2h0.45v0.45h-0.45zM133.6 134.1h0.45v0.45h-0.45zM146.0 124.7h0.45v0.45h-0.45zM146.4 99.7h0.45v0.45h-0.45zM150.2 103.1h0.45v0.45h-0.45zM121.1 107.8h0.45v0.45h-0.45zM119.1 108.6h0.45v0.45h-0.45zM133.9 94.7h0.45v0.45h-0.45zM128.2 118.7h0.45v0.45h-0.45zM140.2 110.2h0.45v0.45h-0.45zM136.2 97.8h0.45v0.45h-0.45zM149.0 119.9h0.45v0.45h-0.45zM146.5 109.5h0.45v0.45h-0.45zM161.1 107.9h0.45v0.45h-0.45zM127.6 108.1h0.45v0.45h-0.45zM152.5 132.3h0.45v0.45h-0.45zM156.4 112.0h0.45v0.45h-0.45zM138.5 129.5h0.45v0.45h-0.45zM150.1 126.7h0.45v0.45h-0.45zM126.4 118.2h0.45v0.45h-0.45zM151.4 102.2h0.45v0.45h-0.45zM127.7 128.2h0.45v0.45h-0.45zM143.8 109.6h0.45v0.45h-0.45zM140.1 103.1h0.45v0.45h-0.45zM129.5 96.6h0.45v0.45h-0.45zM136.4 98.3h0.45v0.45h-0.45zM135.0 97.5h0.45v0.45h-0.45zM130.9 102.0h0.45v0.45h-0.45zM139.2 132.0h0.45v0.45h-0.45zM144.3 125.6h0.45v0.45h-0.45zM150.8 114.8h0.45v0.45h-0.45zM124.5 114.2h0.45v0.45h-0.45zM133.6 132.0h0.45v0.45h-0.45zM127.4 97.7h0.45v0.45h-0.45zM147.0 118.1h0.45v0.45h-0.45zM120.9 106.8h0.45v0.45h-0.45zM138.3 127.4h0.45v0.45h-0.45zM153.2 129.6h0.45v0.45h-0.45zM142.3 132.3h0.45v0.45h-0.45zM139.4 104.4h0.45v0.45h-0.45zM124.7 127.8h0.45v0.45h-0.45zM147.4 118.5h0.45v0.45h-0.45zM162.0 119.2h0.45v0.45h-0.45zM132.3 121.9h0.45v0.45h-0.45zM160.5 109.9h0.45v0.45h-0.45zM123.5 113.8h0.45v0.45h-0.45zM153.2 113.1h0.45v0.45h-0.45zM130.5 125.0h0.45v0.45h-0.45zM123.0 120.9h0.45v0.45h-0.45zM134.6 118.3h0.45v0.45h-0.45zM141.1 104.0h0.45v0.45h-0.45zM127.6 127.3h0.45v0.45h-0.45zM138.8 104.2h0.45v0.45h-0.45zM144.9 125.0h0.45v0.45h-0.45zM122.5 111.7h0.45v0.45h-0.45zM125.3 125.0h0.45v0.45h-0.45zM120.5 127.8h0.45v0.45h-0.45zM143.4 114.2h0.45v0.45h-0.45zM142.4 104.0h0.45v0.45h-0.45zM138.6 99.3h0.45v0.45h-0.45zM134.4 117.6h0.45v0.45h-0.45zM145.7 105.9h0.45v0.45h-0.45zM145.9 125.7h0.45v0.45h-0.45zM140.8 99.3h0.45v0.45h-0.45zM155.0 117.1h0.45v0.45h-0.45zM138.1 118.2h0.45v0.45h-0.45zM141.2 100.9h0.45v0.45h-0.45zM120.1 104.6h0.45v0.45h-0.45zM124.8 108.1h0.45v0.45h-0.45zM145.9 108.8h0.45v0.45h-0.45zM161.7 106.0h0.45v0.45h-0.45zM142.9 126.7h0.45v0.45h-0.45zM138.2 106.5h0.45v0.45h-0.45zM159.5 109.3h0.45v0.45h-0.45zM134.9 126.2h0.45v0.45h-0.45zM160.9 116.2h0.45v0.45h-0.45zM155.5 132.7h0.45v0.45h-0.45zM143.6 102.0h0.45v0.45h-0.45zM124.1 119.3h0.45v0.45h-0.45zM149.4 117.7h0.45v0.45h-0.45zM132.3 94.1h0.45v0.45h-0.45zM129.2 100.9h0.45v0.45h-0.45zM154.7 114.7h0.45v0.45h-0.45zM127.4 113.8h0.45v0.45h-0.45zM122.5 102.3h0.45v0.45h-0.45zM144.0 130.4h0.45v0.45h-0.45zM145.6 123.8h0.45v0.45h-0.45zM160.0 119.4h0.45v0.45h-0.45zM129.6 127.6h0.45v0.45h-0.45zM149.6 130.4h0.45v0.45h-0.45zM127.4 128.0h0.45v0.45h-0.45zM139.9 101.5h0.45v0.45h-0.45zM129.8 96.3h0.45v0.45h-0.45zM146.7 102.8h0.45v0.45h-0.45zM129.6 107.2h0.45v0.45h-0.45zM135.9 106.1h0.45v0.45h-0.45zM140.1 118.8h0.45v0.45h-0.45zM157.0 119.3h0.45v0.45h-0.45zM156.4 129.9h0.45v0.45h-0.45zM121.3 114.5h0.45v0.45h-0.45zM127.3 107.6h0.45v0.45h-0.45zM142.1 114.9h0.45v0.45h-0.45zM152.6 125.2h0.45v0.45h-0.45zM128.2 116.6h0.45v0.45h-0.45zM139.5 111.1h0.45v0.45h-0.45zM150.8 122.7h0.45v0.45h-0.45zM150.0 108.5h0.45v0.45h-0.45zM122.2 117.1h0.45v0.45h-0.45zM129.8 105.3h0.45v0.45h-0.45zM123.0 95.2h0.45v0.45h-0.45zM138.3 133.3h0.45v0.45h-0.45zM145.8 102.9h0.45v0.45h-0.45zM155.7 108.4h0.45v0.45h-0.45zM138.6 113.4h0.45v0.45h-0.45zM159.6 117.0h0.45v0.45h-0.45zM129.5 131.0h0.45v0.45h-0.45zM137.3 123.4h0.45v0.45h-0.45zM160.4 125.2h0.45v0.45h-0.45zM124.0 127.2h0.45v0.45h-0.45zM135.3 99.6h0.45v0.45h-0.45zM140.8 133.2h0.45v0.45h-0.45zM127.9 131.9h0.45v0.45h-0.45zM127.8 98.2h0.45v0.45h-0.45zM128.2 126.4h0.45v0.45h-0.45zM137.8 109.7h0.45v0.45h-0.45zM153.1 102.8h0.45v0.45h-0.45zM141.6 101.4h0.45v0.45h-0.45zM130.0 98.4h0.45v0.45h-0.45zM136.0 110.7h0.45v0.45h-0.45zM122.9 127.8h0.45v0.45h-0.45zM133.3 120.9h0.45v0.45h-0.45zM127.0 93.8h0.45v0.45h-0.45zM147.0 106.5h0.45v0.45h-0.45zM161.6 127.2h0.45v0.45h-0.45zM147.9 122.2h0.45v0.45h-0.45zM132.8 131.4h0.45v0.45h-0.45zM141.9 118.6h0.45v0.45h-0.45zM154.4 131.0h0.45v0.45h-0.45zM135.6 111.1h0.45v0.45h-0.45zM136.2 131.0h0.45v0.45h-0.45zM128.2 97.5h0.45v0.45h-0.45zM127.2 131.7h0.45v0.45h-0.45zM129.6 108.0h0.45v0.45h-0.45zM126.5 133.9h0.45v0.45h-0.45zM122.0 98.9h0.45v0.45h-0.45zM149.3 112.9h0.45v0.45h-0.45zM135.9 111.6h0.45v0.45h-0.45zM143.2 100.9h0.45v0.45h-0.45zM140.6 108.6h0.45v0.45h-0.45zM136.9 105.4h0.45v0.45h-0.45zM119.1 100.6h0.45v0.45h-0.45zM151.1 108.6h0.45v0.45h-0.45zM124.0 96.6h0.45v0.45h-0.45zM160.4 114.5h0.45v0.45h-0.45zM121.3 105.7h0.45v0.45h-0.45zM145.7 116.7h0.45v0.45h-0.45zM141.5 116.9h0.45v0.45h-0.45zM140.1 112.3h0.45v0.45h-0.45zM131.6 128.7h0.45v0.45h-0.45zM155.6 103.6h0.45v0.45h-0.45zM156.6 123.2h0.45v0.45h-0.45zM155.6 108.0h0.45v0.45h-0.45zM126.8 108.5h0.45v0.45h-0.45zM132.8 102.3h0.45v0.45h-0.45zM146.6 112.0h0.45v0.45h-0.45zM139.4 113.4h0.45v0.45h-0.45zM140.5 132.7h0.45v0.45h-0.45zM148.5 126.6h0.45v0.45h-0.45zM129.6 113.9h0.45v0.45h-0.45zM150.6 121.8h0.45v0.45h-0.45zM122.9 126.8h0.45v0.45h-0.45zM136.0 101.5h0.45v0.45h-0.45zM138.0 99.2h0.45v0.45h-0.45zM151.3 109.8h0.45v0.45h-0.45zM155.3 112.2h0.45v0.45h-0.45zM140.3 102.1h0.45v0.45h-0.45zM136.5 130.4h0.45v0.45h-0.45zM128.6 109.2h0.45v0.45h-0.45zM141.6 105.2h0.45v0.45h-0.45zM141.6 132.1h0.45v0.45h-0.45zM136.7 130.6h0.45v0.45h-0.45zM154.6 109.2h0.45v0.45h-0.45zM152.7 124.5h0.45v0.45h-0.45zM140.4 127.2h0.45v0.45h-0.45zM121.0 101.7h0.45v0.45h-0.45zM153.6 109.8h0.45v0.45h-0.45zM132.6 123.9h0.45v0.45h-0.45zM126.7 102.7h0.45v0.45h-0.45zM124.3 131.0h0.45v0.45h-0.45zM129.4 108.6h0.45v0.45h-0.45zM143.2 99.9h0.45v0.45h-0.45zM158.4 126.4h0.45v0.45h-0.45zM123.1 98.9h0.45v0.45h-0.45zM135.5 128.3h0.45v0.45h-0.45zM131.8 115.2h0.45v0.45h-0.45zM137.4 122.9h0.45v0.45h-0.45zM151.8 126.6h0.45v0.45h-0.45zM128.3 118.8h0.45v0.45h-0.45zM126.7 133.7h0.45v0.45h-0.45zM131.1 115.5h0.45v0.45h-0.45zM129.4 116.3h0.45v0.45h-0.45zM131.9 94.3h0.45v0.45h-0.45zM128.9 98.1h0.45v0.45h-0.45zM150.0 127.2h0.45v0.45h-0.45zM130.0 116.2h0.45v0.45h-0.45zM158.6 129.1h0.45v0.45h-0.45zM139.3 121.7h0.45v0.45h-0.45zM145.2 125.0h0.45v0.45h-0.45zM135.9 132.8h0.45v0.45h-0.45zM130.6 104.5h0.45v0.45h-0.45zM155.3 105.7h0.45v0.45h-0.45zM162.3 117.6h0.45v0.45h-0.45zM121.8 98.2h0.45v0.45h-0.45zM122.8 115.5h0.45v0.45h-0.45zM149.9 117.1h0.45v0.45h-0.45zM152.1 128.9h0.45v0.45h-0.45zM141.1 114.1h0.45v0.45h-0.45zM147.3 122.3h0.45v0.45h-0.45zM157.5 118.8h0.45v0.45h-0.45zM136.6 119.9h0.45v0.45h-0.45zM154.1 117.7h0.45v0.45h-0.45zM132.6 113.9h0.45v0.45h-0.45zM142.3 100.4h0.45v0.45h-0.45zM132.4 130.7h0.45v0.45h-0.45zM137.7 117.6h0.45v0.45h-0.45zM120.8 112.5h0.45v0.45h-0.45zM143.9 115.1h0.45v0.45h-0.45zM134.0 94.1h0.45v0.45h-0.45zM121.0 97.5h0.45v0.45h-0.45zM151.9 109.2h0.45v0.45h-0.45zM158.8 124.2h0.45v0.45h-0.45zM140.2 119.5h0.45v0.45h-0.45zM150.8 129.3h0.45v0.45h-0.45zM122.1 110.8h0.45v0.45h-0.45zM122.9 123.8h0.45v0.45h-0.45zM139.6 127.1h0.45v0.45h-0.45zM123.1 128.5h0.45v0.45h-0.45zM123.9 95.0h0.45v0.45h-0.45zM130.6 105.3h0.45v0.45h-0.45zM122.3 128.1h0.45v0.45h-0.45zM161.6 119.7h0.45v0.45h-0.45zM140.7 109.2h0.45v0.45h-0.45zM131.1 112.0h0.45v0.45h-0.45zM141.7 123.9h0.45v0.45h-0.45zM135.0 108.5h0.45v0.45h-0.45zM155.8 122.4h0.45v0.45h-0.45zM122.1 112.6h0.45v0.45h-0.45zM133.5 102.9h0.45v0.45h-0.45zM142.4 102.0h0.45v0.45h-0.45zM142.1 99.1h0.45v0.45h-0.45zM130.6 100.3h0.45v0.45h-0.45zM148.2 101.2h0.45v0.45h-0.45zM155.8 102.0h0.45v0.45h-0.45zM123.4 95.8h0.45v0.45h-0.45zM155.6 116.2h0.45v0.45h-0.45zM149.4 100.8h0.45v0.45h-0.45zM157.8 121.9h0.45v0.45h-0.45zM145.3 107.3h0.45v0.45h-0.45zM155.0 115.0h0.45v0.45h-0.45zM132.6 119.1h0.45v0.45h-0.45zM149.6 129.1h0.45v0.45h-0.45zM148.0 121.8h0.45v0.45h-0.45zM126.9 128.8h0.45v0.45h-0.45zM143.2 102.8h0.45v0.45h-0.45zM143.9 133.2h0.45v0.45h-0.45zM161.1 111.7h0.45v0.45h-0.45zM136.0 97.4h0.45v0.45h-0.45zM118.8 113.0h0.45v0.45h-0.45zM136.1 98.6h0.45v0.45h-0.45zM131.2 94.3h0.45v0.45h-0.45zM130.8 119.2h0.45v0.45h-0.45zM128.3 111.0h0.45v0.45h-0.45zM125.3 123.1h0.45v0.45h-0.45zM142.6 125.9h0.45v0.45h-0.45zM132.7 97.2h0.45v0.45h-0.45zM143.3 123.6h0.45v0.45h-0.45zM125.4 112.4h0.45v0.45h-0.45zM130.9 130.9h0.45v0.45h-0.45zM140.2 126.5h0.45v0.45h-0.45zM146.0 121.7h0.45v0.45h-0.45zM130.0 122.2h0.45v0.45h-0.45zM160.8 128.4h0.45v0.45h-0.45zM122.6 120.1h0.45v0.45h-0.45zM152.8 118.9h0.45v0.45h-0.45zM122.1 103.3h0.45v0.45h-0.45zM142.9 102.9h0.45v0.45h-0.45zM162.2 124.1h0.45v0.45h-0.45zM140.7 107.2h0.45v0.45h-0.45zM155.5 132.3h0.45v0.45h-0.45zM154.9 123.6h0.45v0.45h-0.45zM140.0 116.1h0.45v0.45h-0.45zM129.7 101.7h0.45v0.45h-0.45zM139.1 117.2h0.45v0.45h-0.45zM120.9 111.3h0.45v0.45h-0.45zM136.2 131.7h0.45v0.45h-0.45zM132.0 123.6h0.45v0.45h-0.45zM157.0 130.5h0.45v0.45h-0.45zM146.6 133.7h0.45v0.45h-0.45zM130.7 124.5h0.45v0.45h-0.45zM145.1 108.5h0.45v0.45h-0.45zM133.3 129.2h0.45v0.45h-0.45zM123.2 115.1h0.45v0.45h-0.45zM137.4 118.3h0.45v0.45h-0.45zM129.3 115.1h0.45v0.45h-0.45zM127.0 94.8h0.45v0.45h-0.45zM148.3 127.6h0.45v0.45h-0.45zM142.5 133.3h0.45v0.45h-0.45zM126.6 123.7h0.45v0.45h-0.45zM140.5 119.9h0.45v0.45h-0.45zM143.3 111.8h0.45v0.45h-0.45zM151.5 125.8h0.45v0.45h-0.45zM143.7 100.8h0.45v0.45h-0.45zM123.2 114.3h0.45v0.45h-0.45zM136.1 119.4h0.45v0.45h-0.45zM121.2 116.3h0.45v0.45h-0.45zM119.3 107.9h0.45v0.45h-0.45zM151.9 103.1h0.45v0.45h-0.45zM132.8 118.0h0.45v0.45h-0.45zM126.3 116.7h0.45v0.45h-0.45zM125.1 122.3h0.45v0.45h-0.45zM135.1 117.6h0.45v0.45h-0.45zM158.4 117.4h0.45v0.45h-0.45zM146.0 123.0h0.45v0.45h-0.45zM128.8 120.7h0.45v0.45h-0.45zM136.7 104.3h0.45v0.45h-0.45zM125.0 116.0h0.45v0.45h-0.45zM132.4 105.4h0.45v0.45h-0.45zM159.3 108.5h0.45v0.45h-0.45zM143.8 133.8h0.45v0.45h-0.45zM154.6 106.3h0.45v0.45h-0.45zM127.7 101.0h0.45v0.45h-0.45zM153.2 125.2h0.45v0.45h-0.45zM119.9 127.8h0.45v0.45h-0.45zM124.3 119.9h0.45v0.45h-0.45zM149.0 101.7h0.45v0.45h-0.45zM154.2 129.5h0.45v0.45h-0.45zM130.9 113.4h0.45v0.45h-0.45zM132.5 100.3h0.45v0.45h-0.45zM150.9 104.1h0.45v0.45h-0.45zM145.2 114.5h0.45v0.45h-0.45zM129.8 96.0h0.45v0.45h-0.45zM150.5 131.9h0.45v0.45h-0.45zM155.4 131.0h0.45v0.45h-0.45zM142.3 115.7h0.45v0.45h-0.45zM146.5 115.3h0.45v0.45h-0.45zM159.7 120.6h0.45v0.45h-0.45zM123.2 95.5h0.45v0.45h-0.45zM121.9 103.6h0.45v0.45h-0.45zM136.2 119.4h0.45v0.45h-0.45zM144.5 118.9h0.45v0.45h-0.45zM153.9 109.5h0.45v0.45h-0.45zM127.2 102.0h0.45v0.45h-0.45zM122.4 100.9h0.45v0.45h-0.45zM121.9 109.0h0.45v0.45h-0.45zM144.2 124.3h0.45v0.45h-0.45zM128.5 124.6h0.45v0.45h-0.45zM156.9 116.4h0.45v0.45h-0.45zM151.8 132.5h0.45v0.45h-0.45zM130.4 105.0h0.45v0.45h-0.45zM130.0 128.7h0.45v0.45h-0.45zM140.7 99.1h0.45v0.45h-0.45zM125.1 97.9h0.45v0.45h-0.45zM135.0 134.3h0.45v0.45h-0.45zM161.1 119.4h0.45v0.45h-0.45zM132.5 117.4h0.45v0.45h-0.45zM143.1 107.0h0.45v0.45h-0.45zM132.3 120.4h0.45v0.45h-0.45zM153.9 105.9h0.45v0.45h-0.45zM129.3 114.0h0.45v0.45h-0.45zM157.1 120.3h0.45v0.45h-0.45zM129.5 95.1h0.45v0.45h-0.45zM136.7 111.7h0.45v0.45h-0.45zM143.4 115.5h0.45v0.45h-0.45zM149.6 133.8h0.45v0.45h-0.45zM123.4 129.4h0.45v0.45h-0.45zM138.6 126.4h0.45v0.45h-0.45zM135.8 102.5h0.45v0.45h-0.45zM146.7 131.0h0.45v0.45h-0.45zM122.4 95.0h0.45v0.45h-0.45zM159.1 112.0h0.45v0.45h-0.45zM160.5 113.1h0.45v0.45h-0.45zM148.6 115.5h0.45v0.45h-0.45zM124.8 113.2h0.45v0.45h-0.45zM141.7 122.8h0.45v0.45h-0.45zM127.1 108.5h0.45v0.45h-0.45zM160.1 127.1h0.45v0.45h-0.45zM130.7 117.5h0.45v0.45h-0.45zM123.3 116.6h0.45v0.45h-0.45zM148.9 130.7h0.45v0.45h-0.45zM148.7 104.4h0.45v0.45h-0.45zM149.6 101.3h0.45v0.45h-0.45zM129.1 132.2h0.45v0.45h-0.45zM153.9 121.1h0.45v0.45h-0.45zM151.9 104.1h0.45v0.45h-0.45zM136.0 131.7h0.45v0.45h-0.45zM148.1 129.3h0.45v0.45h-0.45zM123.3 99.3h0.45v0.45h-0.45zM136.8 121.7h0.45v0.45h-0.45zM156.3 125.0h0.45v0.45h-0.45zM124.6 99.5h0.45v0.45h-0.45zM156.3 128.0h0.45v0.45h-0.45zM152.4 127.1h0.45v0.45h-0.45zM130.4 98.4h0.45v0.45h-0.45zM124.0 112.6h0.45v0.45h-0.45zM139.7 104.5h0.45v0.45h-0.45zM145.0 124.7h0.45v0.45h-0.45zM133.3 111.3h0.45v0.45h-0.45zM162.4 122.3h0.45v0.45h-0.45zM141.4 115.2h0.45v0.45h-0.45zM130.3 97.1h0.45v0.45h-0.45zM140.2 128.2h0.45v0.45h-0.45zM125.4 124.1h0.45v0.45h-0.45zM128.7 123.8h0.45v0.45h-0.45zM151.5 132.6h0.45v0.45h-0.45zM125.3 99.1h0.45v0.45h-0.45zM143.8 99.7h0.45v0.45h-0.45zM120.4 118.6h0.45v0.45h-0.45zM136.4 98.2h0.45v0.45h-0.45zM157.4 123.2h0.45v0.45h-0.45zM151.9 129.1h0.45v0.45h-0.45zM138.4 103.4h0.45v0.45h-0.45zM119.5 118.9h0.45v0.45h-0.45zM153.5 107.0h0.45v0.45h-0.45zM156.3 105.9h0.45v0.45h-0.45zM148.5 125.7h0.45v0.45h-0.45zM128.4 132.8h0.45v0.45h-0.45zM132.3 123.5h0.45v0.45h-0.45zM138.7 116.2h0.45v0.45h-0.45zM138.4 100.1h0.45v0.45h-0.45zM156.4 110.2h0.45v0.45h-0.45zM155.8 110.1h0.45v0.45h-0.45zM156.0 119.3h0.45v0.45h-0.45zM129.4 120.7h0.45v0.45h-0.45zM131.1 111.3h0.45v0.45h-0.45zM130.5 108.5h0.45v0.45h-0.45zM120.0 110.0h0.45v0.45h-0.45zM123.9 94.0h0.45v0.45h-0.45zM131.7 121.8h0.45v0.45h-0.45zM139.8 131.0h0.45v0.45h-0.45zM154.1 118.7h0.45v0.45h-0.45zM119.7 121.4h0.45v0.45h-0.45zM157.1 120.4h0.45v0.45h-0.45zM150.7 131.7h0.45v0.45h-0.45zM152.8 109.2h0.45v0.45h-0.45zM130.6 101.4h0.45v0.45h-0.45zM146.8 117.7h0.45v0.45h-0.45zM150.1 121.0h0.45v0.45h-0.45zM127.7 118.7h0.45v0.45h-0.45zM155.7 130.8h0.45v0.45h-0.45zM161.4 111.6h0.45v0.45h-0.45zM127.0 133.6h0.45v0.45h-0.45zM122.5 99.9h0.45v0.45h-0.45zM150.0 132.1h0.45v0.45h-0.45zM148.9 107.0h0.45v0.45h-0.45zM149.1 106.4h0.45v0.45h-0.45zM130.0 126.8h0.45v0.45h-0.45zM147.1 122.7h0.45v0.45h-0.45zM162.1 110.6h0.45v0.45h-0.45zM131.6 98.8h0.45v0.45h-0.45zM134.0 132.5h0.45v0.45h-0.45zM142.4 134.0h0.45v0.45h-0.45zM145.0 100.8h0.45v0.45h-0.45zM146.9 131.4h0.45v0.45h-0.45zM142.0 99.9h0.45v0.45h-0.45zM154.1 105.3h0.45v0.45h-0.45zM128.1 109.9h0.45v0.45h-0.45zM128.9 132.8h0.45v0.45h-0.45zM139.0 103.7h0.45v0.45h-0.45zM138.8 111.1h0.45v0.45h-0.45zM119.5 123.5h0.45v0.45h-0.45zM126.2 129.3h0.45v0.45h-0.45zM147.3 126.9h0.45v0.45h-0.45zM145.7 108.3h0.45v0.45h-0.45zM124.8 118.4h0.45v0.45h-0.45zM130.3 105.5h0.45v0.45h-0.45zM159.3 121.9h0.45v0.45h-0.45zM145.6 123.4h0.45v0.45h-0.45zM150.2 116.4h0.45v0.45h-0.45zM129.0 116.0h0.45v0.45h-0.45zM154.8 114.6h0.45v0.45h-0.45zM126.4 114.1h0.45v0.45h-0.45zM143.5 127.8h0.45v0.45h-0.45zM140.6 99.2h0.45v0.45h-0.45zM144.8 115.5h0.45v0.45h-0.45zM151.4 110.6h0.45v0.45h-0.45zM129.7 110.0h0.45v0.45h-0.45zM156.9 107.1h0.45v0.45h-0.45zM123.9 125.2h0.45v0.45h-0.45zM146.4 127.1h0.45v0.45h-0.45zM133.0 101.2h0.45v0.45h-0.45zM131.6 114.4h0.45v0.45h-0.45zM137.4 105.6h0.45v0.45h-0.45zM145.3 106.8h0.45v0.45h-0.45zM150.8 102.1h0.45v0.45h-0.45zM130.5 128.8h0.45v0.45h-0.45zM121.1 102.2h0.45v0.45h-0.45zM134.3 133.0h0.45v0.45h-0.45zM133.3 103.1h0.45v0.45h-0.45zM119.1 100.5h0.45v0.45h-0.45zM146.1 125.1h0.45v0.45h-0.45zM155.1 106.8h0.45v0.45h-0.45zM148.6 115.0h0.45v0.45h-0.45zM130.7 115.5h0.45v0.45h-0.45zM152.8 122.1h0.45v0.45h-0.45zM155.2 125.6h0.45v0.45h-0.45zM150.4 123.8h0.45v0.45h-0.45zM133.5 100.8h0.45v0.45h-0.45zM122.1 110.8h0.45v0.45h-0.45zM150.6 114.8h0.45v0.45h-0.45zM147.6 119.5h0.45v0.45h-0.45zM146.5 126.4h0.45v0.45h-0.45zM141.4 128.5h0.45v0.45h-0.45zM127.8 114.2h0.45v0.45h-0.45zM157.5 129.7h0.45v0.45h-0.45zM123.0 119.4h0.45v0.45h-0.45zM135.0 112.3h0.45v0.45h-0.45zM140.9 104.1h0.45v0.45h-0.45zM128.2 110.4h0.45v0.45h-0.45zM144.1 120.1h0.45v0.45h-0.45zM162.4 115.2h0.45v0.45h-0.45zM137.7 108.6h0.45v0.45h-0.45zM155.8 125.1h0.45v0.45h-0.45zM148.9 133.7h0.45v0.45h-0.45zM159.2 106.1h0.45v0.45h-0.45zM147.7 126.4h0.45v0.45h-0.45zM147.0 103.4h0.45v0.45h-0.45zM119.8 113.2h0.45v0.45h-0.45zM150.5 127.8h0.45v0.45h-0.45zM151.0 101.6h0.45v0.45h-0.45zM142.3 125.3h0.45v0.45h-0.45zM147.5 130.5h0.45v0.45h-0.45zM158.6 112.7h0.45v0.45h-0.45zM152.7 103.8h0.45v0.45h-0.45zM121.6 112.4h0.45v0.45h-0.45zM129.6 121.2h0.45v0.45h-0.45zM150.4 113.1h0.45v0.45h-0.45zM126.8 104.2h0.45v0.45h-0.45zM138.1 106.3h0.45v0.45h-0.45zM144.2 129.9h0.45v0.45h-0.45zM120.9 97.5h0.45v0.45h-0.45zM146.2 108.6h0.45v0.45h-0.45zM135.1 101.1h0.45v0.45h-0.45zM150.9 116.1h0.45v0.45h-0.45zM141.5 101.5h0.45v0.45h-0.45zM123.3 111.9h0.45v0.45h-0.45zM144.1 107.3h0.45v0.45h-0.45zM126.1 125.5h0.45v0.45h-0.45zM121.1 119.1h0.45v0.45h-0.45zM155.1 115.5h0.45v0.45h-0.45zM132.9 107.8h0.45v0.45h-0.45zM141.2 121.0h0.45v0.45h-0.45zM126.3 128.8h0.45v0.45h-0.45zM137.2 108.5h0.45v0.45h-0.45zM147.1 132.0h0.45v0.45h-0.45zM140.2 124.4h0.45v0.45h-0.45zM143.9 134.1h0.45v0.45h-0.45zM148.8 116.5h0.45v0.45h-0.45zM119.2 120.0h0.45v0.45h-0.45zM155.2 111.5h0.45v0.45h-0.45zM142.6 116.2h0.45v0.45h-0.45zM144.1 109.1h0.45v0.45h-0.45zM138.4 114.1h0.45v0.45h-0.45zM134.5 98.9h0.45v0.45h-0.45zM155.8 111.0h0.45v0.45h-0.45zM120.3 103.1h0.45v0.45h-0.45zM134.6 113.3h0.45v0.45h-0.45zM123.5 95.5h0.45v0.45h-0.45zM139.7 122.7h0.45v0.45h-0.45zM123.7 103.8h0.45v0.45h-0.45zM122.4 114.1h0.45v0.45h-0.45zM120.1 111.4h0.45v0.45h-0.45zM124.3 111.1h0.45v0.45h-0.45zM132.3 109.6h0.45v0.45h-0.45zM148.6 108.8h0.45v0.45h-0.45zM124.4 107.7h0.45v0.45h-0.45zM126.2 134.3h0.45v0.45h-0.45zM141.2 127.2h0.45v0.45h-0.45zM133.4 129.8h0.45v0.45h-0.45zM160.4 114.2h0.45v0.45h-0.45zM138.8 129.7h0.45v0.45h-0.45zM137.0 126.7h0.45v0.45h-0.45zM131.6 125.0h0.45v0.45h-0.45zM148.0 127.2h0.45v0.45h-0.45zM133.4 98.1h0.45v0.45h-0.45zM126.5 96.4h0.45v0.45h-0.45zM131.2 122.5h0.45v0.45h-0.45zM119.4 121.9h0.45v0.45h-0.45zM148.5 115.8h0.45v0.45h-0.45zM159.6 126.8h0.45v0.45h-0.45zM131.5 132.9h0.45v0.45h-0.45zM137.0 119.4h0.45v0.45h-0.45zM144.6 103.1h0.45v0.45h-0.45zM138.8 126.4h0.45v0.45h-0.45zM162.4 113.3h0.45v0.45h-0.45zM121.2 103.1h0.45v0.45h-0.45zM121.7 129.2h0.45v0.45h-0.45zM138.0 120.9h0.45v0.45h-0.45zM146.6 119.4h0.45v0.45h-0.45zM143.1 132.1h0.45v0.45h-0.45zM153.0 107.3h0.45v0.45h-0.45zM141.6 134.1h0.45v0.45h-0.45zM131.8 97.3h0.45v0.45h-0.45zM137.9 122.3h0.45v0.45h-0.45zM128.2 132.1h0.45v0.45h-0.45zM153.3 110.1h0.45v0.45h-0.45zM159.3 125.6h0.45v0.45h-0.45zM154.9 113.1h0.45v0.45h-0.45zM146.8 125.7h0.45v0.45h-0.45zM161.1 118.7h0.45v0.45h-0.45zM129.7 120.4h0.45v0.45h-0.45zM141.6 123.2h0.45v0.45h-0.45zM153.0 129.5h0.45v0.45h-0.45zM140.7 105.9h0.45v0.45h-0.45zM145.1 121.6h0.45v0.45h-0.45zM153.5 131.0h0.45v0.45h-0.45zM129.5 102.3h0.45v0.45h-0.45zM158.0 107.6h0.45v0.45h-0.45zM131.4 97.0h0.45v0.45h-0.45zM144.2 126.7h0.45v0.45h-0.45zM156.1 109.1h0.45v0.45h-0.45zM126.9 134.4h0.45v0.45h-0.45zM142.5 132.9h0.45v0.45h-0.45zM162.0 115.9h0.45v0.45h-0.45zM152.1 109.6h0.45v0.45h-0.45zM121.3 114.1h0.45v0.45h-0.45zM146.1 105.2h0.45v0.45h-0.45zM128.2 99.6h0.45v0.45h-0.45zM139.3 105.9h0.45v0.45h-0.45zM129.2 111.3h0.45v0.45h-0.45zM154.8 103.1h0.45v0.45h-0.45zM152.6 101.1h0.45v0.45h-0.45zM119.5 109.0h0.45v0.45h-0.45zM129.6 113.9h0.45v0.45h-0.45zM152.3 133.4h0.45v0.45h-0.45zM153.7 123.7h0.45v0.45h-0.45zM138.6 133.8h0.45v0.45h-0.45zM143.9 100.4h0.45v0.45h-0.45zM145.9 104.2h0.45v0.45h-0.45zM132.5 117.5h0.45v0.45h-0.45zM150.5 123.0h0.45v0.45h-0.45zM133.3 93.6h0.45v0.45h-0.45z" fill="#7890b8" opacity="0.6"/>
<path d="M121.4,103.1 C122,99.5 124.5,95.8 127.8,95 C131,94.6 133.5,95.5 134.5,98 L135,101.3 C137.5,102.5 140,102.8 142.3,103.1 C146,103.8 149,104.5 151.3,105.8 C154.5,107.5 157,110 157.7,112.2 C158.8,115 158.9,117.5 158.6,119.4 C158.4,122.5 158.3,125 157.7,126.7 C156,129 154,130 151.3,130.3 C146,131.2 141,132.2 136.8,132.5 C133,132.6 130,132.2 127.8,131.2 C125,129.8 123.2,127.5 122.3,124.9 C121.5,121 121.3,117.5 121.4,114 Z" fill="#1018c8" filter="url(#b05)"/>
<path d="M122.4,103.5 C123,100.3 125,96.8 127.9,96 C130.8,95.6 133,96.4 133.8,98.6 L134.4,102.2 C137,103.4 140,103.8 142.2,104.1 C145.8,104.8 148.6,105.5 150.8,106.7 C153.8,108.3 156,110.6 156.7,112.6 C157.7,115.2 157.9,117.6 157.6,119.4 C157.4,122.3 157.3,124.7 156.8,126.2 C155.3,128.2 153.5,129.1 151.1,129.4 C146,130.2 141,131.2 136.8,131.5 C133.2,131.6 130.3,131.2 128.2,130.3 C125.7,129 124.1,127 123.3,124.6 C122.5,121 122.3,117.5 122.4,114 Z" fill="#1f3cf0" filter="url(#b05)"/>
<ellipse cx="130.2" cy="106.5" rx="4" ry="8.5" transform="rotate(8 130.2 106.5)" fill="#3c8cff" filter="url(#b1)"/>
<ellipse cx="130.4" cy="106" rx="2.2" ry="5.5" transform="rotate(8 130.4 106)" fill="#80e0ff" filter="url(#b1)"/>
<ellipse cx="150" cy="112" rx="5" ry="3" fill="#3060f8" filter="url(#b1)"/>
<ellipse cx="145" cy="125.3" rx="13.5" ry="6" fill="#3c8cff" filter="url(#b1)"/>
<ellipse cx="145.5" cy="125.5" rx="12" ry="5" fill="#40e0f0" filter="url(#b05)"/>
<ellipse cx="146.5" cy="125.8" rx="9" ry="4" fill="#90e850" filter="url(#b05)"/>
<ellipse cx="147.5" cy="126" rx="5.8" ry="2.8" fill="#f0e030" filter="url(#b05)"/>
<ellipse cx="148.6" cy="126.3" rx="2.6" ry="1.4" fill="#d02010" filter="url(#b05)"/>
<path d="M122,121 L134.1,120.3 L157,109.5" fill="none" stroke="#e05050" stroke-width="0.45" opacity="0.6"/>
<rect x="106.2" y="80.7" width="59.8" height="60.8" fill="none" stroke="#666" stroke-width="0.6"/>
<path d="M107.7 141.5v-0.9M109.3 141.5v-0.9M110.9 141.5v-0.9M112.5 141.5v-0.9M114.1 141.5v-0.9M115.7 141.5v-0.9M117.3 141.5v-0.9M118.9 141.5v-0.9M120.5 141.5v-0.9M122.1 141.5v-0.9M123.7 141.5v-0.9M125.3 141.5v-0.9M126.9 141.5v-0.9M128.5 141.5v-0.9M130.1 141.5v-0.9M131.7 141.5v-0.9M133.3 141.5v-0.9M134.9 141.5v-0.9M136.5 141.5v-0.9M138.1 141.5v-0.9M139.7 141.5v-0.9M141.3 141.5v-0.9M142.9 141.5v-0.9M144.5 141.5v-0.9M146.1 141.5v-0.9M147.7 141.5v-0.9M149.3 141.5v-0.9M150.9 141.5v-0.9M152.5 141.5v-0.9M154.1 141.5v-0.9M155.7 141.5v-0.9M157.3 141.5v-0.9M158.9 141.5v-0.9M160.5 141.5v-0.9M162.1 141.5v-0.9M163.7 141.5v-0.9M165.3 141.5v-0.9M106.2 82.2h0.9M106.2 83.8h0.9M106.2 85.4h0.9M106.2 87.0h0.9M106.2 88.6h0.9M106.2 90.2h0.9M106.2 91.8h0.9M106.2 93.4h0.9M106.2 95.0h0.9M106.2 96.6h0.9M106.2 98.2h0.9M106.2 99.8h0.9M106.2 101.4h0.9M106.2 103.0h0.9M106.2 104.6h0.9M106.2 106.2h0.9M106.2 107.8h0.9M106.2 109.4h0.9M106.2 111.0h0.9M106.2 112.6h0.9M106.2 114.2h0.9M106.2 115.8h0.9M106.2 117.4h0.9M106.2 119.0h0.9M106.2 120.6h0.9M106.2 122.2h0.9M106.2 123.8h0.9M106.2 125.4h0.9M106.2 127.0h0.9M106.2 128.6h0.9M106.2 130.2h0.9M106.2 131.8h0.9M106.2 133.4h0.9M106.2 135.0h0.9M106.2 136.6h0.9M106.2 138.2h0.9M106.2 139.8h0.9" stroke="#888" stroke-width="0.35" fill="none"/>
<line x1="104.9" y1="84.5" x2="106.2" y2="84.5" stroke="#666" stroke-width="0.4"/>
<text x="104.3" y="84.5" font-size="2.9" text-anchor="middle" fill="#333" font-weight="bold" stroke="#333" stroke-width="0.12" transform="rotate(-90 104.3 84.5)" >10<tspan dy="-0.9" font-size="1.9">5</tspan></text>
<line x1="104.9" y1="98.8" x2="106.2" y2="98.8" stroke="#666" stroke-width="0.4"/>
<text x="104.3" y="98.8" font-size="2.9" text-anchor="middle" fill="#333" font-weight="bold" stroke="#333" stroke-width="0.12" transform="rotate(-90 104.3 98.8)" >10<tspan dy="-0.9" font-size="1.9">4</tspan></text>
<line x1="104.9" y1="113.5" x2="106.2" y2="113.5" stroke="#666" stroke-width="0.4"/>
<text x="104.3" y="113.5" font-size="2.9" text-anchor="middle" fill="#333" font-weight="bold" stroke="#333" stroke-width="0.12" transform="rotate(-90 104.3 113.5)" >10<tspan dy="-0.9" font-size="1.9">3</tspan></text>
<line x1="104.9" y1="127.1" x2="106.2" y2="127.1" stroke="#666" stroke-width="0.4"/>
<text x="104.3" y="127.1" font-size="2.9" text-anchor="middle" fill="#333" font-weight="bold" stroke="#333" stroke-width="0.12" transform="rotate(-90 104.3 127.1)" >0</text>
<line x1="112.5" y1="141.5" x2="112.5" y2="142.8" stroke="#666" stroke-width="0.4"/>
<text x="112.5" y="147.2" font-size="2.9" text-anchor="middle" fill="#333" font-weight="bold" stroke="#333" stroke-width="0.12" >0</text>
<line x1="119" y1="141.5" x2="119" y2="142.8" stroke="#666" stroke-width="0.4"/>
<text x="119" y="147.2" font-size="2.9" text-anchor="middle" fill="#333" font-weight="bold" stroke="#333" stroke-width="0.12" >10<tspan dy="-0.9" font-size="1.9">3</tspan></text>
<line x1="134" y1="141.5" x2="134" y2="142.8" stroke="#666" stroke-width="0.4"/>
<text x="134" y="147.2" font-size="2.9" text-anchor="middle" fill="#333" font-weight="bold" stroke="#333" stroke-width="0.12" >10<tspan dy="-0.9" font-size="1.9">4</tspan></text>
<line x1="149" y1="141.5" x2="149" y2="142.8" stroke="#666" stroke-width="0.4"/>
<text x="149" y="147.2" font-size="2.9" text-anchor="middle" fill="#333" font-weight="bold" stroke="#333" stroke-width="0.12" >10<tspan dy="-0.9" font-size="1.9">5</tspan></text>
<text x="99.4" y="112.4" font-size="2.9" text-anchor="middle" fill="#222" font-weight="bold" stroke="#222" stroke-width="0.12" transform="rotate(-90 99.4 112.4)" >CD27</text>
<text x="135.8" y="151.7" font-size="2.9" text-anchor="middle" fill="#222" font-weight="bold" stroke="#222" stroke-width="0.12" >IgD</text>
<text x="107.9" y="87.1" font-size="5.6" text-anchor="start" fill="#c84848" font-weight="normal" >9.71</text>
<text x="156.4" y="87.1" font-size="5.6" text-anchor="start" fill="#c84848" font-weight="normal" >6.19</text>
<text x="107.5" y="139.9" font-size="5.6" text-anchor="start" fill="#c84848" font-weight="normal" >3.12</text>
<text x="156.2" y="139.9" font-size="5.6" text-anchor="start" fill="#c84848" font-weight="normal" >80.3</text>
<text x="111.4" y="93.8" font-size="3.0" text-anchor="start" fill="#111" font-weight="bold" stroke="#111" stroke-width="0.15" textLength="4.6" lengthAdjust="spacingAndGlyphs" >SW</text>
<text x="145.9" y="93.1" font-size="3.0" text-anchor="start" fill="#111" font-weight="bold" stroke="#111" stroke-width="0.15" textLength="11.8" lengthAdjust="spacingAndGlyphs" >UNSW</text>
<text x="109.6" y="132.3" font-size="3.0" text-anchor="start" fill="#111" font-weight="bold" stroke="#111" stroke-width="0.15" textLength="4.6" lengthAdjust="spacingAndGlyphs" >DN</text>
<text x="139.5" y="137.8" font-size="3.0" text-anchor="start" fill="#111" font-weight="bold" stroke="#111" stroke-width="0.15" textLength="7.3" lengthAdjust="spacingAndGlyphs" >Naive</text>
<line x1="154" y1="118.2" x2="172.5" y2="118.2" stroke="#000" stroke-width="1.15"/>
<path d="M170.4,116.10000000000001 L175,118.2 L170.4,120.3 Z" fill="#000"/>
<line x1="123.1" y1="134.1" x2="251" y2="134.1" stroke="#000" stroke-width="1.3"/>
<path d="M250.3,131.6 L254.5,134.1 L250.3,136.6 Z" fill="#000"/>
<path d="M194.1,112.7 L194.1,130.8 L207.7,130.8 Z" fill="none" stroke="#e8a0a0" stroke-width="0.45"/>
<path d="M204.9 116.9h0.45v0.45h-0.45zM203.1 102.4h0.45v0.45h-0.45zM197.1 102.2h0.45v0.45h-0.45zM206.1 123.6h0.45v0.45h-0.45zM217.6 107.6h0.45v0.45h-0.45zM200.3 107.5h0.45v0.45h-0.45zM196.4 117.9h0.45v0.45h-0.45zM201.0 100.6h0.45v0.45h-0.45zM221.3 110.6h0.45v0.45h-0.45zM214.8 104.1h0.45v0.45h-0.45zM199.8 104.0h0.45v0.45h-0.45zM216.9 113.2h0.45v0.45h-0.45zM205.7 109.0h0.45v0.45h-0.45zM197.5 104.1h0.45v0.45h-0.45zM204.1 109.9h0.45v0.45h-0.45zM209.8 115.0h0.45v0.45h-0.45zM220.1 105.7h0.45v0.45h-0.45zM198.3 106.0h0.45v0.45h-0.45zM201.8 115.4h0.45v0.45h-0.45zM209.3 106.6h0.45v0.45h-0.45zM198.2 121.4h0.45v0.45h-0.45zM213.6 117.0h0.45v0.45h-0.45zM215.9 125.0h0.45v0.45h-0.45zM196.5 102.0h0.45v0.45h-0.45zM209.2 119.7h0.45v0.45h-0.45zM210.1 112.9h0.45v0.45h-0.45zM204.4 103.9h0.45v0.45h-0.45zM210.0 111.6h0.45v0.45h-0.45zM199.2 116.2h0.45v0.45h-0.45zM201.6 117.1h0.45v0.45h-0.45zM203.6 111.6h0.45v0.45h-0.45zM220.6 106.3h0.45v0.45h-0.45zM211.0 106.5h0.45v0.45h-0.45zM209.6 125.4h0.45v0.45h-0.45zM209.8 128.8h0.45v0.45h-0.45zM207.3 111.2h0.45v0.45h-0.45zM214.2 112.8h0.45v0.45h-0.45zM215.0 105.5h0.45v0.45h-0.45zM195.9 110.1h0.45v0.45h-0.45zM197.4 104.1h0.45v0.45h-0.45zM212.8 119.3h0.45v0.45h-0.45zM221.9 118.9h0.45v0.45h-0.45zM211.6 107.4h0.45v0.45h-0.45zM209.3 105.4h0.45v0.45h-0.45zM198.5 114.0h0.45v0.45h-0.45zM213.8 106.1h0.45v0.45h-0.45zM217.0 113.8h0.45v0.45h-0.45zM204.5 124.9h0.45v0.45h-0.45zM196.1 104.8h0.45v0.45h-0.45zM204.8 118.7h0.45v0.45h-0.45zM198.5 111.0h0.45v0.45h-0.45zM209.1 121.2h0.45v0.45h-0.45zM202.9 101.1h0.45v0.45h-0.45zM217.1 122.7h0.45v0.45h-0.45zM212.2 126.7h0.45v0.45h-0.45zM207.0 111.0h0.45v0.45h-0.45zM210.0 99.9h0.45v0.45h-0.45zM219.5 97.6h0.45v0.45h-0.45zM208.6 100.5h0.45v0.45h-0.45zM221.2 102.0h0.45v0.45h-0.45zM199.7 112.1h0.45v0.45h-0.45zM215.8 100.0h0.45v0.45h-0.45zM217.6 117.7h0.45v0.45h-0.45zM215.0 128.8h0.45v0.45h-0.45zM198.6 104.9h0.45v0.45h-0.45zM214.4 120.9h0.45v0.45h-0.45zM217.4 114.8h0.45v0.45h-0.45zM205.0 126.6h0.45v0.45h-0.45zM196.0 104.4h0.45v0.45h-0.45zM224.1 102.0h0.45v0.45h-0.45zM219.9 116.3h0.45v0.45h-0.45zM213.8 117.3h0.45v0.45h-0.45zM208.5 124.5h0.45v0.45h-0.45zM197.2 105.4h0.45v0.45h-0.45zM217.9 120.9h0.45v0.45h-0.45zM214.1 119.3h0.45v0.45h-0.45zM204.0 116.2h0.45v0.45h-0.45zM212.0 123.6h0.45v0.45h-0.45zM202.2 105.3h0.45v0.45h-0.45zM204.8 102.6h0.45v0.45h-0.45zM216.6 112.5h0.45v0.45h-0.45zM210.7 123.9h0.45v0.45h-0.45zM217.1 109.2h0.45v0.45h-0.45zM204.8 114.4h0.45v0.45h-0.45zM222.8 123.2h0.45v0.45h-0.45zM223.3 115.2h0.45v0.45h-0.45zM211.3 105.9h0.45v0.45h-0.45zM211.4 114.7h0.45v0.45h-0.45zM217.6 124.4h0.45v0.45h-0.45zM221.6 104.2h0.45v0.45h-0.45zM214.3 97.8h0.45v0.45h-0.45zM203.6 116.3h0.45v0.45h-0.45zM211.1 103.7h0.45v0.45h-0.45zM207.7 121.5h0.45v0.45h-0.45zM214.6 113.7h0.45v0.45h-0.45zM201.1 117.1h0.45v0.45h-0.45zM220.2 107.6h0.45v0.45h-0.45zM217.9 112.2h0.45v0.45h-0.45zM211.8 108.8h0.45v0.45h-0.45zM219.3 122.4h0.45v0.45h-0.45zM206.8 114.7h0.45v0.45h-0.45zM203.5 126.9h0.45v0.45h-0.45zM208.8 116.2h0.45v0.45h-0.45zM212.2 98.9h0.45v0.45h-0.45zM205.2 122.3h0.45v0.45h-0.45zM212.6 104.0h0.45v0.45h-0.45zM200.3 125.4h0.45v0.45h-0.45zM219.1 126.0h0.45v0.45h-0.45zM200.6 114.4h0.45v0.45h-0.45zM208.2 110.2h0.45v0.45h-0.45zM206.0 117.6h0.45v0.45h-0.45zM212.1 98.0h0.45v0.45h-0.45zM196.7 101.6h0.45v0.45h-0.45zM219.0 125.2h0.45v0.45h-0.45zM215.0 108.2h0.45v0.45h-0.45zM210.9 117.6h0.45v0.45h-0.45zM222.1 96.7h0.45v0.45h-0.45zM202.9 105.0h0.45v0.45h-0.45zM220.4 126.9h0.45v0.45h-0.45zM222.9 110.3h0.45v0.45h-0.45zM211.3 102.3h0.45v0.45h-0.45zM196.4 117.5h0.45v0.45h-0.45zM211.4 125.8h0.45v0.45h-0.45zM222.2 114.1h0.45v0.45h-0.45zM197.1 115.2h0.45v0.45h-0.45zM222.5 111.9h0.45v0.45h-0.45zM214.2 113.2h0.45v0.45h-0.45zM208.5 110.0h0.45v0.45h-0.45zM202.2 110.9h0.45v0.45h-0.45zM218.6 121.1h0.45v0.45h-0.45zM196.4 103.0h0.45v0.45h-0.45zM201.4 118.3h0.45v0.45h-0.45zM219.6 100.8h0.45v0.45h-0.45zM202.6 99.5h0.45v0.45h-0.45zM200.8 110.2h0.45v0.45h-0.45zM211.6 97.8h0.45v0.45h-0.45zM214.3 125.6h0.45v0.45h-0.45zM204.3 123.1h0.45v0.45h-0.45zM201.5 111.4h0.45v0.45h-0.45zM197.8 107.8h0.45v0.45h-0.45zM217.1 114.8h0.45v0.45h-0.45zM200.4 105.5h0.45v0.45h-0.45zM206.0 99.5h0.45v0.45h-0.45zM218.2 119.0h0.45v0.45h-0.45zM198.1 113.1h0.45v0.45h-0.45zM218.4 123.8h0.45v0.45h-0.45zM201.9 108.6h0.45v0.45h-0.45zM213.2 100.7h0.45v0.45h-0.45zM213.0 98.1h0.45v0.45h-0.45zM219.2 103.2h0.45v0.45h-0.45zM206.1 119.7h0.45v0.45h-0.45zM212.9 129.6h0.45v0.45h-0.45zM214.6 104.6h0.45v0.45h-0.45zM199.6 122.3h0.45v0.45h-0.45zM216.5 102.2h0.45v0.45h-0.45zM219.2 108.5h0.45v0.45h-0.45zM200.8 100.7h0.45v0.45h-0.45zM208.4 122.6h0.45v0.45h-0.45zM210.6 106.0h0.45v0.45h-0.45zM214.1 96.2h0.45v0.45h-0.45zM216.8 119.1h0.45v0.45h-0.45zM208.8 97.8h0.45v0.45h-0.45zM207.3 126.7h0.45v0.45h-0.45zM222.5 121.6h0.45v0.45h-0.45zM203.4 125.8h0.45v0.45h-0.45zM222.0 124.3h0.45v0.45h-0.45zM202.2 117.8h0.45v0.45h-0.45zM196.4 103.6h0.45v0.45h-0.45zM219.8 100.5h0.45v0.45h-0.45zM214.2 102.3h0.45v0.45h-0.45zM223.5 115.8h0.45v0.45h-0.45zM212.3 99.0h0.45v0.45h-0.45zM212.9 129.6h0.45v0.45h-0.45zM216.7 122.8h0.45v0.45h-0.45zM221.7 125.5h0.45v0.45h-0.45zM213.3 122.2h0.45v0.45h-0.45zM200.0 104.1h0.45v0.45h-0.45zM216.4 120.5h0.45v0.45h-0.45zM207.1 111.7h0.45v0.45h-0.45zM205.2 122.9h0.45v0.45h-0.45zM208.5 106.9h0.45v0.45h-0.45zM201.9 111.3h0.45v0.45h-0.45zM221.2 103.9h0.45v0.45h-0.45zM196.5 107.9h0.45v0.45h-0.45zM205.8 126.5h0.45v0.45h-0.45zM211.0 115.1h0.45v0.45h-0.45zM204.3 109.5h0.45v0.45h-0.45zM210.5 112.6h0.45v0.45h-0.45zM209.2 128.7h0.45v0.45h-0.45zM212.8 107.6h0.45v0.45h-0.45zM216.7 100.6h0.45v0.45h-0.45zM198.8 108.9h0.45v0.45h-0.45zM210.9 117.0h0.45v0.45h-0.45zM198.8 117.8h0.45v0.45h-0.45zM222.6 104.0h0.45v0.45h-0.45zM206.9 113.0h0.45v0.45h-0.45zM218.4 124.8h0.45v0.45h-0.45zM214.3 115.0h0.45v0.45h-0.45zM201.0 113.5h0.45v0.45h-0.45zM199.3 124.9h0.45v0.45h-0.45zM203.1 100.9h0.45v0.45h-0.45zM217.6 110.5h0.45v0.45h-0.45zM199.0 118.0h0.45v0.45h-0.45zM223.7 114.8h0.45v0.45h-0.45zM217.0 116.4h0.45v0.45h-0.45zM207.4 107.5h0.45v0.45h-0.45zM217.1 110.8h0.45v0.45h-0.45zM216.6 115.6h0.45v0.45h-0.45zM219.5 110.4h0.45v0.45h-0.45zM204.5 108.4h0.45v0.45h-0.45zM211.6 120.1h0.45v0.45h-0.45zM212.6 97.2h0.45v0.45h-0.45zM198.7 122.3h0.45v0.45h-0.45zM221.2 114.3h0.45v0.45h-0.45zM213.2 108.9h0.45v0.45h-0.45zM196.2 108.3h0.45v0.45h-0.45zM217.4 119.5h0.45v0.45h-0.45zM199.8 108.8h0.45v0.45h-0.45zM202.1 106.7h0.45v0.45h-0.45zM220.3 124.8h0.45v0.45h-0.45zM206.9 103.3h0.45v0.45h-0.45zM217.5 114.6h0.45v0.45h-0.45zM220.8 113.8h0.45v0.45h-0.45zM208.1 117.6h0.45v0.45h-0.45zM218.0 129.2h0.45v0.45h-0.45zM214.2 113.1h0.45v0.45h-0.45zM210.1 103.1h0.45v0.45h-0.45zM200.5 120.4h0.45v0.45h-0.45zM208.7 107.7h0.45v0.45h-0.45zM209.8 101.9h0.45v0.45h-0.45zM197.4 105.2h0.45v0.45h-0.45zM209.9 112.5h0.45v0.45h-0.45zM218.4 106.8h0.45v0.45h-0.45zM215.1 105.4h0.45v0.45h-0.45zM209.1 109.2h0.45v0.45h-0.45zM211.8 101.2h0.45v0.45h-0.45zM214.6 126.4h0.45v0.45h-0.45zM218.4 100.9h0.45v0.45h-0.45zM214.8 102.1h0.45v0.45h-0.45zM219.1 108.8h0.45v0.45h-0.45zM208.6 109.8h0.45v0.45h-0.45zM216.6 124.8h0.45v0.45h-0.45zM202.7 128.0h0.45v0.45h-0.45zM218.9 127.1h0.45v0.45h-0.45zM221.9 106.4h0.45v0.45h-0.45zM205.8 99.0h0.45v0.45h-0.45zM196.6 110.5h0.45v0.45h-0.45zM211.2 128.4h0.45v0.45h-0.45zM212.5 126.5h0.45v0.45h-0.45zM207.0 125.3h0.45v0.45h-0.45zM200.5 123.8h0.45v0.45h-0.45zM207.8 114.2h0.45v0.45h-0.45zM219.4 99.5h0.45v0.45h-0.45zM212.9 113.5h0.45v0.45h-0.45zM210.1 103.4h0.45v0.45h-0.45zM222.2 107.6h0.45v0.45h-0.45zM211.7 103.1h0.45v0.45h-0.45zM199.3 107.4h0.45v0.45h-0.45zM199.8 103.1h0.45v0.45h-0.45zM208.8 108.0h0.45v0.45h-0.45zM200.9 122.9h0.45v0.45h-0.45zM204.5 122.2h0.45v0.45h-0.45zM214.4 127.9h0.45v0.45h-0.45zM200.5 115.4h0.45v0.45h-0.45zM197.4 108.0h0.45v0.45h-0.45zM218.2 111.5h0.45v0.45h-0.45zM223.3 121.8h0.45v0.45h-0.45zM197.7 114.6h0.45v0.45h-0.45zM215.6 122.2h0.45v0.45h-0.45zM200.2 125.1h0.45v0.45h-0.45zM219.0 116.3h0.45v0.45h-0.45zM210.9 113.4h0.45v0.45h-0.45zM220.4 123.8h0.45v0.45h-0.45zM205.1 120.3h0.45v0.45h-0.45zM200.6 127.6h0.45v0.45h-0.45zM218.4 124.2h0.45v0.45h-0.45zM221.0 101.6h0.45v0.45h-0.45zM214.5 120.1h0.45v0.45h-0.45zM214.6 119.8h0.45v0.45h-0.45zM219.8 115.0h0.45v0.45h-0.45zM216.4 97.1h0.45v0.45h-0.45zM215.1 117.5h0.45v0.45h-0.45zM221.7 113.3h0.45v0.45h-0.45zM203.9 128.4h0.45v0.45h-0.45zM202.2 115.5h0.45v0.45h-0.45zM206.1 122.0h0.45v0.45h-0.45zM217.4 99.4h0.45v0.45h-0.45zM222.4 98.2h0.45v0.45h-0.45zM221.2 125.3h0.45v0.45h-0.45zM210.1 123.0h0.45v0.45h-0.45zM204.0 103.6h0.45v0.45h-0.45zM209.4 127.4h0.45v0.45h-0.45zM213.1 118.1h0.45v0.45h-0.45zM211.7 109.8h0.45v0.45h-0.45zM205.5 105.4h0.45v0.45h-0.45zM206.6 114.4h0.45v0.45h-0.45zM211.6 100.5h0.45v0.45h-0.45zM198.7 121.2h0.45v0.45h-0.45zM205.6 123.5h0.45v0.45h-0.45zM204.9 110.8h0.45v0.45h-0.45zM215.8 107.7h0.45v0.45h-0.45zM212.2 129.4h0.45v0.45h-0.45zM197.6 119.2h0.45v0.45h-0.45zM217.7 128.4h0.45v0.45h-0.45zM223.1 105.7h0.45v0.45h-0.45zM205.6 111.4h0.45v0.45h-0.45zM214.6 103.8h0.45v0.45h-0.45zM203.0 108.7h0.45v0.45h-0.45zM205.3 111.5h0.45v0.45h-0.45zM208.9 118.9h0.45v0.45h-0.45zM218.0 118.9h0.45v0.45h-0.45zM218.1 97.7h0.45v0.45h-0.45zM217.0 110.6h0.45v0.45h-0.45zM211.0 120.1h0.45v0.45h-0.45zM209.8 103.1h0.45v0.45h-0.45zM212.2 105.8h0.45v0.45h-0.45zM206.9 116.6h0.45v0.45h-0.45zM210.9 101.9h0.45v0.45h-0.45zM207.4 128.3h0.45v0.45h-0.45zM215.3 102.4h0.45v0.45h-0.45zM212.1 118.0h0.45v0.45h-0.45zM215.5 117.5h0.45v0.45h-0.45zM198.7 125.4h0.45v0.45h-0.45zM221.0 100.2h0.45v0.45h-0.45zM213.6 97.4h0.45v0.45h-0.45zM199.4 117.7h0.45v0.45h-0.45zM214.6 115.5h0.45v0.45h-0.45zM208.4 128.7h0.45v0.45h-0.45zM210.0 107.3h0.45v0.45h-0.45zM202.0 126.4h0.45v0.45h-0.45zM224.1 99.0h0.45v0.45h-0.45zM205.5 127.7h0.45v0.45h-0.45zM221.8 120.8h0.45v0.45h-0.45zM210.2 121.0h0.45v0.45h-0.45zM218.8 117.2h0.45v0.45h-0.45zM199.6 100.6h0.45v0.45h-0.45zM213.1 109.1h0.45v0.45h-0.45zM217.4 125.6h0.45v0.45h-0.45zM202.5 99.9h0.45v0.45h-0.45zM215.9 114.9h0.45v0.45h-0.45zM211.2 129.5h0.45v0.45h-0.45zM201.5 127.4h0.45v0.45h-0.45zM218.6 110.2h0.45v0.45h-0.45zM222.3 102.1h0.45v0.45h-0.45zM216.7 112.4h0.45v0.45h-0.45zM212.9 119.7h0.45v0.45h-0.45zM221.5 100.4h0.45v0.45h-0.45zM217.3 103.2h0.45v0.45h-0.45zM198.6 111.5h0.45v0.45h-0.45zM212.2 117.4h0.45v0.45h-0.45zM205.2 117.7h0.45v0.45h-0.45zM221.6 114.1h0.45v0.45h-0.45zM201.0 127.4h0.45v0.45h-0.45zM214.3 115.3h0.45v0.45h-0.45zM209.2 110.5h0.45v0.45h-0.45zM203.5 125.6h0.45v0.45h-0.45zM196.7 101.8h0.45v0.45h-0.45zM209.1 116.4h0.45v0.45h-0.45zM212.2 125.3h0.45v0.45h-0.45zM215.2 114.5h0.45v0.45h-0.45zM215.0 102.5h0.45v0.45h-0.45zM212.8 114.5h0.45v0.45h-0.45zM219.5 124.8h0.45v0.45h-0.45zM220.2 106.8h0.45v0.45h-0.45zM217.1 126.1h0.45v0.45h-0.45zM210.5 105.8h0.45v0.45h-0.45zM218.7 116.1h0.45v0.45h-0.45zM199.7 124.0h0.45v0.45h-0.45zM214.1 107.2h0.45v0.45h-0.45zM208.0 97.8h0.45v0.45h-0.45zM196.7 104.1h0.45v0.45h-0.45zM208.7 119.1h0.45v0.45h-0.45zM205.2 120.0h0.45v0.45h-0.45zM209.3 106.4h0.45v0.45h-0.45zM213.1 101.8h0.45v0.45h-0.45zM214.2 122.6h0.45v0.45h-0.45zM222.7 101.5h0.45v0.45h-0.45zM196.3 118.5h0.45v0.45h-0.45zM219.4 106.1h0.45v0.45h-0.45zM216.2 106.4h0.45v0.45h-0.45z" fill="#8a8a70" opacity="0.6"/>
<path d="M197.8,108.1 C197.9,104.5 198.5,103.3 199.4,102.8 C202,101.5 205,100.3 207.7,99.8 C212,99 217,98.4 220.5,98.3 C221.7,99.5 222.1,102 222,105.1 C222,110 221.8,116 221.3,120.2 C220.8,123.3 219.8,125.3 218.2,126.3 C215.5,127.4 212,127.8 209.2,127.8 C206,127.6 203.5,126.3 201.6,124.7 C199.8,122.5 198.9,120 198.6,117.2 Z" fill="#1018c8" filter="url(#b05)"/>
<path d="M198.8,108.3 C198.9,105 199.4,104 200.2,103.6 C202.6,102.4 205.4,101.2 207.9,100.7 C212,100 216.8,99.4 219.8,99.3 C220.8,100.3 221.1,102.5 221,105.2 C221,110 220.8,116 220.3,120 C219.9,122.8 219,124.6 217.6,125.4 C215.2,126.4 212,126.8 209.3,126.8 C206.3,126.6 204,125.4 202.3,124 C200.7,122 199.9,119.7 199.6,117.1 Z" fill="#1f3cf0" filter="url(#b05)"/>
<ellipse cx="213.5" cy="114.4" rx="8.8" ry="9.8" fill="#3c8cff" filter="url(#b1)"/>
<ellipse cx="213.7" cy="114.3" rx="7.6" ry="8.4" fill="#40e0f0" filter="url(#b05)"/>
<ellipse cx="213.7" cy="114.2" rx="5.6" ry="6.2" fill="#90e850" filter="url(#b05)"/>
<ellipse cx="213.7" cy="114.2" rx="3.7" ry="4.1" fill="#f0e030" filter="url(#b05)"/>
<ellipse cx="213.7" cy="114.2" rx="1.9" ry="2.2" fill="#d02010" filter="url(#b05)"/>
<circle cx="199.4" cy="125.5" r="2.7" fill="#1018c8" filter="url(#b05)"/>
<circle cx="199.4" cy="125.5" r="1.5" fill="#1f3cf0" filter="url(#b05)"/>
<rect x="184.4" y="81" width="61.69999999999999" height="60.19999999999999" fill="none" stroke="#666" stroke-width="0.6"/>
<path d="M185.9 141.2v-0.9M187.5 141.2v-0.9M189.1 141.2v-0.9M190.7 141.2v-0.9M192.3 141.2v-0.9M193.9 141.2v-0.9M195.5 141.2v-0.9M197.1 141.2v-0.9M198.7 141.2v-0.9M200.3 141.2v-0.9M201.9 141.2v-0.9M203.5 141.2v-0.9M205.1 141.2v-0.9M206.7 141.2v-0.9M208.3 141.2v-0.9M209.9 141.2v-0.9M211.5 141.2v-0.9M213.1 141.2v-0.9M214.7 141.2v-0.9M216.3 141.2v-0.9M217.9 141.2v-0.9M219.5 141.2v-0.9M221.1 141.2v-0.9M222.7 141.2v-0.9M224.3 141.2v-0.9M225.9 141.2v-0.9M227.5 141.2v-0.9M229.1 141.2v-0.9M230.7 141.2v-0.9M232.3 141.2v-0.9M233.9 141.2v-0.9M235.5 141.2v-0.9M237.1 141.2v-0.9M238.7 141.2v-0.9M240.3 141.2v-0.9M241.9 141.2v-0.9M243.5 141.2v-0.9M245.1 141.2v-0.9M184.4 82.5h0.9M184.4 84.1h0.9M184.4 85.7h0.9M184.4 87.3h0.9M184.4 88.9h0.9M184.4 90.5h0.9M184.4 92.1h0.9M184.4 93.7h0.9M184.4 95.3h0.9M184.4 96.9h0.9M184.4 98.5h0.9M184.4 100.1h0.9M184.4 101.7h0.9M184.4 103.3h0.9M184.4 104.9h0.9M184.4 106.5h0.9M184.4 108.1h0.9M184.4 109.7h0.9M184.4 111.3h0.9M184.4 112.9h0.9M184.4 114.5h0.9M184.4 116.1h0.9M184.4 117.7h0.9M184.4 119.3h0.9M184.4 120.9h0.9M184.4 122.5h0.9M184.4 124.1h0.9M184.4 125.7h0.9M184.4 127.3h0.9M184.4 128.9h0.9M184.4 130.5h0.9M184.4 132.1h0.9M184.4 133.7h0.9M184.4 135.3h0.9M184.4 136.9h0.9M184.4 138.5h0.9M184.4 140.1h0.9" stroke="#888" stroke-width="0.35" fill="none"/>
<line x1="183.1" y1="86.4" x2="184.4" y2="86.4" stroke="#666" stroke-width="0.4"/>
<text x="182.5" y="86.4" font-size="2.9" text-anchor="middle" fill="#333" font-weight="bold" stroke="#333" stroke-width="0.12" transform="rotate(-90 182.5 86.4)" >10<tspan dy="-0.9" font-size="1.9">5</tspan></text>
<line x1="183.1" y1="100.8" x2="184.4" y2="100.8" stroke="#666" stroke-width="0.4"/>
<text x="182.5" y="100.8" font-size="2.9" text-anchor="middle" fill="#333" font-weight="bold" stroke="#333" stroke-width="0.12" transform="rotate(-90 182.5 100.8)" >10<tspan dy="-0.9" font-size="1.9">4</tspan></text>
<line x1="183.1" y1="115.2" x2="184.4" y2="115.2" stroke="#666" stroke-width="0.4"/>
<text x="182.5" y="115.2" font-size="2.9" text-anchor="middle" fill="#333" font-weight="bold" stroke="#333" stroke-width="0.12" transform="rotate(-90 182.5 115.2)" >10<tspan dy="-0.9" font-size="1.9">3</tspan></text>
<line x1="183.1" y1="126.7" x2="184.4" y2="126.7" stroke="#666" stroke-width="0.4"/>
<text x="182.5" y="126.7" font-size="2.9" text-anchor="middle" fill="#333" font-weight="bold" stroke="#333" stroke-width="0.12" transform="rotate(-90 182.5 126.7)" >0</text>
<line x1="198" y1="141.2" x2="198" y2="142.5" stroke="#666" stroke-width="0.4"/>
<text x="198" y="146.89999999999998" font-size="2.9" text-anchor="middle" fill="#333" font-weight="bold" stroke="#333" stroke-width="0.12" >0</text>
<line x1="209" y1="141.2" x2="209" y2="142.5" stroke="#666" stroke-width="0.4"/>
<text x="209" y="146.89999999999998" font-size="2.9" text-anchor="middle" fill="#333" font-weight="bold" stroke="#333" stroke-width="0.12" >10<tspan dy="-0.9" font-size="1.9">3</tspan></text>
<line x1="224" y1="141.2" x2="224" y2="142.5" stroke="#666" stroke-width="0.4"/>
<text x="224" y="146.89999999999998" font-size="2.9" text-anchor="middle" fill="#333" font-weight="bold" stroke="#333" stroke-width="0.12" >10<tspan dy="-0.9" font-size="1.9">4</tspan></text>
<line x1="238.8" y1="141.2" x2="238.8" y2="142.5" stroke="#666" stroke-width="0.4"/>
<text x="238.8" y="146.89999999999998" font-size="2.9" text-anchor="middle" fill="#333" font-weight="bold" stroke="#333" stroke-width="0.12" >10<tspan dy="-0.9" font-size="1.9">5</tspan></text>
<text x="177.1" y="110.2" font-size="2.9" text-anchor="middle" fill="#222" font-weight="bold" stroke="#222" stroke-width="0.12" transform="rotate(-90 177.1 110.2)" >CD24</text>
<text x="211" y="151.7" font-size="2.9" text-anchor="middle" fill="#222" font-weight="bold" stroke="#222" stroke-width="0.12" >CD21</text>
<text x="212.2" y="132.1" font-size="3.0" text-anchor="start" fill="#111" font-weight="bold" stroke="#111" stroke-width="0.15" textLength="26.5" lengthAdjust="spacingAndGlyphs" >Activated Naive</text>
<text x="185.2" y="140.2" font-size="5.6" text-anchor="start" fill="#c84848" font-weight="normal" >0.929</text>
<rect x="269.6" y="113.4" width="15.1" height="17.7" fill="none" stroke="#e8a0a0" stroke-width="0.45"/>
<path d="M284.9 113.3h0.45v0.45h-0.45zM286.6 111.2h0.45v0.45h-0.45zM295.3 104.4h0.45v0.45h-0.45zM283.2 122.8h0.45v0.45h-0.45zM288.1 127.1h0.45v0.45h-0.45zM278.1 110.4h0.45v0.45h-0.45zM278.6 103.5h0.45v0.45h-0.45zM271.4 115.2h0.45v0.45h-0.45zM278.4 117.2h0.45v0.45h-0.45zM293.5 109.6h0.45v0.45h-0.45zM281.1 126.9h0.45v0.45h-0.45zM276.4 124.6h0.45v0.45h-0.45zM276.7 113.2h0.45v0.45h-0.45zM286.6 128.8h0.45v0.45h-0.45zM292.0 125.1h0.45v0.45h-0.45zM280.0 110.2h0.45v0.45h-0.45zM296.4 117.3h0.45v0.45h-0.45zM291.7 102.5h0.45v0.45h-0.45zM271.0 112.5h0.45v0.45h-0.45zM278.7 107.6h0.45v0.45h-0.45zM294.7 127.6h0.45v0.45h-0.45zM276.1 102.6h0.45v0.45h-0.45zM274.9 105.1h0.45v0.45h-0.45zM291.8 111.1h0.45v0.45h-0.45zM285.9 103.6h0.45v0.45h-0.45zM295.7 111.1h0.45v0.45h-0.45zM276.6 117.3h0.45v0.45h-0.45zM276.3 127.0h0.45v0.45h-0.45zM282.2 102.4h0.45v0.45h-0.45zM282.4 105.5h0.45v0.45h-0.45zM293.3 122.0h0.45v0.45h-0.45zM290.8 110.3h0.45v0.45h-0.45zM278.1 117.0h0.45v0.45h-0.45zM294.0 113.9h0.45v0.45h-0.45zM285.2 111.4h0.45v0.45h-0.45zM294.9 128.7h0.45v0.45h-0.45zM277.6 128.8h0.45v0.45h-0.45zM294.6 111.8h0.45v0.45h-0.45zM277.0 120.4h0.45v0.45h-0.45zM286.1 117.5h0.45v0.45h-0.45zM291.2 115.3h0.45v0.45h-0.45zM274.2 101.8h0.45v0.45h-0.45zM294.8 107.3h0.45v0.45h-0.45zM290.5 108.8h0.45v0.45h-0.45zM275.8 120.4h0.45v0.45h-0.45zM274.4 101.6h0.45v0.45h-0.45zM280.4 123.6h0.45v0.45h-0.45zM275.7 123.7h0.45v0.45h-0.45zM276.3 121.7h0.45v0.45h-0.45zM292.7 102.8h0.45v0.45h-0.45zM281.1 125.3h0.45v0.45h-0.45zM284.5 112.7h0.45v0.45h-0.45zM271.1 104.2h0.45v0.45h-0.45zM285.4 119.7h0.45v0.45h-0.45zM288.8 121.7h0.45v0.45h-0.45zM296.0 106.8h0.45v0.45h-0.45zM291.0 113.9h0.45v0.45h-0.45zM278.6 104.8h0.45v0.45h-0.45zM291.6 105.2h0.45v0.45h-0.45zM274.2 111.1h0.45v0.45h-0.45zM282.5 113.0h0.45v0.45h-0.45zM272.1 123.8h0.45v0.45h-0.45zM292.8 113.5h0.45v0.45h-0.45zM278.5 125.2h0.45v0.45h-0.45zM292.6 107.1h0.45v0.45h-0.45zM296.7 119.0h0.45v0.45h-0.45zM280.5 104.0h0.45v0.45h-0.45zM299.2 122.5h0.45v0.45h-0.45zM283.6 116.3h0.45v0.45h-0.45zM284.9 114.9h0.45v0.45h-0.45zM271.7 119.0h0.45v0.45h-0.45zM280.2 104.6h0.45v0.45h-0.45zM280.3 111.7h0.45v0.45h-0.45zM270.7 108.1h0.45v0.45h-0.45zM278.7 104.0h0.45v0.45h-0.45zM282.3 101.1h0.45v0.45h-0.45zM284.5 109.9h0.45v0.45h-0.45zM278.2 119.4h0.45v0.45h-0.45zM289.1 103.1h0.45v0.45h-0.45zM272.7 119.5h0.45v0.45h-0.45zM280.6 104.4h0.45v0.45h-0.45zM277.7 107.8h0.45v0.45h-0.45zM276.6 100.5h0.45v0.45h-0.45zM279.8 126.1h0.45v0.45h-0.45zM273.8 116.1h0.45v0.45h-0.45zM279.3 121.3h0.45v0.45h-0.45zM292.0 119.5h0.45v0.45h-0.45zM284.2 125.7h0.45v0.45h-0.45zM281.3 126.1h0.45v0.45h-0.45zM289.4 111.8h0.45v0.45h-0.45zM291.6 108.0h0.45v0.45h-0.45zM272.3 123.5h0.45v0.45h-0.45zM282.4 123.3h0.45v0.45h-0.45zM297.8 122.4h0.45v0.45h-0.45zM289.3 108.1h0.45v0.45h-0.45zM285.0 106.7h0.45v0.45h-0.45zM270.1 115.9h0.45v0.45h-0.45zM281.5 113.2h0.45v0.45h-0.45zM278.6 101.2h0.45v0.45h-0.45zM282.4 126.5h0.45v0.45h-0.45zM286.1 124.9h0.45v0.45h-0.45zM282.4 113.2h0.45v0.45h-0.45zM277.4 122.1h0.45v0.45h-0.45zM293.8 124.9h0.45v0.45h-0.45zM281.9 102.1h0.45v0.45h-0.45zM286.2 125.1h0.45v0.45h-0.45zM279.1 101.4h0.45v0.45h-0.45zM279.5 107.6h0.45v0.45h-0.45zM298.3 124.0h0.45v0.45h-0.45zM293.1 120.7h0.45v0.45h-0.45zM294.5 116.3h0.45v0.45h-0.45zM283.7 129.3h0.45v0.45h-0.45zM270.6 111.4h0.45v0.45h-0.45zM297.5 115.4h0.45v0.45h-0.45zM297.5 116.6h0.45v0.45h-0.45zM280.2 128.4h0.45v0.45h-0.45zM280.8 125.6h0.45v0.45h-0.45zM287.7 122.3h0.45v0.45h-0.45zM270.8 120.4h0.45v0.45h-0.45zM292.7 107.6h0.45v0.45h-0.45zM277.8 119.2h0.45v0.45h-0.45zM273.9 118.2h0.45v0.45h-0.45zM292.1 105.4h0.45v0.45h-0.45zM274.0 104.1h0.45v0.45h-0.45zM280.6 118.3h0.45v0.45h-0.45zM298.8 116.1h0.45v0.45h-0.45zM284.2 114.8h0.45v0.45h-0.45zM273.8 119.5h0.45v0.45h-0.45zM291.3 119.2h0.45v0.45h-0.45zM281.5 123.0h0.45v0.45h-0.45zM283.4 112.6h0.45v0.45h-0.45zM279.3 129.1h0.45v0.45h-0.45zM292.7 113.4h0.45v0.45h-0.45zM288.8 107.9h0.45v0.45h-0.45zM291.6 122.5h0.45v0.45h-0.45zM277.5 117.9h0.45v0.45h-0.45zM286.2 118.8h0.45v0.45h-0.45zM270.1 117.0h0.45v0.45h-0.45zM281.0 117.0h0.45v0.45h-0.45zM281.1 117.2h0.45v0.45h-0.45zM287.1 107.4h0.45v0.45h-0.45zM290.9 123.4h0.45v0.45h-0.45zM285.1 108.8h0.45v0.45h-0.45zM271.3 116.1h0.45v0.45h-0.45zM298.1 115.0h0.45v0.45h-0.45zM294.7 110.8h0.45v0.45h-0.45zM278.5 100.9h0.45v0.45h-0.45zM285.0 112.6h0.45v0.45h-0.45zM277.1 109.8h0.45v0.45h-0.45zM278.6 117.0h0.45v0.45h-0.45zM276.7 100.2h0.45v0.45h-0.45zM293.5 104.2h0.45v0.45h-0.45zM295.1 113.6h0.45v0.45h-0.45zM287.7 127.7h0.45v0.45h-0.45zM295.8 103.6h0.45v0.45h-0.45zM272.4 116.5h0.45v0.45h-0.45zM288.6 125.4h0.45v0.45h-0.45zM280.2 126.1h0.45v0.45h-0.45zM287.8 122.4h0.45v0.45h-0.45zM274.5 108.8h0.45v0.45h-0.45zM281.7 116.0h0.45v0.45h-0.45zM280.1 121.3h0.45v0.45h-0.45zM294.5 107.5h0.45v0.45h-0.45zM279.4 119.5h0.45v0.45h-0.45zM293.2 115.3h0.45v0.45h-0.45zM278.3 109.2h0.45v0.45h-0.45zM294.5 101.8h0.45v0.45h-0.45zM294.4 109.8h0.45v0.45h-0.45zM281.5 104.9h0.45v0.45h-0.45zM291.1 120.0h0.45v0.45h-0.45zM298.1 107.9h0.45v0.45h-0.45zM276.6 110.2h0.45v0.45h-0.45zM271.2 120.7h0.45v0.45h-0.45zM288.7 119.2h0.45v0.45h-0.45zM298.1 120.1h0.45v0.45h-0.45zM294.7 128.1h0.45v0.45h-0.45zM295.0 115.7h0.45v0.45h-0.45zM282.6 120.3h0.45v0.45h-0.45zM274.2 100.4h0.45v0.45h-0.45zM273.0 101.9h0.45v0.45h-0.45zM292.8 109.6h0.45v0.45h-0.45zM278.7 123.8h0.45v0.45h-0.45zM279.4 103.4h0.45v0.45h-0.45zM278.5 110.8h0.45v0.45h-0.45zM288.5 116.2h0.45v0.45h-0.45zM287.4 105.5h0.45v0.45h-0.45zM281.7 122.4h0.45v0.45h-0.45zM280.3 111.9h0.45v0.45h-0.45zM283.8 117.8h0.45v0.45h-0.45zM297.0 111.9h0.45v0.45h-0.45zM290.5 112.1h0.45v0.45h-0.45zM274.1 121.6h0.45v0.45h-0.45zM278.8 121.0h0.45v0.45h-0.45zM269.1 118.5h0.45v0.45h-0.45zM284.5 117.3h0.45v0.45h-0.45zM298.8 106.3h0.45v0.45h-0.45zM273.3 112.5h0.45v0.45h-0.45zM280.4 129.5h0.45v0.45h-0.45zM290.4 126.1h0.45v0.45h-0.45zM287.0 110.4h0.45v0.45h-0.45zM292.5 104.4h0.45v0.45h-0.45zM274.2 102.0h0.45v0.45h-0.45zM285.4 117.5h0.45v0.45h-0.45zM284.3 116.2h0.45v0.45h-0.45zM297.2 113.4h0.45v0.45h-0.45zM295.1 103.3h0.45v0.45h-0.45zM271.4 115.1h0.45v0.45h-0.45zM297.5 119.0h0.45v0.45h-0.45zM299.2 122.7h0.45v0.45h-0.45zM282.6 108.2h0.45v0.45h-0.45zM291.2 123.2h0.45v0.45h-0.45zM278.4 126.0h0.45v0.45h-0.45zM280.1 104.0h0.45v0.45h-0.45zM274.8 113.9h0.45v0.45h-0.45zM293.1 108.0h0.45v0.45h-0.45zM273.1 119.9h0.45v0.45h-0.45zM281.5 119.4h0.45v0.45h-0.45zM281.3 119.3h0.45v0.45h-0.45zM289.4 107.0h0.45v0.45h-0.45zM290.0 110.2h0.45v0.45h-0.45zM271.1 111.7h0.45v0.45h-0.45zM293.9 126.5h0.45v0.45h-0.45zM272.2 120.4h0.45v0.45h-0.45zM294.0 117.8h0.45v0.45h-0.45zM297.3 122.1h0.45v0.45h-0.45zM290.8 111.8h0.45v0.45h-0.45zM288.8 112.0h0.45v0.45h-0.45zM277.1 126.7h0.45v0.45h-0.45zM286.5 123.7h0.45v0.45h-0.45zM280.9 122.5h0.45v0.45h-0.45zM288.0 103.4h0.45v0.45h-0.45zM276.8 108.7h0.45v0.45h-0.45zM273.4 111.8h0.45v0.45h-0.45zM287.8 129.6h0.45v0.45h-0.45zM282.0 112.6h0.45v0.45h-0.45zM274.7 122.0h0.45v0.45h-0.45zM271.8 107.4h0.45v0.45h-0.45zM291.1 105.0h0.45v0.45h-0.45zM270.9 108.5h0.45v0.45h-0.45zM275.4 107.4h0.45v0.45h-0.45zM295.2 111.8h0.45v0.45h-0.45zM281.0 120.0h0.45v0.45h-0.45zM277.1 109.2h0.45v0.45h-0.45zM291.8 128.2h0.45v0.45h-0.45zM278.7 114.8h0.45v0.45h-0.45zM292.5 125.0h0.45v0.45h-0.45zM281.6 116.6h0.45v0.45h-0.45zM284.6 102.7h0.45v0.45h-0.45zM293.6 122.9h0.45v0.45h-0.45zM296.1 108.4h0.45v0.45h-0.45zM293.7 110.2h0.45v0.45h-0.45zM291.1 119.2h0.45v0.45h-0.45zM285.1 119.6h0.45v0.45h-0.45zM277.9 110.3h0.45v0.45h-0.45zM284.2 118.6h0.45v0.45h-0.45zM273.5 110.4h0.45v0.45h-0.45zM293.4 123.2h0.45v0.45h-0.45zM293.3 104.0h0.45v0.45h-0.45zM279.5 121.6h0.45v0.45h-0.45zM289.0 124.4h0.45v0.45h-0.45zM286.4 102.5h0.45v0.45h-0.45zM278.4 106.5h0.45v0.45h-0.45zM297.2 125.6h0.45v0.45h-0.45zM297.4 112.5h0.45v0.45h-0.45zM289.1 124.6h0.45v0.45h-0.45zM279.8 102.7h0.45v0.45h-0.45zM287.1 116.3h0.45v0.45h-0.45zM296.5 126.9h0.45v0.45h-0.45zM279.1 126.8h0.45v0.45h-0.45zM273.6 111.7h0.45v0.45h-0.45zM277.9 117.5h0.45v0.45h-0.45zM273.1 113.1h0.45v0.45h-0.45zM297.2 110.0h0.45v0.45h-0.45zM272.0 112.0h0.45v0.45h-0.45zM283.9 114.8h0.45v0.45h-0.45zM298.0 113.6h0.45v0.45h-0.45zM284.5 124.3h0.45v0.45h-0.45zM275.9 106.2h0.45v0.45h-0.45zM279.2 127.1h0.45v0.45h-0.45zM290.1 114.5h0.45v0.45h-0.45zM281.3 106.3h0.45v0.45h-0.45zM280.3 106.3h0.45v0.45h-0.45zM271.8 122.7h0.45v0.45h-0.45zM287.6 119.3h0.45v0.45h-0.45zM276.3 110.8h0.45v0.45h-0.45zM276.6 111.4h0.45v0.45h-0.45zM294.3 104.6h0.45v0.45h-0.45zM286.3 114.1h0.45v0.45h-0.45zM275.0 101.3h0.45v0.45h-0.45zM280.7 119.6h0.45v0.45h-0.45zM279.9 126.7h0.45v0.45h-0.45zM283.8 115.5h0.45v0.45h-0.45zM272.9 111.4h0.45v0.45h-0.45zM293.7 102.7h0.45v0.45h-0.45zM279.7 106.1h0.45v0.45h-0.45zM281.0 126.3h0.45v0.45h-0.45zM290.8 109.6h0.45v0.45h-0.45zM275.1 106.7h0.45v0.45h-0.45zM274.8 108.7h0.45v0.45h-0.45zM297.4 111.4h0.45v0.45h-0.45zM287.5 102.4h0.45v0.45h-0.45zM279.8 104.6h0.45v0.45h-0.45zM274.4 104.4h0.45v0.45h-0.45zM293.6 117.9h0.45v0.45h-0.45zM291.1 112.3h0.45v0.45h-0.45zM287.3 118.6h0.45v0.45h-0.45zM294.3 107.3h0.45v0.45h-0.45zM289.0 112.9h0.45v0.45h-0.45zM279.4 121.9h0.45v0.45h-0.45zM293.3 115.3h0.45v0.45h-0.45zM273.0 100.9h0.45v0.45h-0.45zM287.3 129.1h0.45v0.45h-0.45zM278.9 99.9h0.45v0.45h-0.45zM278.9 107.1h0.45v0.45h-0.45zM291.7 102.9h0.45v0.45h-0.45zM273.1 121.5h0.45v0.45h-0.45zM281.3 129.0h0.45v0.45h-0.45zM277.4 116.0h0.45v0.45h-0.45zM279.6 112.9h0.45v0.45h-0.45zM273.6 125.6h0.45v0.45h-0.45zM283.5 104.4h0.45v0.45h-0.45zM283.2 124.8h0.45v0.45h-0.45zM276.6 120.3h0.45v0.45h-0.45zM276.6 117.1h0.45v0.45h-0.45zM274.1 125.2h0.45v0.45h-0.45zM291.5 126.1h0.45v0.45h-0.45zM289.2 119.4h0.45v0.45h-0.45zM278.8 114.1h0.45v0.45h-0.45zM287.0 114.7h0.45v0.45h-0.45zM284.4 126.1h0.45v0.45h-0.45zM283.4 128.5h0.45v0.45h-0.45zM291.5 111.3h0.45v0.45h-0.45zM277.9 123.0h0.45v0.45h-0.45zM271.0 116.6h0.45v0.45h-0.45zM271.9 116.9h0.45v0.45h-0.45zM287.9 125.7h0.45v0.45h-0.45zM284.2 103.8h0.45v0.45h-0.45zM272.2 118.4h0.45v0.45h-0.45zM292.2 112.0h0.45v0.45h-0.45zM288.8 126.8h0.45v0.45h-0.45zM271.7 115.4h0.45v0.45h-0.45zM288.7 110.8h0.45v0.45h-0.45zM295.5 125.9h0.45v0.45h-0.45zM288.3 127.8h0.45v0.45h-0.45zM280.2 108.3h0.45v0.45h-0.45zM292.8 110.1h0.45v0.45h-0.45zM284.8 115.5h0.45v0.45h-0.45zM300.4 118.8h0.45v0.45h-0.45zM287.5 126.2h0.45v0.45h-0.45zM273.8 109.1h0.45v0.45h-0.45z" fill="#7890b8" opacity="0.6"/>
<path d="M271.8,111.1 C271.8,108.5 272.2,107.4 272.6,106.6 C272.8,104.5 273.3,103.3 274.1,102.8 C276.5,102 279,101.9 281.6,102.1 C283.5,102.5 285,103.3 286.2,104.4 C288.5,103.8 291.5,103.4 293.7,103.6 C295.6,104.8 297,107 297.5,109.6 C298.3,113 298.5,117 298.3,120.2 C298,123 296.5,125.3 294.5,126.3 C292,127.5 289,127.8 286.2,127.8 L278.6,127.8 C275.5,127.2 272.8,124 271.1,120.2 C270.8,117 271.2,114 271.8,111.1 Z" fill="#1018c8" filter="url(#b05)"/>
<path d="M272.8,111.3 C272.8,108.8 273.2,107.8 273.5,107.1 C273.7,105.3 274.2,104.2 274.8,103.8 C277,103 279.2,102.9 281.4,103.1 C283.2,103.5 284.7,104.3 286,105.4 C288.4,104.8 291.3,104.4 293.3,104.6 C295,105.7 296.2,107.6 296.6,109.9 C297.4,113 297.5,117 297.3,120 C297,122.6 295.7,124.6 294,125.4 C291.6,126.5 288.8,126.8 286.2,126.8 L278.8,126.8 C276,126.2 273.6,123.3 272.1,119.9 C271.8,117 272.2,114.2 272.8,111.3 Z" fill="#1f3cf0" filter="url(#b05)"/>
<path d="M276,108 C279,104.8 284,105.5 287,106.5 C291,105.5 294.5,106.5 295.5,110 C296.5,114 296.5,119 295.5,122 C294,125 290,125.5 286,125.5 L281,125.5 C278,124.5 276,121 275.5,117 Z" fill="#3c8cff" filter="url(#b1)"/>
<path d="M281,108 C283,105.5 287,105.5 289,106.5 C292,105.8 295,106.5 295.8,109.5 C296.6,113 296.6,119 295.8,122.5 C294.5,125.5 290,125.8 286,125.5 C283,125.2 281.5,123 281,119.5 C280.5,115.5 280.5,111 281,108 Z" fill="#40e0f0" filter="url(#b1)"/>
<path d="M282.5,109 C284,107 287,107 289,108 C291.5,107.4 294,108 294.6,110.5 C295.3,113.5 295.2,118.5 294.5,121.5 C293.4,124 290,124.3 286.5,124 C284,123.7 282.8,122 282.4,119 C282,115.5 282,112 282.5,109 Z" fill="#98f0a0" filter="url(#b05)"/>
<ellipse cx="287.5" cy="112" rx="3" ry="3.5" fill="#c0f070" filter="url(#b1)"/>
<ellipse cx="290.5" cy="118.5" rx="3.2" ry="4" fill="#d0f060" filter="url(#b1)"/>
<ellipse cx="285.5" cy="121" rx="2.5" ry="2" fill="#b0f080" filter="url(#b1)"/>
<circle cx="274.8" cy="126.2" r="3.8" fill="#1018c8" filter="url(#b05)"/>
<circle cx="274.8" cy="126.2" r="3.0" fill="#40e0f0" filter="url(#b05)"/>
<circle cx="274.8" cy="126.2" r="2.2" fill="#f0e030" filter="url(#b05)"/>
<circle cx="274.8" cy="126.2" r="1.3" fill="#d02010" filter="url(#b05)"/>
<rect x="260.6" y="81" width="61.89999999999998" height="60.80000000000001" fill="none" stroke="#666" stroke-width="0.6"/>
<path d="M262.1 141.8v-0.9M263.7 141.8v-0.9M265.3 141.8v-0.9M266.9 141.8v-0.9M268.5 141.8v-0.9M270.1 141.8v-0.9M271.7 141.8v-0.9M273.3 141.8v-0.9M274.9 141.8v-0.9M276.5 141.8v-0.9M278.1 141.8v-0.9M279.7 141.8v-0.9M281.3 141.8v-0.9M282.9 141.8v-0.9M284.5 141.8v-0.9M286.1 141.8v-0.9M287.7 141.8v-0.9M289.3 141.8v-0.9M290.9 141.8v-0.9M292.5 141.8v-0.9M294.1 141.8v-0.9M295.7 141.8v-0.9M297.3 141.8v-0.9M298.9 141.8v-0.9M300.5 141.8v-0.9M302.1 141.8v-0.9M303.7 141.8v-0.9M305.3 141.8v-0.9M306.9 141.8v-0.9M308.5 141.8v-0.9M310.1 141.8v-0.9M311.7 141.8v-0.9M313.3 141.8v-0.9M314.9 141.8v-0.9M316.5 141.8v-0.9M318.1 141.8v-0.9M319.7 141.8v-0.9M321.3 141.8v-0.9M260.6 82.5h0.9M260.6 84.1h0.9M260.6 85.7h0.9M260.6 87.3h0.9M260.6 88.9h0.9M260.6 90.5h0.9M260.6 92.1h0.9M260.6 93.7h0.9M260.6 95.3h0.9M260.6 96.9h0.9M260.6 98.5h0.9M260.6 100.1h0.9M260.6 101.7h0.9M260.6 103.3h0.9M260.6 104.9h0.9M260.6 106.5h0.9M260.6 108.1h0.9M260.6 109.7h0.9M260.6 111.3h0.9M260.6 112.9h0.9M260.6 114.5h0.9M260.6 116.1h0.9M260.6 117.7h0.9M260.6 119.3h0.9M260.6 120.9h0.9M260.6 122.5h0.9M260.6 124.1h0.9M260.6 125.7h0.9M260.6 127.3h0.9M260.6 128.9h0.9M260.6 130.5h0.9M260.6 132.1h0.9M260.6 133.7h0.9M260.6 135.3h0.9M260.6 136.9h0.9M260.6 138.5h0.9M260.6 140.1h0.9" stroke="#888" stroke-width="0.35" fill="none"/>
<line x1="259.3" y1="87.4" x2="260.6" y2="87.4" stroke="#666" stroke-width="0.4"/>
<text x="258.70000000000005" y="87.4" font-size="2.9" text-anchor="middle" fill="#333" font-weight="bold" stroke="#333" stroke-width="0.12" transform="rotate(-90 258.70000000000005 87.4)" >10<tspan dy="-0.9" font-size="1.9">5</tspan></text>
<line x1="259.3" y1="101.1" x2="260.6" y2="101.1" stroke="#666" stroke-width="0.4"/>
<text x="258.70000000000005" y="101.1" font-size="2.9" text-anchor="middle" fill="#333" font-weight="bold" stroke="#333" stroke-width="0.12" transform="rotate(-90 258.70000000000005 101.1)" >10<tspan dy="-0.9" font-size="1.9">4</tspan></text>
<line x1="259.3" y1="116.2" x2="260.6" y2="116.2" stroke="#666" stroke-width="0.4"/>
<text x="258.70000000000005" y="116.2" font-size="2.9" text-anchor="middle" fill="#333" font-weight="bold" stroke="#333" stroke-width="0.12" transform="rotate(-90 258.70000000000005 116.2)" >10<tspan dy="-0.9" font-size="1.9">3</tspan></text>
<line x1="259.3" y1="127.2" x2="260.6" y2="127.2" stroke="#666" stroke-width="0.4"/>
<text x="258.70000000000005" y="127.2" font-size="2.9" text-anchor="middle" fill="#333" font-weight="bold" stroke="#333" stroke-width="0.12" transform="rotate(-90 258.70000000000005 127.2)" >0</text>
<line x1="274.4" y1="141.8" x2="274.4" y2="143.10000000000002" stroke="#666" stroke-width="0.4"/>
<text x="274.4" y="147.5" font-size="2.9" text-anchor="middle" fill="#333" font-weight="bold" stroke="#333" stroke-width="0.12" >0</text>
<line x1="284" y1="141.8" x2="284" y2="143.10000000000002" stroke="#666" stroke-width="0.4"/>
<text x="284" y="147.5" font-size="2.9" text-anchor="middle" fill="#333" font-weight="bold" stroke="#333" stroke-width="0.12" >10<tspan dy="-0.9" font-size="1.9">3</tspan></text>
<line x1="299.1" y1="141.8" x2="299.1" y2="143.10000000000002" stroke="#666" stroke-width="0.4"/>
<text x="299.1" y="147.5" font-size="2.9" text-anchor="middle" fill="#333" font-weight="bold" stroke="#333" stroke-width="0.12" >10<tspan dy="-0.9" font-size="1.9">4</tspan></text>
<line x1="314.2" y1="141.8" x2="314.2" y2="143.10000000000002" stroke="#666" stroke-width="0.4"/>
<text x="314.2" y="147.5" font-size="2.9" text-anchor="middle" fill="#333" font-weight="bold" stroke="#333" stroke-width="0.12" >10<tspan dy="-0.9" font-size="1.9">5</tspan></text>
<text x="253.4" y="105.2" font-size="2.9" text-anchor="middle" fill="#222" font-weight="bold" stroke="#222" stroke-width="0.12" transform="rotate(-90 253.4 105.2)" >CD24</text>
<text x="290.9" y="150.5" font-size="2.9" text-anchor="middle" fill="#222" font-weight="bold" stroke="#222" stroke-width="0.12" >CD11c</text>
<text x="276.2" y="136.2" font-size="3.3" text-anchor="start" fill="#111" font-weight="bold" stroke="#111" stroke-width="0.15" textLength="6.6" lengthAdjust="spacingAndGlyphs" >DN2</text>
<text x="261.2" y="139.6" font-size="5.8" text-anchor="start" fill="#c84848" font-weight="normal" >31.3</text>
<line x1="27.1" y1="172.8" x2="27.1" y2="227.6" stroke="#000" stroke-width="0.9"/>
<line x1="24.900000000000002" y1="172.8" x2="27.1" y2="172.8" stroke="#000" stroke-width="0.8"/>
<text x="24.8" y="173.91600000000003" font-size="3.1" text-anchor="end" fill="#1a1a1a" font-weight="bold" stroke="#1a1a1a" stroke-width="0.15" >20</text>
<line x1="24.900000000000002" y1="186.6" x2="27.1" y2="186.6" stroke="#000" stroke-width="0.8"/>
<text x="24.8" y="187.716" font-size="3.1" text-anchor="end" fill="#1a1a1a" font-weight="bold" stroke="#1a1a1a" stroke-width="0.15" >15</text>
<line x1="24.900000000000002" y1="200.2" x2="27.1" y2="200.2" stroke="#000" stroke-width="0.8"/>
<text x="24.8" y="201.316" font-size="3.1" text-anchor="end" fill="#1a1a1a" font-weight="bold" stroke="#1a1a1a" stroke-width="0.15" >10</text>
<line x1="24.900000000000002" y1="213.9" x2="27.1" y2="213.9" stroke="#000" stroke-width="0.8"/>
<text x="24.8" y="215.01600000000002" font-size="3.1" text-anchor="end" fill="#1a1a1a" font-weight="bold" stroke="#1a1a1a" stroke-width="0.15" >5</text>
<line x1="24.900000000000002" y1="227.6" x2="27.1" y2="227.6" stroke="#000" stroke-width="0.8"/>
<text x="24.8" y="228.716" font-size="3.1" text-anchor="end" fill="#1a1a1a" font-weight="bold" stroke="#1a1a1a" stroke-width="0.15" >0</text>
<line x1="27.1" y1="227.6" x2="110.6" y2="227.6" stroke="#000" stroke-width="0.9"/>
<line x1="44" y1="227.6" x2="44" y2="229.0" stroke="#000" stroke-width="0.8"/>
<text x="44" y="234" font-size="4.3" text-anchor="middle" fill="#151515" font-weight="bold" stroke="#151515" stroke-width="0.15" >CVID</text>
<line x1="44" y1="192.3" x2="44" y2="220.1" stroke="#000" stroke-width="0.9"/>
<line x1="40" y1="192.3" x2="48" y2="192.3" stroke="#000" stroke-width="0.9"/>
<line x1="40" y1="220.1" x2="48" y2="220.1" stroke="#000" stroke-width="0.9"/>
<line x1="36" y1="206.6" x2="52" y2="206.6" stroke="#000" stroke-width="0.9"/>
<circle cx="44" cy="192.3" r="1.15" fill="#000"/>
<circle cx="44" cy="200.8" r="1.15" fill="#000"/>
<circle cx="44" cy="207.5" r="1.15" fill="#000"/>
<circle cx="44" cy="224.2" r="1.15" fill="#000"/>
<line x1="69.2" y1="227.6" x2="69.2" y2="229.0" stroke="#000" stroke-width="0.8"/>
<text x="69.2" y="234" font-size="4.3" text-anchor="middle" fill="#151515" font-weight="bold" stroke="#151515" stroke-width="0.15" >CVID-AI</text>
<line x1="69.2" y1="199.3" x2="69.2" y2="208.0" stroke="#000" stroke-width="0.9"/>
<line x1="65.2" y1="199.3" x2="73.2" y2="199.3" stroke="#000" stroke-width="0.9"/>
<line x1="65.2" y1="208.0" x2="73.2" y2="208.0" stroke="#000" stroke-width="0.9"/>
<line x1="61.2" y1="203.7" x2="77.2" y2="203.7" stroke="#000" stroke-width="0.9"/>
<path d="M66.3,199.5 L68.89999999999999,199.5 L67.6,201.7 Z" fill="#000"/>
<path d="M69.5,199.5 L72.1,199.5 L70.8,201.7 Z" fill="#000"/>
<circle cx="69.2" cy="205.4" r="1.15" fill="#000"/>
<circle cx="69.2" cy="210.2" r="1.15" fill="#000"/>
<line x1="94" y1="227.6" x2="94" y2="229.0" stroke="#000" stroke-width="0.8"/>
<text x="94" y="234" font-size="4.3" text-anchor="middle" fill="#151515" font-weight="bold" stroke="#151515" stroke-width="0.15" >Healthy</text>
<line x1="94" y1="190" x2="94" y2="214.5" stroke="#000" stroke-width="0.9"/>
<line x1="90" y1="190" x2="98" y2="190" stroke="#000" stroke-width="0.9"/>
<line x1="90" y1="214.5" x2="98" y2="214.5" stroke="#000" stroke-width="0.9"/>
<line x1="86" y1="202.5" x2="102" y2="202.5" stroke="#000" stroke-width="0.9"/>
<path d="M90.3,187.3 L92.89999999999999,187.3 L91.6,185.10000000000002 Z" fill="#000"/>
<path d="M93.5,189.4 L96.1,189.4 L94.8,187.20000000000002 Z" fill="#000"/>
<path d="M96.4,186.5 L99.0,186.5 L97.7,184.3 Z" fill="#000"/>
<path d="M92.3,197.0 L94.89999999999999,197.0 L93.6,194.8 Z" fill="#000"/>
<path d="M94.0,195.5 L96.6,195.5 L95.3,193.3 Z" fill="#000"/>
<path d="M86.7,207.0 L89.3,207.0 L88,204.8 Z" fill="#000"/>
<path d="M89.10000000000001,207.0 L91.7,207.0 L90.4,204.8 Z" fill="#000"/>
<path d="M95.2,207.6 L97.8,207.6 L96.5,205.4 Z" fill="#000"/>
<path d="M98.7,207.0 L101.3,207.0 L100,204.8 Z" fill="#000"/>
<path d="M92.7,210.7 L95.3,210.7 L94,208.5 Z" fill="#000"/>
<path d="M91.10000000000001,223.3 L93.7,223.3 L92.4,221.10000000000002 Z" fill="#000"/>
<path d="M94.0,223.3 L96.6,223.3 L95.3,221.10000000000002 Z" fill="#000"/>
<text x="68.1" y="165.5" font-size="5.1" text-anchor="middle" fill="#151515" font-weight="bold" stroke="#151515" stroke-width="0.17" >CD19+ B cells</text>
<text x="17.6" y="200.3" font-size="4.0" text-anchor="middle" fill="#111" font-weight="bold" stroke="#111" stroke-width="0.2" textLength="38" lengthAdjust="spacingAndGlyphs" transform="rotate(-90 17.6 200.3)" >% of Lymphocytes</text>
<line x1="136.1" y1="172.6" x2="136.1" y2="227.6" stroke="#000" stroke-width="0.9"/>
<line x1="133.9" y1="172.6" x2="136.1" y2="172.6" stroke="#000" stroke-width="0.8"/>
<text x="133.79999999999998" y="173.716" font-size="3.1" text-anchor="end" fill="#1a1a1a" font-weight="bold" stroke="#1a1a1a" stroke-width="0.15" >10</text>
<line x1="133.9" y1="183.6" x2="136.1" y2="183.6" stroke="#000" stroke-width="0.8"/>
<text x="133.79999999999998" y="184.716" font-size="3.1" text-anchor="end" fill="#1a1a1a" font-weight="bold" stroke="#1a1a1a" stroke-width="0.15" >8</text>
<line x1="133.9" y1="194.6" x2="136.1" y2="194.6" stroke="#000" stroke-width="0.8"/>
<text x="133.79999999999998" y="195.716" font-size="3.1" text-anchor="end" fill="#1a1a1a" font-weight="bold" stroke="#1a1a1a" stroke-width="0.15" >6</text>
<line x1="133.9" y1="205.6" x2="136.1" y2="205.6" stroke="#000" stroke-width="0.8"/>
<text x="133.79999999999998" y="206.716" font-size="3.1" text-anchor="end" fill="#1a1a1a" font-weight="bold" stroke="#1a1a1a" stroke-width="0.15" >4</text>
<line x1="133.9" y1="216.6" x2="136.1" y2="216.6" stroke="#000" stroke-width="0.8"/>
<text x="133.79999999999998" y="217.716" font-size="3.1" text-anchor="end" fill="#1a1a1a" font-weight="bold" stroke="#1a1a1a" stroke-width="0.15" >2</text>
<line x1="133.9" y1="227.6" x2="136.1" y2="227.6" stroke="#000" stroke-width="0.8"/>
<text x="133.79999999999998" y="228.716" font-size="3.1" text-anchor="end" fill="#1a1a1a" font-weight="bold" stroke="#1a1a1a" stroke-width="0.15" >0</text>
<line x1="136.1" y1="227.6" x2="219" y2="227.6" stroke="#000" stroke-width="0.9"/>
<line x1="153.2" y1="227.6" x2="153.2" y2="229.0" stroke="#000" stroke-width="0.8"/>
<text x="153.2" y="234" font-size="4.3" text-anchor="middle" fill="#151515" font-weight="bold" stroke="#151515" stroke-width="0.15" >CVID</text>
<line x1="153.2" y1="207.7" x2="153.2" y2="227.6" stroke="#000" stroke-width="0.9"/>
<line x1="149.2" y1="207.7" x2="157.2" y2="207.7" stroke="#000" stroke-width="0.9"/>
<line x1="149.2" y1="227.6" x2="157.2" y2="227.6" stroke="#000" stroke-width="0.9"/>
<line x1="145.2" y1="216.1" x2="161.2" y2="216.1" stroke="#000" stroke-width="0.9"/>
<circle cx="153.2" cy="206.6" r="1.15" fill="#000"/>
<circle cx="153.2" cy="212.6" r="1.15" fill="#000"/>
<circle cx="151.3" cy="223.7" r="1.15" fill="#000"/>
<circle cx="154.8" cy="223.7" r="1.15" fill="#000"/>
<line x1="177.7" y1="227.6" x2="177.7" y2="229.0" stroke="#000" stroke-width="0.8"/>
<text x="177.7" y="234" font-size="4.3" text-anchor="middle" fill="#151515" font-weight="bold" stroke="#151515" stroke-width="0.15" >CVID-AI</text>
<line x1="177.7" y1="199.3" x2="177.7" y2="227.6" stroke="#000" stroke-width="0.9"/>
<line x1="173.7" y1="199.3" x2="181.7" y2="199.3" stroke="#000" stroke-width="0.9"/>
<line x1="173.7" y1="227.6" x2="181.7" y2="227.6" stroke="#000" stroke-width="0.9"/>
<line x1="169.7" y1="213.4" x2="185.7" y2="213.4" stroke="#000" stroke-width="0.9"/>
<circle cx="177.7" cy="195.5" r="1.15" fill="#000"/>
<circle cx="177.7" cy="208.5" r="1.15" fill="#000"/>
<circle cx="175.8" cy="223.7" r="1.15" fill="#000"/>
<circle cx="179.3" cy="223.7" r="1.15" fill="#000"/>
<line x1="202.4" y1="227.6" x2="202.4" y2="229.0" stroke="#000" stroke-width="0.8"/>
<text x="202.4" y="234" font-size="4.3" text-anchor="middle" fill="#151515" font-weight="bold" stroke="#151515" stroke-width="0.15" >Healthy</text>
<line x1="202.4" y1="193.8" x2="202.4" y2="220.7" stroke="#000" stroke-width="0.9"/>
<line x1="198.4" y1="193.8" x2="206.4" y2="193.8" stroke="#000" stroke-width="0.9"/>
<line x1="198.4" y1="220.7" x2="206.4" y2="220.7" stroke="#000" stroke-width="0.9"/>
<line x1="194.4" y1="207.1" x2="210.4" y2="207.1" stroke="#000" stroke-width="0.9"/>
<circle cx="202.4" cy="176.4" r="1.15" fill="#000"/>
<circle cx="198" cy="200.3" r="1.15" fill="#000"/>
<circle cx="201.6" cy="200.3" r="1.15" fill="#000"/>
<circle cx="205" cy="199" r="1.15" fill="#000"/>
<circle cx="207.9" cy="200.3" r="1.15" fill="#000"/>
<circle cx="199.5" cy="205" r="1.15" fill="#000"/>
<circle cx="205" cy="204.5" r="1.15" fill="#000"/>
<circle cx="198" cy="209.8" r="1.15" fill="#000"/>
<circle cx="206.2" cy="209.8" r="1.15" fill="#000"/>
<circle cx="202.4" cy="213.4" r="1.15" fill="#000"/>
<circle cx="200.8" cy="216.6" r="1.15" fill="#000"/>
<circle cx="205" cy="216.6" r="1.15" fill="#000"/>
<circle cx="199" cy="221.6" r="1.15" fill="#000"/>
<circle cx="203" cy="221.6" r="1.15" fill="#000"/>
<circle cx="198" cy="224.3" r="1.15" fill="#000"/>
<text x="178.3" y="165.5" font-size="5.1" text-anchor="middle" fill="#151515" font-weight="bold" stroke="#151515" stroke-width="0.17" >Transitional</text>
<text x="125.8" y="200.3" font-size="4.0" text-anchor="middle" fill="#111" font-weight="bold" stroke="#111" stroke-width="0.2" textLength="40" lengthAdjust="spacingAndGlyphs" transform="rotate(-90 125.8 200.3)" >% of CD19+ B cells</text>
<line x1="246.0" y1="172.8" x2="246.0" y2="227.4" stroke="#000" stroke-width="0.9"/>
<line x1="243.8" y1="172.8" x2="246.0" y2="172.8" stroke="#000" stroke-width="0.8"/>
<text x="243.7" y="173.952" font-size="3.2" text-anchor="end" fill="#1a1a1a" font-weight="bold" stroke="#1a1a1a" stroke-width="0.15" >100</text>
<line x1="243.8" y1="183.7" x2="246.0" y2="183.7" stroke="#000" stroke-width="0.8"/>
<text x="243.7" y="184.85199999999998" font-size="3.2" text-anchor="end" fill="#1a1a1a" font-weight="bold" stroke="#1a1a1a" stroke-width="0.15" >80</text>
<line x1="243.8" y1="194.5" x2="246.0" y2="194.5" stroke="#000" stroke-width="0.8"/>
<text x="243.7" y="195.652" font-size="3.2" text-anchor="end" fill="#1a1a1a" font-weight="bold" stroke="#1a1a1a" stroke-width="0.15" >60</text>
<line x1="243.8" y1="205.4" x2="246.0" y2="205.4" stroke="#000" stroke-width="0.8"/>
<text x="243.7" y="206.552" font-size="3.2" text-anchor="end" fill="#1a1a1a" font-weight="bold" stroke="#1a1a1a" stroke-width="0.15" >40</text>
<line x1="243.8" y1="216.3" x2="246.0" y2="216.3" stroke="#000" stroke-width="0.8"/>
<text x="243.7" y="217.452" font-size="3.2" text-anchor="end" fill="#1a1a1a" font-weight="bold" stroke="#1a1a1a" stroke-width="0.15" >20</text>
<line x1="243.8" y1="227.4" x2="246.0" y2="227.4" stroke="#000" stroke-width="0.8"/>
<text x="243.7" y="228.552" font-size="3.2" text-anchor="end" fill="#1a1a1a" font-weight="bold" stroke="#1a1a1a" stroke-width="0.15" >0</text>
<line x1="246.0" y1="227.4" x2="327.6" y2="227.4" stroke="#000" stroke-width="0.9"/>
<line x1="263.2" y1="227.4" x2="263.2" y2="228.8" stroke="#000" stroke-width="0.8"/>
<text x="263.2" y="234" font-size="4.3" text-anchor="middle" fill="#151515" font-weight="bold" stroke="#151515" stroke-width="0.15" >CVID</text>
<line x1="263.2" y1="183.2" x2="263.2" y2="198.8" stroke="#000" stroke-width="0.9"/>
<line x1="259.2" y1="183.2" x2="267.2" y2="183.2" stroke="#000" stroke-width="0.9"/>
<line x1="259.2" y1="198.8" x2="267.2" y2="198.8" stroke="#000" stroke-width="0.9"/>
<line x1="255.2" y1="191" x2="271.2" y2="191" stroke="#000" stroke-width="0.9"/>
<circle cx="263.2" cy="183.2" r="1.15" fill="#000"/>
<circle cx="261" cy="188.4" r="1.15" fill="#000"/>
<circle cx="264.5" cy="188.9" r="1.15" fill="#000"/>
<circle cx="262.7" cy="202.7" r="1.15" fill="#000"/>
<line x1="287.3" y1="227.4" x2="287.3" y2="228.8" stroke="#000" stroke-width="0.8"/>
<text x="287.3" y="234" font-size="4.3" text-anchor="middle" fill="#151515" font-weight="bold" stroke="#151515" stroke-width="0.15" >CVID-AI</text>
<line x1="287.3" y1="177.2" x2="287.3" y2="189.7" stroke="#000" stroke-width="0.9"/>
<line x1="283.3" y1="177.2" x2="291.3" y2="177.2" stroke="#000" stroke-width="0.9"/>
<line x1="283.3" y1="189.7" x2="291.3" y2="189.7" stroke="#000" stroke-width="0.9"/>
<line x1="279.3" y1="183.7" x2="295.3" y2="183.7" stroke="#000" stroke-width="0.9"/>
<circle cx="285.3" cy="178" r="1.15" fill="#000"/>
<circle cx="289.2" cy="179.3" r="1.15" fill="#000"/>
<circle cx="286.6" cy="189.2" r="1.15" fill="#000"/>
<circle cx="289.2" cy="188.4" r="1.15" fill="#000"/>
<line x1="312.5" y1="227.4" x2="312.5" y2="228.8" stroke="#000" stroke-width="0.8"/>
<text x="312.5" y="234" font-size="4.3" text-anchor="middle" fill="#151515" font-weight="bold" stroke="#151515" stroke-width="0.15" >Healthy</text>
<line x1="312.5" y1="181.4" x2="312.5" y2="200.6" stroke="#000" stroke-width="0.9"/>
<line x1="308.5" y1="181.4" x2="316.5" y2="181.4" stroke="#000" stroke-width="0.9"/>
<line x1="308.5" y1="200.6" x2="316.5" y2="200.6" stroke="#000" stroke-width="0.9"/>
<line x1="304.5" y1="191" x2="320.5" y2="191" stroke="#000" stroke-width="0.9"/>
<circle cx="312" cy="177.5" r="1.15" fill="#000"/>
<circle cx="309.5" cy="183.7" r="1.15" fill="#000"/>
<circle cx="315" cy="183.2" r="1.15" fill="#000"/>
<circle cx="310" cy="187" r="1.15" fill="#000"/>
<circle cx="314" cy="187" r="1.15" fill="#000"/>
<circle cx="312" cy="189.7" r="1.15" fill="#000"/>
<circle cx="309.5" cy="192.3" r="1.15" fill="#000"/>
<circle cx="315" cy="191.5" r="1.15" fill="#000"/>
<circle cx="311.2" cy="196.2" r="1.15" fill="#000"/>
<circle cx="314" cy="197.5" r="1.15" fill="#000"/>
<circle cx="313" cy="206.6" r="1.15" fill="#000"/>
<circle cx="310.5" cy="208.6" r="1.15" fill="#000"/>
<text x="287.3" y="165.5" font-size="5.1" text-anchor="middle" fill="#151515" font-weight="bold" stroke="#151515" stroke-width="0.17" >Naive</text>
<text x="233.2" y="200" font-size="4.0" text-anchor="middle" fill="#111" font-weight="bold" stroke="#111" stroke-width="0.2" textLength="40" lengthAdjust="spacingAndGlyphs" transform="rotate(-90 233.2 200)" >% of CD19+ B cells</text>
<line x1="30.4" y1="253.3" x2="30.4" y2="308.4" stroke="#000" stroke-width="0.9"/>
<line x1="28.2" y1="253.3" x2="30.4" y2="253.3" stroke="#000" stroke-width="0.8"/>
<text x="28.099999999999998" y="254.74" font-size="4.0" text-anchor="end" fill="#1a1a1a" font-weight="bold" stroke="#1a1a1a" stroke-width="0.15" >40</text>
<line x1="28.2" y1="264.3" x2="30.4" y2="264.3" stroke="#000" stroke-width="0.8"/>
<text x="28.099999999999998" y="265.74" font-size="4.0" text-anchor="end" fill="#1a1a1a" font-weight="bold" stroke="#1a1a1a" stroke-width="0.15" >30</text>
<line x1="28.2" y1="275.3" x2="30.4" y2="275.3" stroke="#000" stroke-width="0.8"/>
<text x="28.099999999999998" y="276.74" font-size="4.0" text-anchor="end" fill="#1a1a1a" font-weight="bold" stroke="#1a1a1a" stroke-width="0.15" >20</text>
<line x1="28.2" y1="286.3" x2="30.4" y2="286.3" stroke="#000" stroke-width="0.8"/>
<text x="28.099999999999998" y="287.74" font-size="4.0" text-anchor="end" fill="#1a1a1a" font-weight="bold" stroke="#1a1a1a" stroke-width="0.15" >10</text>
<line x1="28.2" y1="297.4" x2="30.4" y2="297.4" stroke="#000" stroke-width="0.8"/>
<text x="28.099999999999998" y="298.84" font-size="4.0" text-anchor="end" fill="#1a1a1a" font-weight="bold" stroke="#1a1a1a" stroke-width="0.15" >0</text>
<line x1="28.2" y1="308.4" x2="30.4" y2="308.4" stroke="#000" stroke-width="0.8"/>
<text x="28.099999999999998" y="309.84" font-size="4.0" text-anchor="end" fill="#1a1a1a" font-weight="bold" stroke="#1a1a1a" stroke-width="0.15" >-10</text>
<line x1="30.4" y1="308.4" x2="113" y2="308.4" stroke="#000" stroke-width="0.9"/>
<line x1="30.4" y1="297.4" x2="113" y2="297.4" stroke="#999" stroke-width="0.7"/>
<line x1="46.8" y1="308.4" x2="46.8" y2="309.79999999999995" stroke="#000" stroke-width="0.8"/>
<text x="46.8" y="315" font-size="4.3" text-anchor="middle" fill="#151515" font-weight="bold" stroke="#151515" stroke-width="0.15" >CVID</text>
<line x1="46.8" y1="265.7" x2="46.8" y2="294.3" stroke="#000" stroke-width="0.9"/>
<line x1="42.8" y1="265.7" x2="50.8" y2="265.7" stroke="#000" stroke-width="0.9"/>
<line x1="42.8" y1="294.3" x2="50.8" y2="294.3" stroke="#000" stroke-width="0.9"/>
<line x1="38.8" y1="280.4" x2="54.8" y2="280.4" stroke="#000" stroke-width="0.9"/>
<circle cx="46.8" cy="263.5" r="1.15" fill="#000"/>
<circle cx="46.8" cy="273" r="1.15" fill="#000"/>
<circle cx="44.9" cy="292.4" r="1.15" fill="#000"/>
<circle cx="48.4" cy="291.8" r="1.15" fill="#000"/>
<line x1="72" y1="308.4" x2="72" y2="309.79999999999995" stroke="#000" stroke-width="0.8"/>
<text x="72" y="315" font-size="4.3" text-anchor="middle" fill="#151515" font-weight="bold" stroke="#151515" stroke-width="0.15" >CVID-AI</text>
<line x1="72" y1="277.7" x2="72" y2="302.4" stroke="#000" stroke-width="0.9"/>
<line x1="68" y1="277.7" x2="76" y2="277.7" stroke="#000" stroke-width="0.9"/>
<line x1="68" y1="302.4" x2="76" y2="302.4" stroke="#000" stroke-width="0.9"/>
<line x1="64" y1="290.2" x2="80" y2="290.2" stroke="#000" stroke-width="0.9"/>
<circle cx="72" cy="271.7" r="1.15" fill="#000"/>
<circle cx="68.5" cy="296.4" r="1.15" fill="#000"/>
<circle cx="72" cy="296.4" r="1.15" fill="#000"/>
<circle cx="75.3" cy="296.4" r="1.15" fill="#000"/>
<line x1="96.1" y1="308.4" x2="96.1" y2="309.79999999999995" stroke="#000" stroke-width="0.8"/>
<text x="96.1" y="315" font-size="4.3" text-anchor="middle" fill="#151515" font-weight="bold" stroke="#151515" stroke-width="0.15" >Healthy</text>
<line x1="96.1" y1="278" x2="96.1" y2="296.8" stroke="#000" stroke-width="0.9"/>
<line x1="92.1" y1="278" x2="100.1" y2="278" stroke="#000" stroke-width="0.9"/>
<line x1="92.1" y1="296.8" x2="100.1" y2="296.8" stroke="#000" stroke-width="0.9"/>
<line x1="88.1" y1="287.1" x2="104.1" y2="287.1" stroke="#000" stroke-width="0.9"/>
<circle cx="96.1" cy="270.2" r="1.15" fill="#000"/>
<circle cx="97" cy="273.8" r="1.15" fill="#000"/>
<circle cx="93.7" cy="288.3" r="1.15" fill="#000"/>
<circle cx="99.5" cy="287.8" r="1.15" fill="#000"/>
<circle cx="92.5" cy="292.5" r="1.15" fill="#000"/>
<circle cx="95.5" cy="291" r="1.15" fill="#000"/>
<circle cx="98.5" cy="293" r="1.15" fill="#000"/>
<circle cx="100.5" cy="291.5" r="1.15" fill="#000"/>
<circle cx="94" cy="296" r="1.15" fill="#000"/>
<circle cx="97" cy="296.5" r="1.15" fill="#000"/>
<circle cx="95" cy="297.4" r="1.15" fill="#000"/>
<text x="71.2" y="246.6" font-size="5.1" text-anchor="middle" fill="#151515" font-weight="bold" stroke="#151515" stroke-width="0.17" >UNSW Memory</text>
<text x="19.2" y="280.8" font-size="4.0" text-anchor="middle" fill="#111" font-weight="bold" stroke="#111" stroke-width="0.2" textLength="40" lengthAdjust="spacingAndGlyphs" transform="rotate(-90 19.2 280.8)" >% of CD19+ B cells</text>
<line x1="142.3" y1="253.6" x2="142.3" y2="308.4" stroke="#000" stroke-width="0.9"/>
<line x1="140.10000000000002" y1="253.6" x2="142.3" y2="253.6" stroke="#000" stroke-width="0.8"/>
<text x="140.0" y="254.82399999999998" font-size="3.4" text-anchor="end" fill="#1a1a1a" font-weight="bold" stroke="#1a1a1a" stroke-width="0.15" >40</text>
<line x1="140.10000000000002" y1="267.3" x2="142.3" y2="267.3" stroke="#000" stroke-width="0.8"/>
<text x="140.0" y="268.524" font-size="3.4" text-anchor="end" fill="#1a1a1a" font-weight="bold" stroke="#1a1a1a" stroke-width="0.15" >30</text>
<line x1="140.10000000000002" y1="281" x2="142.3" y2="281" stroke="#000" stroke-width="0.8"/>
<text x="140.0" y="282.224" font-size="3.4" text-anchor="end" fill="#1a1a1a" font-weight="bold" stroke="#1a1a1a" stroke-width="0.15" >20</text>
<line x1="140.10000000000002" y1="294.7" x2="142.3" y2="294.7" stroke="#000" stroke-width="0.8"/>
<text x="140.0" y="295.924" font-size="3.4" text-anchor="end" fill="#1a1a1a" font-weight="bold" stroke="#1a1a1a" stroke-width="0.15" >10</text>
<line x1="140.10000000000002" y1="308.4" x2="142.3" y2="308.4" stroke="#000" stroke-width="0.8"/>
<text x="140.0" y="309.62399999999997" font-size="3.4" text-anchor="end" fill="#1a1a1a" font-weight="bold" stroke="#1a1a1a" stroke-width="0.15" >0</text>
<line x1="142.3" y1="308.4" x2="219.6" y2="308.4" stroke="#000" stroke-width="0.9"/>
<line x1="159.3" y1="308.4" x2="159.3" y2="309.79999999999995" stroke="#000" stroke-width="0.8"/>
<text x="159.3" y="315" font-size="4.3" text-anchor="middle" fill="#151515" font-weight="bold" stroke="#151515" stroke-width="0.15" >CVID</text>
<line x1="159.3" y1="291.1" x2="159.3" y2="300.1" stroke="#000" stroke-width="0.9"/>
<line x1="155.3" y1="291.1" x2="163.3" y2="291.1" stroke="#000" stroke-width="0.9"/>
<line x1="155.3" y1="300.1" x2="163.3" y2="300.1" stroke="#000" stroke-width="0.9"/>
<line x1="151.60000000000002" y1="296.2" x2="167.0" y2="296.2" stroke="#000" stroke-width="0.9"/>
<circle cx="159.3" cy="289.8" r="1.15" fill="#000"/>
<circle cx="158" cy="295.7" r="1.15" fill="#000"/>
<circle cx="160.8" cy="295.9" r="1.15" fill="#000"/>
<circle cx="157" cy="300" r="1.15" fill="#000"/>
<circle cx="160.8" cy="300" r="1.15" fill="#000"/>
<line x1="181.9" y1="308.4" x2="181.9" y2="309.79999999999995" stroke="#000" stroke-width="0.8"/>
<text x="181.9" y="315" font-size="4.3" text-anchor="middle" fill="#151515" font-weight="bold" stroke="#151515" stroke-width="0.15" >CVID-AI</text>
<line x1="181.9" y1="306.2" x2="181.9" y2="307.6" stroke="#000" stroke-width="0.9"/>
<line x1="177.9" y1="306.2" x2="185.9" y2="306.2" stroke="#000" stroke-width="0.9"/>
<line x1="177.9" y1="307.6" x2="185.9" y2="307.6" stroke="#000" stroke-width="0.9"/>
<line x1="173.9" y1="307" x2="189.9" y2="307" stroke="#000" stroke-width="0.9"/>
<circle cx="178.5" cy="306.8" r="1.15" fill="#000"/>
<circle cx="180.5" cy="307" r="1.15" fill="#000"/>
<circle cx="182.5" cy="306.8" r="1.15" fill="#000"/>
<circle cx="184.5" cy="306.5" r="1.15" fill="#000"/>
<circle cx="186.5" cy="306" r="1.15" fill="#000"/>
<line x1="205" y1="308.4" x2="205" y2="309.79999999999995" stroke="#000" stroke-width="0.8"/>
<text x="205" y="315" font-size="4.3" text-anchor="middle" fill="#151515" font-weight="bold" stroke="#151515" stroke-width="0.15" >Healthy</text>
<line x1="205" y1="277.5" x2="205" y2="303.9" stroke="#000" stroke-width="0.9"/>
<line x1="201" y1="277.5" x2="209" y2="277.5" stroke="#000" stroke-width="0.9"/>
<line x1="201" y1="303.9" x2="209" y2="303.9" stroke="#000" stroke-width="0.9"/>
<line x1="195" y1="290.3" x2="215" y2="290.3" stroke="#000" stroke-width="0.9"/>
<circle cx="207.3" cy="266.7" r="1.15" fill="#000"/>
<circle cx="209.8" cy="269.3" r="1.15" fill="#000"/>
<circle cx="207.3" cy="288.5" r="1.15" fill="#000"/>
<circle cx="209.3" cy="289.8" r="1.15" fill="#000"/>
<circle cx="203" cy="293.6" r="1.15" fill="#000"/>
<circle cx="207.3" cy="293.6" r="1.15" fill="#000"/>
<circle cx="212.6" cy="294.9" r="1.15" fill="#000"/>
<circle cx="205" cy="298" r="1.15" fill="#000"/>
<circle cx="207.3" cy="297.5" r="1.15" fill="#000"/>
<circle cx="203" cy="300" r="1.15" fill="#000"/>
<circle cx="208.8" cy="302.6" r="1.15" fill="#000"/>
<circle cx="207" cy="305.2" r="1.15" fill="#000"/>
<text x="183.5" y="246.6" font-size="5.1" text-anchor="middle" fill="#151515" font-weight="bold" stroke="#151515" stroke-width="0.17" >SW Memory</text>
<text x="131.5" y="281.2" font-size="4.0" text-anchor="middle" fill="#111" font-weight="bold" stroke="#111" stroke-width="0.2" textLength="39.2" lengthAdjust="spacingAndGlyphs" transform="rotate(-90 131.5 281.2)" >% of CD19+ B cells</text>
<line x1="156.7" y1="255.3" x2="180.4" y2="255.3" stroke="#333" stroke-width="1.0"/>
<line x1="168.55" y1="252.10" x2="168.55" y2="254.50" stroke="#222" stroke-width="0.75"/>
<line x1="167.51" y1="252.70" x2="169.59" y2="253.90" stroke="#222" stroke-width="0.75"/>
<line x1="167.51" y1="253.90" x2="169.59" y2="252.70" stroke="#222" stroke-width="0.75"/>
<line x1="185.8" y1="255.3" x2="208" y2="255.3" stroke="#333" stroke-width="1.0"/>
<line x1="195.45" y1="252.10" x2="195.45" y2="254.50" stroke="#222" stroke-width="0.75"/>
<line x1="194.41" y1="252.70" x2="196.49" y2="253.90" stroke="#222" stroke-width="0.75"/>
<line x1="194.41" y1="253.90" x2="196.49" y2="252.70" stroke="#222" stroke-width="0.75"/>
<line x1="198.35" y1="252.10" x2="198.35" y2="254.50" stroke="#222" stroke-width="0.75"/>
<line x1="197.31" y1="252.70" x2="199.39" y2="253.90" stroke="#222" stroke-width="0.75"/>
<line x1="197.31" y1="253.90" x2="199.39" y2="252.70" stroke="#222" stroke-width="0.75"/>
<line x1="246.4" y1="253.3" x2="246.4" y2="308.4" stroke="#000" stroke-width="0.9"/>
<line x1="244.20000000000002" y1="253.3" x2="246.4" y2="253.3" stroke="#000" stroke-width="0.8"/>
<text x="244.1" y="254.27200000000002" font-size="2.7" text-anchor="end" fill="#1a1a1a" font-weight="bold" stroke="#1a1a1a" stroke-width="0.15" >30</text>
<line x1="244.20000000000002" y1="267" x2="246.4" y2="267" stroke="#000" stroke-width="0.8"/>
<text x="244.1" y="267.972" font-size="2.7" text-anchor="end" fill="#1a1a1a" font-weight="bold" stroke="#1a1a1a" stroke-width="0.15" >20</text>
<line x1="244.20000000000002" y1="280.8" x2="246.4" y2="280.8" stroke="#000" stroke-width="0.8"/>
<text x="244.1" y="281.772" font-size="2.7" text-anchor="end" fill="#1a1a1a" font-weight="bold" stroke="#1a1a1a" stroke-width="0.15" >10</text>
<line x1="244.20000000000002" y1="294.6" x2="246.4" y2="294.6" stroke="#000" stroke-width="0.8"/>
<text x="244.1" y="295.572" font-size="2.7" text-anchor="end" fill="#1a1a1a" font-weight="bold" stroke="#1a1a1a" stroke-width="0.15" >0</text>
<line x1="244.20000000000002" y1="308.4" x2="246.4" y2="308.4" stroke="#000" stroke-width="0.8"/>
<text x="244.1" y="309.37199999999996" font-size="2.7" text-anchor="end" fill="#1a1a1a" font-weight="bold" stroke="#1a1a1a" stroke-width="0.15" >-10</text>
<line x1="246.4" y1="308.4" x2="329.4" y2="308.4" stroke="#000" stroke-width="0.9"/>
<line x1="246.4" y1="294.6" x2="329.4" y2="294.6" stroke="#999" stroke-width="0.7"/>
<line x1="264.2" y1="308.4" x2="264.2" y2="309.79999999999995" stroke="#000" stroke-width="0.8"/>
<text x="264.2" y="315" font-size="4.3" text-anchor="middle" fill="#151515" font-weight="bold" stroke="#151515" stroke-width="0.15" >CVID</text>
<line x1="264.2" y1="283.8" x2="264.2" y2="292" stroke="#000" stroke-width="0.9"/>
<line x1="260.2" y1="283.8" x2="268.2" y2="283.8" stroke="#000" stroke-width="0.9"/>
<line x1="260.2" y1="292" x2="268.2" y2="292" stroke="#000" stroke-width="0.9"/>
<line x1="257.7" y1="287.9" x2="270.7" y2="287.9" stroke="#000" stroke-width="0.9"/>
<circle cx="262" cy="284.4" r="1.15" fill="#000"/>
<circle cx="266.1" cy="284.4" r="1.15" fill="#000"/>
<circle cx="261.8" cy="288" r="1.15" fill="#000"/>
<circle cx="266.5" cy="288.8" r="1.15" fill="#000"/>
<circle cx="261.4" cy="292.6" r="1.15" fill="#000"/>
<line x1="288.1" y1="308.4" x2="288.1" y2="309.79999999999995" stroke="#000" stroke-width="0.8"/>
<text x="288.1" y="315" font-size="4.3" text-anchor="middle" fill="#151515" font-weight="bold" stroke="#151515" stroke-width="0.15" >CVID-AI</text>
<line x1="288.1" y1="270" x2="288.1" y2="296.2" stroke="#000" stroke-width="0.9"/>
<line x1="284.1" y1="270" x2="292.1" y2="270" stroke="#000" stroke-width="0.9"/>
<line x1="284.1" y1="296.2" x2="292.1" y2="296.2" stroke="#000" stroke-width="0.9"/>
<line x1="280.3" y1="283.5" x2="295.90000000000003" y2="283.5" stroke="#000" stroke-width="0.9"/>
<circle cx="288.1" cy="263.7" r="1.15" fill="#000"/>
<circle cx="286.2" cy="287.7" r="1.15" fill="#000"/>
<circle cx="290.3" cy="287.7" r="1.15" fill="#000"/>
<circle cx="288.1" cy="293.2" r="1.15" fill="#000"/>
<line x1="312" y1="308.4" x2="312" y2="309.79999999999995" stroke="#000" stroke-width="0.8"/>
<text x="312" y="315" font-size="4.3" text-anchor="middle" fill="#151515" font-weight="bold" stroke="#151515" stroke-width="0.15" >Healthy</text>
<line x1="312" y1="275.3" x2="312" y2="297.3" stroke="#000" stroke-width="0.9"/>
<line x1="308" y1="275.3" x2="316" y2="275.3" stroke="#000" stroke-width="0.9"/>
<line x1="308" y1="297.3" x2="316" y2="297.3" stroke="#000" stroke-width="0.9"/>
<line x1="304" y1="285.7" x2="320" y2="285.7" stroke="#000" stroke-width="0.9"/>
<circle cx="312.9" cy="258.2" r="1.15" fill="#000"/>
<circle cx="312.9" cy="268.7" r="1.15" fill="#000"/>
<circle cx="307.4" cy="287.9" r="1.15" fill="#000"/>
<circle cx="312" cy="287.1" r="1.15" fill="#000"/>
<circle cx="316.4" cy="286.3" r="1.15" fill="#000"/>
<circle cx="308.2" cy="291.3" r="1.15" fill="#000"/>
<circle cx="311" cy="292.6" r="1.15" fill="#000"/>
<circle cx="314.8" cy="292.6" r="1.15" fill="#000"/>
<circle cx="319.2" cy="291.3" r="1.15" fill="#000"/>
<circle cx="314.2" cy="295.4" r="1.15" fill="#000"/>
<circle cx="309.5" cy="295.4" r="1.15" fill="#000"/>
<text x="288.2" y="246.6" font-size="5.1" text-anchor="middle" fill="#151515" font-weight="bold" stroke="#151515" stroke-width="0.17" >DN</text>
<text x="236.2" y="281.2" font-size="4.0" text-anchor="middle" fill="#111" font-weight="bold" stroke="#111" stroke-width="0.2" textLength="39.2" lengthAdjust="spacingAndGlyphs" transform="rotate(-90 236.2 281.2)" >% of CD19+ B cells</text>
<line x1="30.4" y1="336.1" x2="30.4" y2="390.8" stroke="#000" stroke-width="0.9"/>
<line x1="28.2" y1="336.1" x2="30.4" y2="336.1" stroke="#000" stroke-width="0.8"/>
<text x="28.099999999999998" y="337.54" font-size="4.0" text-anchor="end" fill="#1a1a1a" font-weight="bold" stroke="#1a1a1a" stroke-width="0.15" >40</text>
<line x1="28.2" y1="347" x2="30.4" y2="347" stroke="#000" stroke-width="0.8"/>
<text x="28.099999999999998" y="348.44" font-size="4.0" text-anchor="end" fill="#1a1a1a" font-weight="bold" stroke="#1a1a1a" stroke-width="0.15" >30</text>
<line x1="28.2" y1="358" x2="30.4" y2="358" stroke="#000" stroke-width="0.8"/>
<text x="28.099999999999998" y="359.44" font-size="4.0" text-anchor="end" fill="#1a1a1a" font-weight="bold" stroke="#1a1a1a" stroke-width="0.15" >20</text>
<line x1="28.2" y1="368.9" x2="30.4" y2="368.9" stroke="#000" stroke-width="0.8"/>
<text x="28.099999999999998" y="370.34" font-size="4.0" text-anchor="end" fill="#1a1a1a" font-weight="bold" stroke="#1a1a1a" stroke-width="0.15" >10</text>
<line x1="28.2" y1="379.9" x2="30.4" y2="379.9" stroke="#000" stroke-width="0.8"/>
<text x="28.099999999999998" y="381.34" font-size="4.0" text-anchor="end" fill="#1a1a1a" font-weight="bold" stroke="#1a1a1a" stroke-width="0.15" >0</text>
<line x1="28.2" y1="390.8" x2="30.4" y2="390.8" stroke="#000" stroke-width="0.8"/>
<text x="28.099999999999998" y="392.24" font-size="4.0" text-anchor="end" fill="#1a1a1a" font-weight="bold" stroke="#1a1a1a" stroke-width="0.15" >-10</text>
<line x1="30.4" y1="390.8" x2="113.4" y2="390.8" stroke="#000" stroke-width="0.9"/>
<line x1="30.4" y1="379.9" x2="113.4" y2="379.9" stroke="#999" stroke-width="0.7"/>
<line x1="47" y1="390.8" x2="47" y2="392.2" stroke="#000" stroke-width="0.8"/>
<text x="47" y="397.6" font-size="4.3" text-anchor="middle" fill="#151515" font-weight="bold" stroke="#151515" stroke-width="0.15" >CVID</text>
<line x1="47" y1="373.6" x2="47" y2="380" stroke="#000" stroke-width="0.9"/>
<line x1="43" y1="373.6" x2="51" y2="373.6" stroke="#000" stroke-width="0.9"/>
<line x1="43" y1="380" x2="51" y2="380" stroke="#000" stroke-width="0.9"/>
<line x1="39" y1="377.4" x2="55" y2="377.4" stroke="#000" stroke-width="0.9"/>
<circle cx="47" cy="372.4" r="1.15" fill="#000"/>
<circle cx="45" cy="379" r="1.15" fill="#000"/>
<circle cx="48" cy="379" r="1.15" fill="#000"/>
<circle cx="49.6" cy="379.4" r="1.15" fill="#000"/>
<line x1="71.8" y1="390.8" x2="71.8" y2="392.2" stroke="#000" stroke-width="0.8"/>
<text x="71.8" y="397.6" font-size="4.3" text-anchor="middle" fill="#151515" font-weight="bold" stroke="#151515" stroke-width="0.15" >CVID-AI</text>
<line x1="71.8" y1="350.7" x2="71.8" y2="384" stroke="#000" stroke-width="0.9"/>
<line x1="67.8" y1="350.7" x2="75.8" y2="350.7" stroke="#000" stroke-width="0.9"/>
<line x1="67.8" y1="384" x2="75.8" y2="384" stroke="#000" stroke-width="0.9"/>
<line x1="63.8" y1="367" x2="79.8" y2="367" stroke="#000" stroke-width="0.9"/>
<circle cx="71.8" cy="342.2" r="1.15" fill="#000"/>
<circle cx="70.1" cy="371.8" r="1.15" fill="#000"/>
<circle cx="73.3" cy="375.4" r="1.15" fill="#000"/>
<circle cx="71.8" cy="379.8" r="1.15" fill="#000"/>
<line x1="97" y1="390.8" x2="97" y2="392.2" stroke="#000" stroke-width="0.8"/>
<text x="97" y="397.6" font-size="4.3" text-anchor="middle" fill="#151515" font-weight="bold" stroke="#151515" stroke-width="0.15" >Healthy</text>
<line x1="97" y1="370.3" x2="97" y2="383" stroke="#000" stroke-width="0.9"/>
<line x1="93" y1="370.3" x2="101" y2="370.3" stroke="#000" stroke-width="0.9"/>
<line x1="93" y1="383" x2="101" y2="383" stroke="#000" stroke-width="0.9"/>
<line x1="89" y1="376.7" x2="105" y2="376.7" stroke="#000" stroke-width="0.9"/>
<circle cx="97" cy="357.4" r="1.15" fill="#000"/>
<circle cx="97" cy="370.7" r="1.15" fill="#000"/>
<circle cx="92" cy="377.5" r="1.15" fill="#000"/>
<circle cx="94" cy="378.8" r="1.15" fill="#000"/>
<circle cx="96" cy="379.3" r="1.15" fill="#000"/>
<circle cx="98" cy="379.3" r="1.15" fill="#000"/>
<circle cx="100" cy="378.5" r="1.15" fill="#000"/>
<circle cx="102" cy="377.5" r="1.15" fill="#000"/>
<circle cx="95" cy="377" r="1.15" fill="#000"/>
<circle cx="99" cy="376.5" r="1.15" fill="#000"/>
<text x="71.6" y="329.3" font-size="5.1" text-anchor="middle" fill="#151515" font-weight="bold" stroke="#151515" stroke-width="0.17" >Activated Naive</text>
<text x="19.1" y="364" font-size="4.0" text-anchor="middle" fill="#111" font-weight="bold" stroke="#111" stroke-width="0.2" textLength="37.6" lengthAdjust="spacingAndGlyphs" transform="rotate(-90 19.1 364)" >% of Naive B cells</text>
<line x1="143.5" y1="336.1" x2="143.5" y2="391.1" stroke="#000" stroke-width="0.9"/>
<line x1="141.3" y1="336.1" x2="143.5" y2="336.1" stroke="#000" stroke-width="0.8"/>
<text x="141.2" y="337.432" font-size="3.7" text-anchor="end" fill="#1a1a1a" font-weight="bold" stroke="#1a1a1a" stroke-width="0.15" >80</text>
<line x1="141.3" y1="346.9" x2="143.5" y2="346.9" stroke="#000" stroke-width="0.8"/>
<text x="141.2" y="348.23199999999997" font-size="3.7" text-anchor="end" fill="#1a1a1a" font-weight="bold" stroke="#1a1a1a" stroke-width="0.15" >60</text>
<line x1="141.3" y1="358" x2="143.5" y2="358" stroke="#000" stroke-width="0.8"/>
<text x="141.2" y="359.332" font-size="3.7" text-anchor="end" fill="#1a1a1a" font-weight="bold" stroke="#1a1a1a" stroke-width="0.15" >40</text>
<line x1="141.3" y1="369.1" x2="143.5" y2="369.1" stroke="#000" stroke-width="0.8"/>
<text x="141.2" y="370.432" font-size="3.7" text-anchor="end" fill="#1a1a1a" font-weight="bold" stroke="#1a1a1a" stroke-width="0.15" >20</text>
<line x1="141.3" y1="380.1" x2="143.5" y2="380.1" stroke="#000" stroke-width="0.8"/>
<text x="141.2" y="381.432" font-size="3.7" text-anchor="end" fill="#1a1a1a" font-weight="bold" stroke="#1a1a1a" stroke-width="0.15" >0</text>
<line x1="141.3" y1="391.1" x2="143.5" y2="391.1" stroke="#000" stroke-width="0.8"/>
<text x="141.2" y="392.432" font-size="3.7" text-anchor="end" fill="#1a1a1a" font-weight="bold" stroke="#1a1a1a" stroke-width="0.15" >-20</text>
<line x1="143.5" y1="391.1" x2="228.4" y2="391.1" stroke="#000" stroke-width="0.9"/>
<line x1="143.5" y1="380.1" x2="228.4" y2="380.1" stroke="#999" stroke-width="0.7"/>
<line x1="159.6" y1="391.1" x2="159.6" y2="392.5" stroke="#000" stroke-width="0.8"/>
<text x="159.6" y="397.6" font-size="4.3" text-anchor="middle" fill="#151515" font-weight="bold" stroke="#151515" stroke-width="0.15" >CVID</text>
<line x1="159.6" y1="368.6" x2="159.6" y2="380.3" stroke="#000" stroke-width="0.9"/>
<line x1="155.6" y1="368.6" x2="163.6" y2="368.6" stroke="#000" stroke-width="0.9"/>
<line x1="155.6" y1="380.3" x2="163.6" y2="380.3" stroke="#000" stroke-width="0.9"/>
<line x1="151.9" y1="374.3" x2="167.29999999999998" y2="374.3" stroke="#000" stroke-width="0.9"/>
<circle cx="159.6" cy="365.3" r="1.15" fill="#000"/>
<circle cx="160.3" cy="377.6" r="1.15" fill="#000"/>
<circle cx="156.8" cy="380" r="1.15" fill="#000"/>
<circle cx="159.6" cy="380.5" r="1.15" fill="#000"/>
<line x1="184.9" y1="391.1" x2="184.9" y2="392.5" stroke="#000" stroke-width="0.8"/>
<text x="184.9" y="397.6" font-size="4.3" text-anchor="middle" fill="#151515" font-weight="bold" stroke="#151515" stroke-width="0.15" >CVID-AI</text>
<line x1="184.9" y1="369.4" x2="184.9" y2="377.6" stroke="#000" stroke-width="0.9"/>
<line x1="180.9" y1="369.4" x2="188.9" y2="369.4" stroke="#000" stroke-width="0.9"/>
<line x1="180.9" y1="377.6" x2="188.9" y2="377.6" stroke="#000" stroke-width="0.9"/>
<line x1="176.9" y1="373.5" x2="192.9" y2="373.5" stroke="#000" stroke-width="0.9"/>
<circle cx="184.9" cy="367.2" r="1.15" fill="#000"/>
<circle cx="183" cy="376.8" r="1.15" fill="#000"/>
<circle cx="186.2" cy="376.8" r="1.15" fill="#000"/>
<circle cx="188.4" cy="376.8" r="1.15" fill="#000"/>
<line x1="209.3" y1="391.1" x2="209.3" y2="392.5" stroke="#000" stroke-width="0.8"/>
<text x="209.3" y="397.6" font-size="4.3" text-anchor="middle" fill="#151515" font-weight="bold" stroke="#151515" stroke-width="0.15" >Healthy</text>
<line x1="209.3" y1="359.4" x2="209.3" y2="376.2" stroke="#000" stroke-width="0.9"/>
<line x1="205.3" y1="359.4" x2="213.3" y2="359.4" stroke="#000" stroke-width="0.9"/>
<line x1="205.3" y1="376.2" x2="213.3" y2="376.2" stroke="#000" stroke-width="0.9"/>
<line x1="201.3" y1="367.5" x2="217.3" y2="367.5" stroke="#000" stroke-width="0.9"/>
<circle cx="210.1" cy="347.7" r="1.15" fill="#000"/>
<circle cx="208.8" cy="359.4" r="1.15" fill="#000"/>
<circle cx="211.2" cy="359.4" r="1.15" fill="#000"/>
<circle cx="205.3" cy="366.7" r="1.15" fill="#000"/>
<circle cx="209.3" cy="366.7" r="1.15" fill="#000"/>
<circle cx="213.4" cy="365.3" r="1.15" fill="#000"/>
<circle cx="205.3" cy="370.8" r="1.15" fill="#000"/>
<circle cx="210.1" cy="370.2" r="1.15" fill="#000"/>
<circle cx="216.6" cy="370.8" r="1.15" fill="#000"/>
<circle cx="209.3" cy="372.1" r="1.15" fill="#000"/>
<circle cx="212" cy="373.5" r="1.15" fill="#000"/>
<circle cx="207.4" cy="376.2" r="1.15" fill="#000"/>
<circle cx="210.1" cy="376.2" r="1.15" fill="#000"/>
<circle cx="212" cy="377.6" r="1.15" fill="#000"/>
<text x="184.9" y="329.2" font-size="5.1" text-anchor="middle" fill="#151515" font-weight="bold" stroke="#151515" stroke-width="0.17" >DN2</text>
<text x="133.0" y="364.8" font-size="4.0" text-anchor="middle" fill="#111" font-weight="bold" stroke="#111" stroke-width="0.2" textLength="31.2" lengthAdjust="spacingAndGlyphs" transform="rotate(-90 133.0 364.8)" >% of DN B cells</text>
</svg></body></html>
